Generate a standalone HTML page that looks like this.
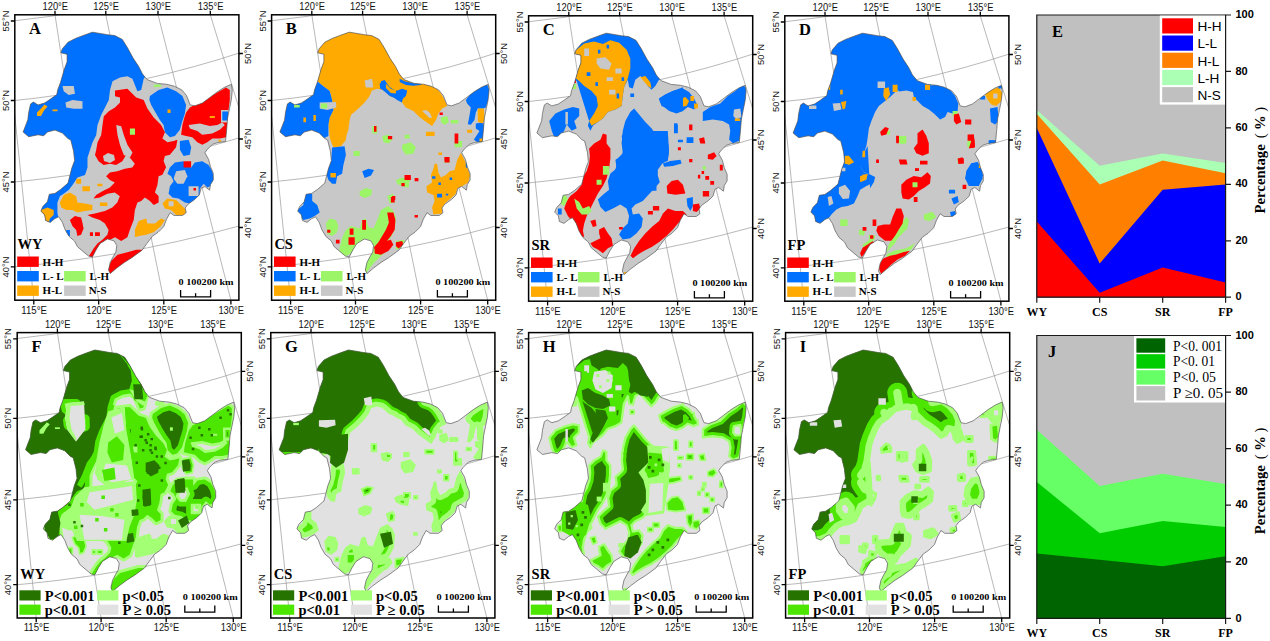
<!DOCTYPE html><html><head><meta charset="utf-8"><title>Figure</title><style>
html,body{margin:0;padding:0;background:#fff}svg{display:block}
text{font-family:"Liberation Sans",sans-serif;fill:#000}
.ax text{font-size:10.2px;fill:#111}
.bs{font-family:"Liberation Serif",serif;font-weight:bold}
.sb{font-family:"Liberation Sans",sans-serif;font-weight:bold}
.sn{font-family:"Liberation Sans",sans-serif}
.sr{font-family:"Liberation Serif",serif}
</style></head><body>
<svg width="1270" height="641" viewBox="0 0 1270 641">
<rect width="1270" height="641" fill="#fff"/>
<defs><clipPath id="mapclip"><polygon points="23.1,132.0 27.8,119.9 28.7,112.4 30.6,103.9 33.4,102.1 38.1,104.9 44.6,103.0 50.2,99.3 56.8,94.6 57.7,89.9 60.5,82.4 64.3,69.3 67.1,61.8 67.1,54.3 60.9,52.8 62.4,48.7 68.0,42.2 75.5,38.4 84.0,35.2 92.4,32.2 99.9,33.4 107.3,34.7 114.8,35.6 122.3,39.4 127.5,47.8 133.1,58.1 138.7,66.5 142.5,74.0 147.1,79.6 157.4,83.4 166.8,84.3 174.3,86.2 181.8,89.9 186.5,95.5 190.2,104.9 194.9,105.8 202.4,103.0 209.9,97.4 217.3,91.8 224.8,87.1 231.4,84.3 232.3,89.9 231.4,99.3 229.5,108.6 227.6,118.0 226.7,129.2 225.5,141.5 218.0,142.5 212.4,144.3 206.8,150.0 204.9,152.8 208.6,159.3 210.5,166.8 213.3,173.4 213.3,179.9 210.5,184.6 209.6,190.2 204.9,186.5 201.1,188.3 199.3,194.9 194.6,199.6 188.0,204.2 185.2,208.0 186.2,212.7 182.4,215.5 174.0,215.5 170.2,212.7 166.5,219.2 163.7,226.7 158.1,232.3 152.4,236.2 146.8,243.6 142.1,250.2 131.8,257.7 124.3,262.4 116.8,268.0 110.2,273.6 108.5,270.0 110.2,262.4 113.1,256.8 115.9,252.1 116.8,245.5 114.0,240.8 107.4,239.0 100.0,243.6 96.0,250.0 92.4,257.0 88.6,256.1 83.0,251.4 77.4,246.7 74.6,241.1 69.0,236.4 65.2,229.9 62.4,222.4 58.7,216.8 54.9,218.6 50.2,222.4 45.6,220.5 44.6,214.9 40.9,211.1 42.8,206.5 47.4,201.8 49.3,194.3 54.9,193.4 60.5,189.6 68.0,183.1 69.9,175.6 71.8,168.1 74.6,160.6 73.6,151.2 70.8,140.0 68.0,138.6 62.4,133.0 54.9,130.1 47.4,132.0 43.7,135.8 38.1,134.8 28.7,136.7"/></clipPath>
<clipPath id="frameclip"><rect x="14.8" y="14.8" width="224.1" height="285.4"/></clipPath></defs>
<g transform="translate(0,0)">
<g clip-path="url(#frameclip)" stroke="#9a9a9a" stroke-width="0.7" fill="none">
<line x1="54.7" y1="12.8" x2="99.0" y2="302.2"/>
<line x1="105.4" y1="12.8" x2="164.3" y2="302.2"/>
<line x1="157.5" y1="12.8" x2="231.4" y2="302.2"/>
<line x1="209.7" y1="12.8" x2="298.6" y2="302.2"/>
<line x1="2.9" y1="0" x2="35.1" y2="313.1"/>
<circle cx="-99.5" cy="-994.0" r="1021.4"/>
<circle cx="-99.5" cy="-994.0" r="1100.5"/>
<circle cx="-99.5" cy="-994.0" r="1181.5"/>
<circle cx="-99.5" cy="-994.0" r="1266.1"/>
</g>
<g clip-path="url(#mapclip)">
<polygon points="23.1,132.0 27.8,119.9 28.7,112.4 30.6,103.9 33.4,102.1 38.1,104.9 44.6,103.0 50.2,99.3 56.8,94.6 57.7,89.9 60.5,82.4 64.3,69.3 67.1,61.8 67.1,54.3 60.9,52.8 62.4,48.7 68.0,42.2 75.5,38.4 84.0,35.2 92.4,32.2 99.9,33.4 107.3,34.7 114.8,35.6 122.3,39.4 127.5,47.8 133.1,58.1 138.7,66.5 142.5,74.0 147.1,79.6 157.4,83.4 166.8,84.3 174.3,86.2 181.8,89.9 186.5,95.5 190.2,104.9 194.9,105.8 202.4,103.0 209.9,97.4 217.3,91.8 224.8,87.1 231.4,84.3 232.3,89.9 231.4,99.3 229.5,108.6 227.6,118.0 226.7,129.2 225.5,141.5 218.0,142.5 212.4,144.3 206.8,150.0 204.9,152.8 208.6,159.3 210.5,166.8 213.3,173.4 213.3,179.9 210.5,184.6 209.6,190.2 204.9,186.5 201.1,188.3 199.3,194.9 194.6,199.6 188.0,204.2 185.2,208.0 186.2,212.7 182.4,215.5 174.0,215.5 170.2,212.7 166.5,219.2 163.7,226.7 158.1,232.3 152.4,236.2 146.8,243.6 142.1,250.2 131.8,257.7 124.3,262.4 116.8,268.0 110.2,273.6 108.5,270.0 110.2,262.4 113.1,256.8 115.9,252.1 116.8,245.5 114.0,240.8 107.4,239.0 100.0,243.6 96.0,250.0 92.4,257.0 88.6,256.1 83.0,251.4 77.4,246.7 74.6,241.1 69.0,236.4 65.2,229.9 62.4,222.4 58.7,216.8 54.9,218.6 50.2,222.4 45.6,220.5 44.6,214.9 40.9,211.1 42.8,206.5 47.4,201.8 49.3,194.3 54.9,193.4 60.5,189.6 68.0,183.1 69.9,175.6 71.8,168.1 74.6,160.6 73.6,151.2 70.8,140.0 68.0,138.6 62.4,133.0 54.9,130.1 47.4,132.0 43.7,135.8 38.1,134.8 28.7,136.7" fill="#c8c8c8"/>
<polygon points="0.0,0.0 150.0,0.0 150.0,70.0 143.7,78.7 141.2,90.0 137.4,91.2 132.4,78.7 127.4,76.2 120.0,77.4 112.5,81.2 110.0,90.0 108.8,100.0 105.0,107.5 101.2,115.0 97.5,125.0 96.2,135.0 92.5,142.5 90.0,150.0 87.5,157.5 87.5,167.5 85.0,175.0 77.5,177.5 72.5,185.0 68.7,189.9 63.7,193.7 59.9,196.2 57.4,202.4 57.4,212.4 58.7,219.9 54.9,223.0 40.0,225.0 0.0,225.0" fill="#0070ff"/>
<polygon points="149.9,96.1 158.6,89.9 167.4,87.4 176.1,91.2 182.4,96.1 186.1,104.9 184.9,113.6 182.4,121.1 179.9,129.8 174.9,136.1 169.9,137.3 164.9,132.3 163.6,124.9 159.9,119.9 156.1,113.6 151.2,104.9 149.4,99.9" fill="#0070ff"/>
<polygon points="179.9,141.1 188.6,139.8 191.1,147.3 189.9,154.8 183.6,156.1 179.9,149.8" fill="#0070ff"/>
<polygon points="169.9,167.4 174.9,162.4 183.6,161.2 184.9,166.2 191.1,167.4 194.8,162.4 202.3,161.2 208.6,164.9 212.3,171.2 214.1,178.7 212.3,184.9 207.3,187.4 203.6,183.7 199.8,188.7 199.8,194.9 196.1,199.9 189.9,203.6 184.9,202.4 178.6,198.6 172.4,197.4 168.6,193.7 169.9,186.2 173.6,181.2 171.1,176.2 167.4,173.7" fill="#0070ff"/>
<polygon points="176.1,171.2 184.9,169.9 187.4,176.2 183.6,183.7 177.4,183.7 173.6,178.7" fill="#c8c8c8"/>
<polygon points="188.6,186.2 198.6,186.2 198.6,196.1 188.6,196.1" fill="#c8c8c8"/>
<polygon points="183.6,161.2 191.1,161.2 191.1,167.4 183.6,167.4" fill="#ff0000"/>
<polygon points="193.5,188.0 196.0,188.0 196.0,190.5 193.5,190.5" fill="#ff0000"/>
<polygon points="66.2,229.9 69.9,229.9 69.9,236.1 66.2,236.1" fill="#0070ff"/>
<polygon points="115.0,90.4 127.4,88.7 136.2,97.4 143.7,99.9 147.4,108.6 153.7,117.4 161.1,124.9 164.9,132.3 162.4,138.6 167.4,142.3 173.6,141.1 177.4,139.8 176.1,147.3 169.9,154.8 164.9,156.1 163.6,161.1 166.1,167.3 162.4,174.8 158.6,176.2 157.4,184.9 154.9,192.4 158.6,196.1 158.6,202.4 153.7,204.9 149.9,201.1 144.9,197.4 141.2,201.1 137.4,202.4 134.9,209.9 133.7,219.9 129.9,229.8 127.4,237.3 121.2,241.1 115.0,237.3 110.0,239.8 105.0,242.3 100.0,248.6 95.0,254.8 91.2,261.1 89.0,256.0 93.6,248.6 97.4,243.6 102.4,239.8 107.4,234.8 108.6,229.9 104.9,223.6 99.9,219.9 92.4,217.4 87.4,214.9 94.9,213.6 104.9,211.1 112.3,207.4 117.3,202.4 119.8,196.2 114.8,192.4 107.4,193.7 99.9,197.4 93.6,198.6 96.1,194.9 102.4,191.2 109.9,187.4 114.8,182.4 109.9,179.9 106.1,176.2 109.9,172.4 117.3,171.2 124.8,168.7 132.3,167.4 134.8,163.7 129.8,157.5 126.1,155.0 122.3,161.2 116.1,164.9 109.9,163.7 103.6,164.9 98.6,161.2 95.0,155.0 96.2,150.0 97.5,142.5 101.2,135.0 102.5,125.0 103.8,116.2 108.8,111.2 115.0,107.5 120.0,102.5 120.0,97.5 115.0,96.2" fill="#ff0000"/>
<polygon points="116.2,125.0 121.2,126.2 123.8,135.0 127.5,145.0 132.5,152.5 130.0,157.5 123.8,155.0 120.0,145.0 117.5,135.0" fill="#c8c8c8"/>
<polygon points="103.0,156.0 108.0,153.0 114.0,155.0 115.0,160.0 110.0,163.0 104.0,161.0" fill="#c8c8c8"/>
<polygon points="186.1,112.4 189.9,107.4 197.3,103.6 207.3,98.6 217.3,92.4 226.0,87.4 229.8,89.9 229.8,99.9 228.5,109.9 227.3,119.9 228.5,129.8 226.0,137.3 219.8,138.6 212.3,138.6 207.3,142.3 202.3,144.8 197.3,142.3 192.3,137.3 186.1,136.1 181.1,134.8 182.4,124.9 184.4,117.4" fill="#ff0000"/>
<polygon points="188.6,124.9 199.8,123.6 209.8,126.1 217.3,124.9 222.3,122.4 224.8,124.9 219.8,129.8 212.3,133.6 202.3,134.8 197.3,131.1 189.9,128.6" fill="#c8c8c8"/>
<polygon points="221.0,110.0 229.5,110.0 229.5,122.5 221.0,122.5" fill="#c8c8c8"/>
<polygon points="222.3,111.5 228.0,111.5 228.0,120.6 222.3,120.6" fill="#0070ff"/>
<polygon points="69.9,219.9 74.9,216.1 81.1,217.4 82.4,222.4 83.6,228.6 81.1,234.8 77.4,236.1 76.2,229.9 72.4,226.1" fill="#ff0000"/>
<polygon points="89.9,232.3 93.0,232.3 93.0,236.1 89.9,236.1" fill="#ff0000"/>
<polygon points="95.0,232.3 99.9,232.3 99.9,236.1 95.0,236.1" fill="#ff0000"/>
<polygon points="111.2,261.1 117.5,254.8 127.4,252.3 136.2,249.8 143.7,249.8 143.0,251.5 138.7,254.8 129.9,259.8 121.2,266.0 115.0,272.3 108.0,276.0 108.0,268.5" fill="#ff0000"/>
<polygon points="41.2,209.9 47.4,207.4 53.7,209.9 53.7,214.9 49.9,218.6 48.7,223.6 44.9,222.4 43.7,217.4 38.0,214.9" fill="#ffaa00"/>
<polygon points="59.9,202.4 63.7,194.9 69.9,192.4 76.2,196.2 77.4,202.4 84.9,203.6 92.4,204.9 92.4,209.9 84.9,211.1 77.4,212.4 72.4,209.9 66.2,209.9 61.2,207.4" fill="#ffaa00"/>
<polygon points="76.2,178.7 81.1,178.7 81.1,183.7 76.2,183.7" fill="#ffaa00"/>
<polygon points="82.4,186.2 89.9,186.2 89.9,191.2 82.4,191.2" fill="#ffaa00"/>
<polygon points="97.4,183.7 102.4,183.7 102.4,186.2 97.4,186.2" fill="#ffaa00"/>
<polygon points="99.9,202.4 107.4,202.4 107.4,206.1 99.9,206.1" fill="#ffaa00"/>
<polygon points="162.4,203.6 167.4,198.6 176.1,199.9 181.1,204.9 186.1,209.9 184.9,214.9 176.1,214.9 171.1,209.9 164.9,208.6" fill="#ffaa00"/>
<polygon points="168.6,201.2 173.6,201.2 173.6,206.2 168.6,206.2" fill="#c8c8c8"/>
<polygon points="134.9,229.8 138.7,221.1 146.2,218.6 147.4,223.6 154.9,223.6 161.1,218.6 164.9,219.9 161.1,226.1 153.7,232.3 146.2,234.8 138.7,236.1 134.9,237.3" fill="#ffaa00"/>
<polygon points="37.0,112.5 41.0,108.5 44.5,104.5 47.5,106.5 44.0,110.5 41.0,116.0 37.0,116.0" fill="#ffaa00"/>
<polygon points="52.5,109.5 57.5,109.5 57.5,111.3 52.5,111.3" fill="#ffaa00"/>
<polygon points="167.5,109.5 170.5,109.5 170.5,113.0 167.5,113.0" fill="#ffaa00"/>
<polygon points="209.8,116.0 214.8,116.0 214.8,118.0 209.8,118.0" fill="#ffaa00"/>
<polygon points="218.5,139.8 221.0,139.8 221.0,141.8 218.5,141.8" fill="#ffaa00"/>
<polygon points="153.7,84.4 161.1,84.4 161.1,86.9 153.7,86.9" fill="#9cf566"/>
<polygon points="129.9,128.6 135.0,128.6 135.0,134.8 129.9,134.8" fill="#9cf566"/>
<polygon points="62.5,86.0 73.7,86.0 75.0,93.7 68.7,95.0 63.7,91.2" fill="#c8c8c8"/>
<polygon points="65.5,102.5 72.5,100.0 82.5,101.2 82.5,108.7 73.7,108.7 66.2,107.5" fill="#c8c8c8"/>
</g>
<polygon points="23.1,132.0 27.8,119.9 28.7,112.4 30.6,103.9 33.4,102.1 38.1,104.9 44.6,103.0 50.2,99.3 56.8,94.6 57.7,89.9 60.5,82.4 64.3,69.3 67.1,61.8 67.1,54.3 60.9,52.8 62.4,48.7 68.0,42.2 75.5,38.4 84.0,35.2 92.4,32.2 99.9,33.4 107.3,34.7 114.8,35.6 122.3,39.4 127.5,47.8 133.1,58.1 138.7,66.5 142.5,74.0 147.1,79.6 157.4,83.4 166.8,84.3 174.3,86.2 181.8,89.9 186.5,95.5 190.2,104.9 194.9,105.8 202.4,103.0 209.9,97.4 217.3,91.8 224.8,87.1 231.4,84.3 232.3,89.9 231.4,99.3 229.5,108.6 227.6,118.0 226.7,129.2 225.5,141.5 218.0,142.5 212.4,144.3 206.8,150.0 204.9,152.8 208.6,159.3 210.5,166.8 213.3,173.4 213.3,179.9 210.5,184.6 209.6,190.2 204.9,186.5 201.1,188.3 199.3,194.9 194.6,199.6 188.0,204.2 185.2,208.0 186.2,212.7 182.4,215.5 174.0,215.5 170.2,212.7 166.5,219.2 163.7,226.7 158.1,232.3 152.4,236.2 146.8,243.6 142.1,250.2 131.8,257.7 124.3,262.4 116.8,268.0 110.2,273.6 108.5,270.0 110.2,262.4 113.1,256.8 115.9,252.1 116.8,245.5 114.0,240.8 107.4,239.0 100.0,243.6 96.0,250.0 92.4,257.0 88.6,256.1 83.0,251.4 77.4,246.7 74.6,241.1 69.0,236.4 65.2,229.9 62.4,222.4 58.7,216.8 54.9,218.6 50.2,222.4 45.6,220.5 44.6,214.9 40.9,211.1 42.8,206.5 47.4,201.8 49.3,194.3 54.9,193.4 60.5,189.6 68.0,183.1 69.9,175.6 71.8,168.1 74.6,160.6 73.6,151.2 70.8,140.0 68.0,138.6 62.4,133.0 54.9,130.1 47.4,132.0 43.7,135.8 38.1,134.8 28.7,136.7" fill="none" stroke="#555" stroke-width="0.7" stroke-linejoin="round"/>
<rect x="14.8" y="14.8" width="224.1" height="285.4" fill="none" stroke="#000" stroke-width="1.5"/>
<path d="M55.0 14.8 v-4 M105.8 14.8 v-4 M158.0 14.8 v-4 M210.3 14.8 v-4 M33.8 300.2 v4.3 M98.7 300.2 v4.3 M163.8 300.2 v4.3 M230.9 300.2 v4.3 M14.8 21.0 h-4 M14.8 100.5 h-4 M14.8 182.0 h-4 M14.8 266.9 h-4 M238.9 53.5 h4 M238.9 139.0 h4 M238.9 227.5 h4" stroke="#000" stroke-width="1.3" fill="none"/>
<g class="ax">
<text x="55.3" y="9.9" text-anchor="middle" textLength="25.6" lengthAdjust="spacingAndGlyphs">120°E</text>
<text x="106.1" y="9.9" text-anchor="middle" textLength="25.6" lengthAdjust="spacingAndGlyphs">125°E</text>
<text x="158.3" y="9.9" text-anchor="middle" textLength="25.6" lengthAdjust="spacingAndGlyphs">130°E</text>
<text x="210.60000000000002" y="9.9" text-anchor="middle" textLength="25.6" lengthAdjust="spacingAndGlyphs">135°E</text>
<text x="34.099999999999994" y="313.6" text-anchor="middle" textLength="25.6" lengthAdjust="spacingAndGlyphs">115°E</text>
<text x="99.0" y="313.6" text-anchor="middle" textLength="25.6" lengthAdjust="spacingAndGlyphs">120°E</text>
<text x="164.10000000000002" y="313.6" text-anchor="middle" textLength="25.6" lengthAdjust="spacingAndGlyphs">125°E</text>
<text x="231.20000000000002" y="313.6" text-anchor="middle" textLength="25.6" lengthAdjust="spacingAndGlyphs">130°E</text>
<text transform="translate(8.9,21.0) rotate(-90)" text-anchor="middle" font-size="9.6" textLength="21" lengthAdjust="spacingAndGlyphs" style="font-size:9.6px">55°N</text>
<text transform="translate(8.9,100.5) rotate(-90)" text-anchor="middle" font-size="9.6" textLength="21" lengthAdjust="spacingAndGlyphs" style="font-size:9.6px">50°N</text>
<text transform="translate(8.9,182.0) rotate(-90)" text-anchor="middle" font-size="9.6" textLength="21" lengthAdjust="spacingAndGlyphs" style="font-size:9.6px">45°N</text>
<text transform="translate(8.9,266.9) rotate(-90)" text-anchor="middle" font-size="9.6" textLength="21" lengthAdjust="spacingAndGlyphs" style="font-size:9.6px">40°N</text>
<text transform="translate(250.6,53.5) rotate(-90)" text-anchor="middle" textLength="21" lengthAdjust="spacingAndGlyphs" style="font-size:9.6px">50°N</text>
<text transform="translate(250.6,139.0) rotate(-90)" text-anchor="middle" textLength="21" lengthAdjust="spacingAndGlyphs" style="font-size:9.6px">45°N</text>
<text transform="translate(250.6,227.5) rotate(-90)" text-anchor="middle" textLength="21" lengthAdjust="spacingAndGlyphs" style="font-size:9.6px">40°N</text>
</g>
<text class="bs" x="29" y="34.2" font-size="16.5">A</text>
<text class="bs" x="17.6" y="248.8" font-size="14.5">WY</text>
<rect x="17.2" y="256.5" width="21.6" height="10.4" fill="#ff0000"/>
<rect x="17.2" y="271" width="21.6" height="10.4" fill="#0070ff"/>
<rect x="17.2" y="285.5" width="21.6" height="10.4" fill="#ffaa00"/>
<rect x="64.1" y="271" width="21.6" height="10.4" fill="#9cf566"/>
<rect x="64.1" y="285.5" width="21.6" height="10.4" fill="#c8c8c8"/>
<text class="bs" x="42.6" y="266" font-size="11">H-H</text>
<text class="bs" x="42.6" y="280" font-size="11">L- L</text>
<text class="bs" x="42.6" y="294.4" font-size="11">H-L</text>
<text class="bs" x="89.6" y="280" font-size="11">L-H</text>
<text class="bs" x="88.8" y="294.4" font-size="11">N-S</text>
<path d="M180.6 290 v6.8 h30 v-6.8 M195.6 293.2 v3.6" stroke="#000" stroke-width="1.3" fill="none"/>
<text class="bs" x="178.6" y="285" font-size="7.6" textLength="55" lengthAdjust="spacingAndGlyphs">0 100200 km</text>
</g>
<g transform="translate(256.8,0)">
<g clip-path="url(#frameclip)" stroke="#9a9a9a" stroke-width="0.7" fill="none">
<line x1="54.7" y1="12.8" x2="99.0" y2="302.2"/>
<line x1="105.4" y1="12.8" x2="164.3" y2="302.2"/>
<line x1="157.5" y1="12.8" x2="231.4" y2="302.2"/>
<line x1="209.7" y1="12.8" x2="298.6" y2="302.2"/>
<line x1="2.9" y1="0" x2="35.1" y2="313.1"/>
<circle cx="-99.5" cy="-994.0" r="1021.4"/>
<circle cx="-99.5" cy="-994.0" r="1100.5"/>
<circle cx="-99.5" cy="-994.0" r="1181.5"/>
<circle cx="-99.5" cy="-994.0" r="1266.1"/>
</g>
<g clip-path="url(#mapclip)">
<polygon points="23.1,132.0 27.8,119.9 28.7,112.4 30.6,103.9 33.4,102.1 38.1,104.9 44.6,103.0 50.2,99.3 56.8,94.6 57.7,89.9 60.5,82.4 64.3,69.3 67.1,61.8 67.1,54.3 60.9,52.8 62.4,48.7 68.0,42.2 75.5,38.4 84.0,35.2 92.4,32.2 99.9,33.4 107.3,34.7 114.8,35.6 122.3,39.4 127.5,47.8 133.1,58.1 138.7,66.5 142.5,74.0 147.1,79.6 157.4,83.4 166.8,84.3 174.3,86.2 181.8,89.9 186.5,95.5 190.2,104.9 194.9,105.8 202.4,103.0 209.9,97.4 217.3,91.8 224.8,87.1 231.4,84.3 232.3,89.9 231.4,99.3 229.5,108.6 227.6,118.0 226.7,129.2 225.5,141.5 218.0,142.5 212.4,144.3 206.8,150.0 204.9,152.8 208.6,159.3 210.5,166.8 213.3,173.4 213.3,179.9 210.5,184.6 209.6,190.2 204.9,186.5 201.1,188.3 199.3,194.9 194.6,199.6 188.0,204.2 185.2,208.0 186.2,212.7 182.4,215.5 174.0,215.5 170.2,212.7 166.5,219.2 163.7,226.7 158.1,232.3 152.4,236.2 146.8,243.6 142.1,250.2 131.8,257.7 124.3,262.4 116.8,268.0 110.2,273.6 108.5,270.0 110.2,262.4 113.1,256.8 115.9,252.1 116.8,245.5 114.0,240.8 107.4,239.0 100.0,243.6 96.0,250.0 92.4,257.0 88.6,256.1 83.0,251.4 77.4,246.7 74.6,241.1 69.0,236.4 65.2,229.9 62.4,222.4 58.7,216.8 54.9,218.6 50.2,222.4 45.6,220.5 44.6,214.9 40.9,211.1 42.8,206.5 47.4,201.8 49.3,194.3 54.9,193.4 60.5,189.6 68.0,183.1 69.9,175.6 71.8,168.1 74.6,160.6 73.6,151.2 70.8,140.0 68.0,138.6 62.4,133.0 54.9,130.1 47.4,132.0 43.7,135.8 38.1,134.8 28.7,136.7" fill="#c8c8c8"/>
<polygon points="-0.8,15.0 233.8,15.0 171.6,81.2 169.1,82.9 164.1,84.9 156.6,83.7 150.4,87.4 145.4,88.7 142.9,92.4 141.6,98.6 136.6,97.4 132.9,96.1 126.6,89.9 120.4,88.7 115.4,90.4 115.3,89.9 112.8,96.1 107.8,102.4 101.6,108.6 94.1,114.9 92.8,119.9 91.6,129.8 89.1,137.3 84.1,144.8 79.1,147.3 90.3,130.0 89.1,140.0 84.1,146.2 76.6,147.5 73.6,140.0 71.6,130.0 72.9,134.8 71.6,124.8 72.9,117.4 76.6,109.9 75.3,99.9 72.9,91.1 66.6,86.2 60.4,81.2 -0.8,81.2" fill="#ffaa00"/>
<polygon points="142.9,82.4 150.4,86.2 156.6,83.7 164.1,83.7 169.1,82.9 175.3,84.9 180.3,88.7 184.1,93.6 187.8,99.9 190.3,106.1 185.3,108.6 181.6,113.6 179.1,119.9 175.3,126.1 171.6,123.6 166.6,119.9 161.6,116.1 156.6,111.1 149.1,107.4 145.4,102.4 140.4,98.6" fill="#ffaa00"/>
<polygon points="165.3,111.1 169.1,109.9 172.8,112.4 175.3,117.4 172.8,117.9 169.6,114.9" fill="#c8c8c8"/>
<polygon points="107.8,80.4 115.3,78.7 116.5,87.4 109.0,87.4" fill="#c8c8c8"/>
<polygon points="-0.8,81.2 60.4,81.2 66.6,86.2 72.9,91.1 75.3,99.9 76.6,109.9 72.9,117.4 71.6,124.8 71.6,136.1 59.1,142.3 -0.8,142.3" fill="#0070ff"/>
<polygon points="62.9,102.4 79.1,101.9 79.6,107.4 70.4,109.9 62.9,108.6" fill="#c8c8c8"/>
<polygon points="64.1,103.6 70.4,103.6 70.4,108.6 64.1,108.6" fill="#9cf566"/>
<polygon points="37.2,104.9 42.9,104.9 42.9,107.4 37.2,107.4" fill="#9cf566"/>
<polygon points="56.6,114.9 59.1,114.9 59.1,121.1 56.6,121.1" fill="#ffaa00"/>
<polygon points="46.6,117.4 49.1,117.4 49.1,122.3 46.6,122.3" fill="#ffaa00"/>
<polygon points="75.3,147.5 87.8,146.2 89.1,155.0 86.6,164.9 85.3,173.7 80.3,176.2 79.1,183.7 75.3,183.7 71.6,179.9 69.1,172.4 72.9,164.9 74.6,157.5" fill="#0070ff"/>
<polygon points="73.6,172.9 79.1,172.9 79.1,177.4 73.6,177.4" fill="#ffaa00"/>
<polygon points="122.8,83.7 126.5,80.4 130.3,84.9 135.3,88.7 141.5,93.6 146.0,98.6 145.2,102.4 140.2,99.9 134.0,94.9 127.8,91.1 123.5,88.7" fill="#0070ff"/>
<polygon points="124.1,81.2 127.9,79.9 132.9,87.4 139.1,91.1 145.4,88.7 150.4,90.4 149.1,96.1 144.6,99.9 139.1,98.6 132.9,96.1 126.6,90.4" fill="#0070ff"/>
<polygon points="129.1,83.7 134.1,88.7 139.1,90.4 139.1,93.6 134.1,92.9 129.1,87.9" fill="#ffaa00"/>
<polygon points="142.9,78.7 147.9,81.2 155.3,82.9 164.1,82.9 164.1,84.9 156.1,85.7 149.1,84.9 142.9,81.9" fill="#0070ff"/>
<polygon points="209.0,99.9 214.0,93.6 221.5,88.7 230.2,84.4 232.7,89.9 231.5,99.9 229.0,107.4 226.5,108.6 221.0,108.6 219.0,112.4 217.7,119.9 214.0,124.8 211.0,124.3 212.8,114.9 214.0,107.4 210.3,103.6" fill="#0070ff"/>
<polygon points="219.0,123.6 226.5,122.3 228.0,129.8 227.0,142.3 221.5,142.8 217.0,139.8 222.7,131.1 219.0,128.6" fill="#0070ff"/>
<polygon points="221.0,108.6 227.0,108.6 228.0,119.9 225.7,123.6 221.0,121.8" fill="#ffaa00"/>
<polygon points="222.7,138.6 227.0,138.6 227.0,142.3 222.7,142.3" fill="#ffaa00"/>
<polygon points="169.1,131.8 177.8,131.8 177.8,136.1 169.1,136.1" fill="#ffaa00"/>
<polygon points="210.3,129.8 215.3,129.8 215.3,132.8 210.3,132.8" fill="#ffaa00"/>
<polygon points="197.8,169.9 200.3,160.0 204.0,153.0 207.8,160.0 210.3,167.4 213.3,174.9 211.5,182.4 205.3,186.2 200.3,188.7 199.0,193.7 194.0,198.6 189.0,202.4 185.3,207.4 185.3,213.6 176.6,214.4 175.3,207.4 177.8,201.1 176.6,194.9 170.3,192.4 169.6,186.2 175.3,182.4 174.1,174.9 176.6,168.7 177.8,163.7 180.3,163.7 181.6,172.4 184.1,177.4 189.0,174.9 192.8,171.2" fill="#ffaa00"/>
<polygon points="180.3,193.7 185.3,193.7 185.3,197.4 180.3,197.4" fill="#0070ff"/>
<polygon points="175.3,176.2 178.6,176.2 178.6,178.7 175.3,178.7" fill="#0070ff"/>
<polygon points="181.6,182.4 184.1,182.4 184.1,184.9 181.6,184.9" fill="#0070ff"/>
<polygon points="209.0,162.4 211.5,162.4 211.5,167.4 209.0,167.4" fill="#0070ff"/>
<polygon points="189.0,193.7 191.5,193.7 191.5,195.4 189.0,195.4" fill="#0070ff"/>
<polygon points="192.8,177.4 195.3,177.4 195.3,179.9 192.8,179.9" fill="#0070ff"/>
<polygon points="181.6,152.5 185.3,152.5 185.3,155.0 181.6,155.0" fill="#ffaa00"/>
<polygon points="105.4,171.2 111.7,168.7 117.2,169.9 114.2,175.4 107.9,177.9" fill="#0070ff"/>
<polygon points="40.4,209.9 46.6,204.9 46.6,194.9 50.4,191.9 55.4,193.7 55.4,201.1 60.4,204.9 62.9,212.4 57.9,216.1 52.9,218.6 46.6,219.9 42.9,216.1" fill="#0070ff"/>
<polygon points="184.1,117.4 190.3,116.1 192.0,122.3 187.8,124.8 184.1,122.3" fill="#9cf566"/>
<polygon points="194.0,119.9 201.5,119.9 201.5,123.6 194.0,123.6" fill="#9cf566"/>
<polygon points="197.8,141.1 205.3,141.1 205.3,147.3 197.8,147.3" fill="#9cf566"/>
<polygon points="115.4,126.1 120.4,126.1 120.4,133.6 115.4,133.6" fill="#9cf566"/>
<polygon points="125.4,136.1 131.6,134.8 135.4,139.8 131.6,143.6 126.6,142.3" fill="#9cf566"/>
<polygon points="147.9,134.8 152.9,134.8 152.9,138.6 147.9,138.6" fill="#9cf566"/>
<polygon points="145.4,144.8 154.1,142.3 159.1,147.3 156.6,153.5 149.1,154.8 145.4,149.8" fill="#9cf566"/>
<polygon points="96.7,151.1 102.9,151.1 102.9,156.0 96.7,156.0" fill="#9cf566"/>
<polygon points="187.8,158.5 192.8,158.5 192.8,162.8 187.8,162.8" fill="#9cf566"/>
<polygon points="102.9,191.2 109.2,187.9 115.4,189.9 114.2,195.4 107.9,197.9 102.9,195.4" fill="#9cf566"/>
<polygon points="139.1,179.9 145.4,177.4 152.9,179.9 151.6,187.4 145.4,186.2 140.4,183.7" fill="#9cf566"/>
<polygon points="130.4,196.1 136.6,193.7 137.9,202.4 132.9,203.6" fill="#9cf566"/>
<polygon points="69.1,223.6 72.9,218.6 79.1,219.9 81.6,226.1 80.3,232.3 75.3,236.1 70.4,233.6" fill="#9cf566"/>
<polygon points="145.2,178.7 152.7,179.9 151.5,187.4 145.2,186.2" fill="#9cf566"/>
<polygon points="89.2,229.8 94.2,226.1 102.9,228.6 105.4,219.9 109.2,218.6 111.7,227.3 116.7,228.6 120.4,219.9 124.1,209.9 131.6,206.1 136.6,211.1 139.1,217.4 137.9,229.8 134.1,237.3 129.1,243.6 126.6,249.8 132.9,248.6 124.1,256.1 116.7,263.5 111.7,269.8 108.7,274.8 106.7,269.8 109.2,264.8 111.7,259.8 115.4,253.6 117.2,247.3 114.2,241.1 109.2,238.6 104.2,242.3 99.2,248.6 94.2,253.6 89.2,256.1 81.7,257.3 83.0,247.3 85.5,237.3" fill="#9cf566"/>
<polygon points="139.1,241.1 147.9,239.8 145.4,247.3 139.1,249.8" fill="#9cf566"/>
<polygon points="182.8,112.4 186.0,112.4 186.0,114.9 182.8,114.9" fill="#ff0000"/>
<polygon points="197.8,133.6 201.5,133.6 201.5,143.6 197.8,143.6" fill="#ff0000"/>
<polygon points="117.2,126.1 119.7,126.1 119.7,131.8 117.2,131.8" fill="#ff0000"/>
<polygon points="131.1,136.1 135.4,136.1 135.4,139.3 131.1,139.3" fill="#ff0000"/>
<polygon points="187.8,157.3 191.0,157.3 191.0,161.0 187.8,161.0" fill="#ff0000"/>
<polygon points="187.8,157.0 192.8,157.0 192.8,162.4 187.8,162.4" fill="#ff0000"/>
<polygon points="157.8,214.9 161.1,214.9 161.1,217.4 157.8,217.4" fill="#ff0000"/>
<polygon points="149.1,176.2 153.6,176.2 153.6,179.4 149.1,179.4" fill="#ff0000"/>
<polygon points="157.8,177.9 161.6,177.9 161.6,181.2 157.8,181.2" fill="#ff0000"/>
<polygon points="144.6,182.9 147.9,182.9 147.9,186.2 144.6,186.2" fill="#ff0000"/>
<polygon points="134.1,196.9 137.9,196.9 137.9,202.4 134.1,202.4" fill="#ff0000"/>
<polygon points="130.4,212.4 136.6,212.4 138.6,219.9 137.9,229.8 134.1,236.1 129.1,242.3 125.4,248.6 119.2,252.3 117.2,247.3 121.6,242.3 125.4,236.1 129.1,229.8 132.1,222.4" fill="#ff0000"/>
<polygon points="139.1,242.3 145.4,241.1 146.6,244.8 141.6,248.6 139.1,246.1" fill="#ff0000"/>
<polygon points="105.4,219.9 109.2,219.9 109.2,229.8 105.4,229.8" fill="#ff0000"/>
<polygon points="92.9,228.6 96.7,228.6 96.7,234.8 92.9,234.8" fill="#ff0000"/>
<polygon points="91.7,237.3 97.9,237.3 97.9,244.8 91.7,244.8" fill="#ff0000"/>
<polygon points="79.1,239.8 82.8,239.8 82.8,243.6 79.1,243.6" fill="#ff0000"/>
<polygon points="70.4,229.8 73.6,229.8 73.6,232.8 70.4,232.8" fill="#ff0000"/>
<polygon points="147.7,174.9 154.0,174.9 154.0,179.9 147.7,179.9" fill="#ff0000"/>
<polygon points="135.3,196.1 138.5,196.1 138.5,199.9 135.3,199.9" fill="#ff0000"/>
<polygon points="117.8,247.3 124.1,242.3 134.1,239.8 136.6,244.8 131.6,251.1 124.1,254.8 117.8,253.6" fill="#ff0000"/>
</g>
<polygon points="23.1,132.0 27.8,119.9 28.7,112.4 30.6,103.9 33.4,102.1 38.1,104.9 44.6,103.0 50.2,99.3 56.8,94.6 57.7,89.9 60.5,82.4 64.3,69.3 67.1,61.8 67.1,54.3 60.9,52.8 62.4,48.7 68.0,42.2 75.5,38.4 84.0,35.2 92.4,32.2 99.9,33.4 107.3,34.7 114.8,35.6 122.3,39.4 127.5,47.8 133.1,58.1 138.7,66.5 142.5,74.0 147.1,79.6 157.4,83.4 166.8,84.3 174.3,86.2 181.8,89.9 186.5,95.5 190.2,104.9 194.9,105.8 202.4,103.0 209.9,97.4 217.3,91.8 224.8,87.1 231.4,84.3 232.3,89.9 231.4,99.3 229.5,108.6 227.6,118.0 226.7,129.2 225.5,141.5 218.0,142.5 212.4,144.3 206.8,150.0 204.9,152.8 208.6,159.3 210.5,166.8 213.3,173.4 213.3,179.9 210.5,184.6 209.6,190.2 204.9,186.5 201.1,188.3 199.3,194.9 194.6,199.6 188.0,204.2 185.2,208.0 186.2,212.7 182.4,215.5 174.0,215.5 170.2,212.7 166.5,219.2 163.7,226.7 158.1,232.3 152.4,236.2 146.8,243.6 142.1,250.2 131.8,257.7 124.3,262.4 116.8,268.0 110.2,273.6 108.5,270.0 110.2,262.4 113.1,256.8 115.9,252.1 116.8,245.5 114.0,240.8 107.4,239.0 100.0,243.6 96.0,250.0 92.4,257.0 88.6,256.1 83.0,251.4 77.4,246.7 74.6,241.1 69.0,236.4 65.2,229.9 62.4,222.4 58.7,216.8 54.9,218.6 50.2,222.4 45.6,220.5 44.6,214.9 40.9,211.1 42.8,206.5 47.4,201.8 49.3,194.3 54.9,193.4 60.5,189.6 68.0,183.1 69.9,175.6 71.8,168.1 74.6,160.6 73.6,151.2 70.8,140.0 68.0,138.6 62.4,133.0 54.9,130.1 47.4,132.0 43.7,135.8 38.1,134.8 28.7,136.7" fill="none" stroke="#555" stroke-width="0.7" stroke-linejoin="round"/>
<rect x="14.8" y="14.8" width="224.1" height="285.4" fill="none" stroke="#000" stroke-width="1.5"/>
<path d="M55.0 14.8 v-4 M105.8 14.8 v-4 M158.0 14.8 v-4 M210.3 14.8 v-4 M33.8 300.2 v4.3 M98.7 300.2 v4.3 M163.8 300.2 v4.3 M230.9 300.2 v4.3 M14.8 21.0 h-4 M14.8 100.5 h-4 M14.8 182.0 h-4 M14.8 266.9 h-4 M238.9 53.5 h4 M238.9 139.0 h4 M238.9 227.5 h4" stroke="#000" stroke-width="1.3" fill="none"/>
<g class="ax">
<text x="55.3" y="9.9" text-anchor="middle" textLength="25.6" lengthAdjust="spacingAndGlyphs">120°E</text>
<text x="106.1" y="9.9" text-anchor="middle" textLength="25.6" lengthAdjust="spacingAndGlyphs">125°E</text>
<text x="158.3" y="9.9" text-anchor="middle" textLength="25.6" lengthAdjust="spacingAndGlyphs">130°E</text>
<text x="210.60000000000002" y="9.9" text-anchor="middle" textLength="25.6" lengthAdjust="spacingAndGlyphs">135°E</text>
<text x="34.099999999999994" y="313.6" text-anchor="middle" textLength="25.6" lengthAdjust="spacingAndGlyphs">115°E</text>
<text x="99.0" y="313.6" text-anchor="middle" textLength="25.6" lengthAdjust="spacingAndGlyphs">120°E</text>
<text x="164.10000000000002" y="313.6" text-anchor="middle" textLength="25.6" lengthAdjust="spacingAndGlyphs">125°E</text>
<text x="231.20000000000002" y="313.6" text-anchor="middle" textLength="25.6" lengthAdjust="spacingAndGlyphs">130°E</text>
<text transform="translate(8.9,21.0) rotate(-90)" text-anchor="middle" font-size="9.6" textLength="21" lengthAdjust="spacingAndGlyphs" style="font-size:9.6px">55°N</text>
<text transform="translate(8.9,100.5) rotate(-90)" text-anchor="middle" font-size="9.6" textLength="21" lengthAdjust="spacingAndGlyphs" style="font-size:9.6px">50°N</text>
<text transform="translate(8.9,182.0) rotate(-90)" text-anchor="middle" font-size="9.6" textLength="21" lengthAdjust="spacingAndGlyphs" style="font-size:9.6px">45°N</text>
<text transform="translate(8.9,266.9) rotate(-90)" text-anchor="middle" font-size="9.6" textLength="21" lengthAdjust="spacingAndGlyphs" style="font-size:9.6px">40°N</text>
<text transform="translate(250.6,53.5) rotate(-90)" text-anchor="middle" textLength="21" lengthAdjust="spacingAndGlyphs" style="font-size:9.6px">50°N</text>
<text transform="translate(250.6,139.0) rotate(-90)" text-anchor="middle" textLength="21" lengthAdjust="spacingAndGlyphs" style="font-size:9.6px">45°N</text>
<text transform="translate(250.6,227.5) rotate(-90)" text-anchor="middle" textLength="21" lengthAdjust="spacingAndGlyphs" style="font-size:9.6px">40°N</text>
</g>
<text class="bs" x="29" y="34.2" font-size="16.5">B</text>
<text class="bs" x="17.6" y="248.8" font-size="14.5">CS</text>
<rect x="17.2" y="256.5" width="21.6" height="10.4" fill="#ff0000"/>
<rect x="17.2" y="271" width="21.6" height="10.4" fill="#0070ff"/>
<rect x="17.2" y="285.5" width="21.6" height="10.4" fill="#ffaa00"/>
<rect x="64.1" y="271" width="21.6" height="10.4" fill="#9cf566"/>
<rect x="64.1" y="285.5" width="21.6" height="10.4" fill="#c8c8c8"/>
<text class="bs" x="42.6" y="266" font-size="11">H-H</text>
<text class="bs" x="42.6" y="280" font-size="11">L- L</text>
<text class="bs" x="42.6" y="294.4" font-size="11">H-L</text>
<text class="bs" x="89.6" y="280" font-size="11">L-H</text>
<text class="bs" x="88.8" y="294.4" font-size="11">N-S</text>
<path d="M180.6 290 v6.8 h30 v-6.8 M195.6 293.2 v3.6" stroke="#000" stroke-width="1.3" fill="none"/>
<text class="bs" x="178.6" y="285" font-size="7.6" textLength="55" lengthAdjust="spacingAndGlyphs">0 100200 km</text>
</g>
<g transform="translate(513.8,1)">
<g clip-path="url(#frameclip)" stroke="#9a9a9a" stroke-width="0.7" fill="none">
<line x1="54.7" y1="12.8" x2="99.0" y2="302.2"/>
<line x1="105.4" y1="12.8" x2="164.3" y2="302.2"/>
<line x1="157.5" y1="12.8" x2="231.4" y2="302.2"/>
<line x1="209.7" y1="12.8" x2="298.6" y2="302.2"/>
<line x1="2.9" y1="0" x2="35.1" y2="313.1"/>
<circle cx="-99.5" cy="-994.0" r="1021.4"/>
<circle cx="-99.5" cy="-994.0" r="1100.5"/>
<circle cx="-99.5" cy="-994.0" r="1181.5"/>
<circle cx="-99.5" cy="-994.0" r="1266.1"/>
</g>
<g clip-path="url(#mapclip)">
<polygon points="23.1,132.0 27.8,119.9 28.7,112.4 30.6,103.9 33.4,102.1 38.1,104.9 44.6,103.0 50.2,99.3 56.8,94.6 57.7,89.9 60.5,82.4 64.3,69.3 67.1,61.8 67.1,54.3 60.9,52.8 62.4,48.7 68.0,42.2 75.5,38.4 84.0,35.2 92.4,32.2 99.9,33.4 107.3,34.7 114.8,35.6 122.3,39.4 127.5,47.8 133.1,58.1 138.7,66.5 142.5,74.0 147.1,79.6 157.4,83.4 166.8,84.3 174.3,86.2 181.8,89.9 186.5,95.5 190.2,104.9 194.9,105.8 202.4,103.0 209.9,97.4 217.3,91.8 224.8,87.1 231.4,84.3 232.3,89.9 231.4,99.3 229.5,108.6 227.6,118.0 226.7,129.2 225.5,141.5 218.0,142.5 212.4,144.3 206.8,150.0 204.9,152.8 208.6,159.3 210.5,166.8 213.3,173.4 213.3,179.9 210.5,184.6 209.6,190.2 204.9,186.5 201.1,188.3 199.3,194.9 194.6,199.6 188.0,204.2 185.2,208.0 186.2,212.7 182.4,215.5 174.0,215.5 170.2,212.7 166.5,219.2 163.7,226.7 158.1,232.3 152.4,236.2 146.8,243.6 142.1,250.2 131.8,257.7 124.3,262.4 116.8,268.0 110.2,273.6 108.5,270.0 110.2,262.4 113.1,256.8 115.9,252.1 116.8,245.5 114.0,240.8 107.4,239.0 100.0,243.6 96.0,250.0 92.4,257.0 88.6,256.1 83.0,251.4 77.4,246.7 74.6,241.1 69.0,236.4 65.2,229.9 62.4,222.4 58.7,216.8 54.9,218.6 50.2,222.4 45.6,220.5 44.6,214.9 40.9,211.1 42.8,206.5 47.4,201.8 49.3,194.3 54.9,193.4 60.5,189.6 68.0,183.1 69.9,175.6 71.8,168.1 74.6,160.6 73.6,151.2 70.8,140.0 68.0,138.6 62.4,133.0 54.9,130.1 47.4,132.0 43.7,135.8 38.1,134.8 28.7,136.7" fill="#c8c8c8"/>
<polygon points="46.6,25.0 183.9,25.0 183.9,78.7 145.2,78.7 141.5,84.9 137.7,88.7 134.0,84.9 130.3,78.7 126.5,74.9 121.5,78.7 119.0,87.4 115.3,86.2 114.0,78.7 110.3,86.2 109.0,94.9 107.8,104.9 101.6,108.6 94.1,111.1 89.1,117.4 84.1,121.1 79.1,124.8 76.6,129.8 74.1,124.8 75.3,119.9 69.1,99.9 62.9,79.9 46.6,74.9" fill="#0070ff"/>
<polygon points="62.9,48.7 70.4,42.5 80.3,40.5 89.1,43.0 96.6,39.2 105.3,41.7 112.8,48.7 116.5,57.4 116.5,67.4 114.0,77.4 110.3,86.2 109.0,94.9 107.8,104.9 101.6,108.6 94.1,111.1 89.1,117.4 84.1,121.1 77.8,124.8 75.3,119.9 80.3,112.4 84.1,104.9 82.8,96.1 77.8,89.9 70.4,84.9 65.4,79.9 59.1,74.9 54.1,50.0" fill="#ffaa00"/>
<polygon points="70.4,47.5 75.3,47.5 75.3,55.0 70.4,55.0" fill="#c8c8c8"/>
<polygon points="101.6,67.4 107.8,67.4 107.8,72.4 101.6,72.4" fill="#c8c8c8"/>
<polygon points="92.8,76.2 99.1,76.2 99.1,79.9 92.8,79.9" fill="#c8c8c8"/>
<polygon points="95.3,88.7 101.6,88.7 101.6,93.6 95.3,93.6" fill="#c8c8c8"/>
<polygon points="82.8,57.4 91.6,56.2 97.8,62.4 95.3,68.7 86.6,67.4 82.8,62.4" fill="#c8c8c8"/>
<polygon points="72.9,71.2 76.6,71.2 76.6,74.9 72.9,74.9" fill="#0070ff"/>
<polygon points="81.6,81.2 84.1,81.2 84.1,84.9 81.6,84.9" fill="#0070ff"/>
<polygon points="107.8,76.2 110.3,76.2 110.3,79.9 107.8,79.9" fill="#0070ff"/>
<polygon points="116.5,92.4 120.3,92.4 120.3,96.1 116.5,96.1" fill="#0070ff"/>
<polygon points="102.8,92.4 105.3,92.4 105.3,97.4 102.8,97.4" fill="#0070ff"/>
<polygon points="84.1,48.7 86.6,48.7 86.6,52.5 84.1,52.5" fill="#0070ff"/>
<polygon points="92.8,43.7 95.3,43.7 95.3,47.5 92.8,47.5" fill="#0070ff"/>
<polygon points="126.5,76.2 131.5,74.9 136.5,81.2 137.7,87.4 134.0,84.9 130.3,80.4" fill="#ffaa00"/>
<polygon points="35.4,119.9 41.6,112.4 50.4,108.6 59.1,106.1 65.4,107.4 65.4,114.9 60.4,119.9 62.9,127.3 57.9,129.8 52.9,123.6 50.4,129.8 46.6,134.8 40.4,136.1 37.9,129.8" fill="#0070ff"/>
<polygon points="51.6,111.1 54.1,111.1 54.1,123.6 51.6,123.6" fill="#c8c8c8"/>
<polygon points="145.4,97.4 151.6,93.6 159.1,89.9 169.1,87.4 175.3,91.1 180.3,97.4 184.1,104.9 180.3,108.6 174.1,106.1 169.1,109.9 162.8,112.4 155.3,109.9 149.1,104.9 146.1,101.1" fill="#0070ff"/>
<polygon points="165.3,98.6 171.6,96.1 175.3,99.9 172.8,104.9 166.6,106.1" fill="#ffaa00"/>
<polygon points="176.6,94.9 180.3,94.9 180.3,99.9 176.6,99.9" fill="#ffaa00"/>
<polygon points="180.3,102.4 184.1,102.4 184.1,107.4 180.3,107.4" fill="#ffaa00"/>
<polygon points="145.2,97.4 151.5,93.6 159.0,89.9 169.2,86.2 169.2,109.9 161.5,111.1 154.0,107.4 147.7,104.9" fill="#0070ff"/>
<polygon points="189.0,111.1 196.5,106.1 206.5,102.4 214.0,94.9 221.5,89.9 229.0,83.7 234.0,88.7 232.7,99.9 230.2,107.4 229.5,117.4 228.2,127.3 225.7,139.8 219.0,142.3 215.3,138.6 216.5,129.8 215.3,123.6 209.0,119.9 199.0,118.6 189.0,119.9" fill="#0070ff"/>
<polygon points="220.2,108.6 226.5,107.4 227.7,116.1 222.7,118.6 219.5,114.9" fill="#c8c8c8"/>
<polygon points="221.0,117.4 226.5,117.4 226.5,119.9 221.0,119.9" fill="#ffaa00"/>
<polygon points="109.0,129.8 111.5,119.9 116.5,111.1 120.3,107.4 125.3,113.6 131.5,121.1 137.7,127.3 142.7,134.8 150.2,134.8 154.0,139.8 155.2,149.8 154.0,159.8 149.0,161.8 142.7,163.5 142.7,189.7 96.6,189.7 99.1,174.8 102.8,164.8 104.1,157.3 109.0,152.3 107.8,142.3" fill="#0070ff"/>
<polygon points="107.8,135.0 111.5,130.0 139.0,130.0 154.0,130.0 155.2,149.5 154.0,159.5 148.5,162.4 144.0,168.7 144.0,174.4 146.0,181.2 141.0,186.9 134.0,194.4 129.0,199.9 121.5,203.6 117.8,207.4 119.0,213.6 125.3,212.4 129.0,217.4 127.8,226.1 122.8,232.3 116.5,237.3 109.0,238.6 105.3,233.6 109.0,227.3 114.0,222.4 115.3,214.9 112.8,207.4 106.5,203.6 99.1,207.4 91.6,211.1 86.6,206.1 84.1,198.6 89.1,193.7 95.3,188.7 94.1,179.9 96.6,172.4 102.8,167.4 101.6,158.7 107.8,155.0 110.3,147.5" fill="#0070ff"/>
<polygon points="149.1,162.4 156.6,160.0 166.6,158.7 167.8,162.4 159.1,164.9 150.4,165.7" fill="#0070ff"/>
<polygon points="164.1,138.7 169.1,138.7 169.1,141.2 164.1,141.2" fill="#0070ff"/>
<polygon points="172.8,136.2 179.6,136.2 179.6,142.0 172.8,142.0" fill="#0070ff"/>
<polygon points="160.3,122.3 163.6,122.3 163.6,131.1 160.3,131.1" fill="#0070ff"/>
<polygon points="160.2,123.6 164.0,123.6 164.0,132.3 160.2,132.3" fill="#0070ff"/>
<polygon points="172.8,197.4 179.1,196.1 179.1,204.9 176.6,209.9 173.6,204.9" fill="#0070ff"/>
<polygon points="44.1,207.4 47.9,207.4 47.9,213.6 44.1,213.6" fill="#0070ff"/>
<polygon points="75.3,147.5 80.3,142.5 86.6,138.7 89.1,132.5 92.8,133.7 92.8,142.5 96.6,147.5 96.6,157.5 95.3,167.4 92.8,177.4 89.1,184.9 84.1,192.4 80.3,199.9 76.6,207.4 72.9,214.9 70.4,222.4 69.1,229.8 70.4,236.1 66.6,234.8 62.9,227.3 59.1,221.1 54.1,214.9 50.4,207.4 52.9,199.9 56.6,194.9 62.9,189.9 67.9,183.7 69.1,176.2 72.9,169.9 75.3,162.4 76.1,155.0" fill="#ff0000"/>
<polygon points="89.1,164.9 95.3,164.9 95.3,173.7 89.1,173.7" fill="#9cf566"/>
<polygon points="82.8,178.7 87.8,178.7 87.8,183.7 82.8,183.7" fill="#9cf566"/>
<polygon points="60.4,197.4 65.4,201.1 69.1,207.4 75.3,204.9 77.8,209.9 74.1,213.6 67.9,213.6 62.9,207.4" fill="#9cf566"/>
<polygon points="46.6,196.1 51.6,193.7 54.1,198.6 50.4,204.9 46.6,202.4" fill="#9cf566"/>
<polygon points="57.9,82.9 62.4,82.9 62.4,87.9 57.9,87.9" fill="#9cf566"/>
<polygon points="59.1,78.7 62.1,78.7 62.1,81.9 59.1,81.9" fill="#ff0000"/>
<polygon points="76.6,219.9 81.6,218.6 82.8,224.9 79.1,226.1" fill="#ff0000"/>
<polygon points="85.3,228.6 90.3,226.1 94.1,232.3 97.8,237.3 99.1,244.8 94.1,247.3 89.1,252.3 84.1,248.6 79.1,246.1 76.6,242.3 81.6,239.8 86.6,237.3 85.3,232.3" fill="#ff0000"/>
<polygon points="105.3,226.1 109.0,226.1 109.0,228.6 105.3,228.6" fill="#ff0000"/>
<polygon points="152.9,184.9 157.8,179.9 164.1,178.7 169.1,183.7 171.6,192.4 161.6,193.7 153.6,192.4" fill="#ff0000"/>
<polygon points="116.7,254.8 120.4,247.3 125.4,239.8 131.6,232.3 139.1,224.9 145.4,219.9 149.1,212.4 154.1,207.4 161.6,209.9 169.1,209.9 172.8,213.6 169.1,217.4 164.1,222.4 159.1,228.6 152.9,234.8 145.4,241.1 137.9,246.1 130.4,249.8 124.1,253.6 119.2,257.3" fill="#ff0000"/>
<polygon points="179.1,203.6 185.3,202.4 186.5,207.4 182.8,211.1 179.1,209.9" fill="#ff0000"/>
<polygon points="194.0,153.7 200.3,151.2 202.8,155.0 199.0,158.7 194.0,158.0" fill="#ff0000"/>
<polygon points="185.3,137.5 190.3,136.2 191.5,142.5 186.5,142.5" fill="#ff0000"/>
<polygon points="134.1,209.9 139.1,209.9 139.1,213.6 134.1,213.6" fill="#ff0000"/>
<polygon points="139.1,204.9 145.4,204.9 145.4,209.4 139.1,209.4" fill="#ff0000"/>
<polygon points="189.0,189.9 195.3,189.9 195.3,195.4 189.0,195.4" fill="#ff0000"/>
<polygon points="184.1,173.7 186.5,173.7 186.5,177.4 184.1,177.4" fill="#ff0000"/>
<polygon points="187.8,169.9 190.3,169.9 190.3,172.9 187.8,172.9" fill="#ff0000"/>
<polygon points="191.5,174.9 195.3,174.9 195.3,178.7 191.5,178.7" fill="#ff0000"/>
<polygon points="196.5,179.9 200.3,179.9 200.3,183.7 196.5,183.7" fill="#ff0000"/>
<polygon points="206.0,163.7 209.0,163.7 209.0,169.4 206.0,169.4" fill="#ff0000"/>
<polygon points="164.1,146.2 167.1,146.2 167.1,149.2 164.1,149.2" fill="#ff0000"/>
<polygon points="175.3,158.0 178.6,158.0 178.6,161.2 175.3,161.2" fill="#ff0000"/>
<polygon points="175.3,123.6 178.6,123.6 178.6,129.3 175.3,129.3" fill="#ff0000"/>
<polygon points="189.0,164.9 192.0,164.9 192.0,168.7 189.0,168.7" fill="#9cf566"/>
<polygon points="110.4,271.0 114.2,271.0 114.2,273.5 110.4,273.5" fill="#ffaa00"/>
</g>
<polygon points="23.1,132.0 27.8,119.9 28.7,112.4 30.6,103.9 33.4,102.1 38.1,104.9 44.6,103.0 50.2,99.3 56.8,94.6 57.7,89.9 60.5,82.4 64.3,69.3 67.1,61.8 67.1,54.3 60.9,52.8 62.4,48.7 68.0,42.2 75.5,38.4 84.0,35.2 92.4,32.2 99.9,33.4 107.3,34.7 114.8,35.6 122.3,39.4 127.5,47.8 133.1,58.1 138.7,66.5 142.5,74.0 147.1,79.6 157.4,83.4 166.8,84.3 174.3,86.2 181.8,89.9 186.5,95.5 190.2,104.9 194.9,105.8 202.4,103.0 209.9,97.4 217.3,91.8 224.8,87.1 231.4,84.3 232.3,89.9 231.4,99.3 229.5,108.6 227.6,118.0 226.7,129.2 225.5,141.5 218.0,142.5 212.4,144.3 206.8,150.0 204.9,152.8 208.6,159.3 210.5,166.8 213.3,173.4 213.3,179.9 210.5,184.6 209.6,190.2 204.9,186.5 201.1,188.3 199.3,194.9 194.6,199.6 188.0,204.2 185.2,208.0 186.2,212.7 182.4,215.5 174.0,215.5 170.2,212.7 166.5,219.2 163.7,226.7 158.1,232.3 152.4,236.2 146.8,243.6 142.1,250.2 131.8,257.7 124.3,262.4 116.8,268.0 110.2,273.6 108.5,270.0 110.2,262.4 113.1,256.8 115.9,252.1 116.8,245.5 114.0,240.8 107.4,239.0 100.0,243.6 96.0,250.0 92.4,257.0 88.6,256.1 83.0,251.4 77.4,246.7 74.6,241.1 69.0,236.4 65.2,229.9 62.4,222.4 58.7,216.8 54.9,218.6 50.2,222.4 45.6,220.5 44.6,214.9 40.9,211.1 42.8,206.5 47.4,201.8 49.3,194.3 54.9,193.4 60.5,189.6 68.0,183.1 69.9,175.6 71.8,168.1 74.6,160.6 73.6,151.2 70.8,140.0 68.0,138.6 62.4,133.0 54.9,130.1 47.4,132.0 43.7,135.8 38.1,134.8 28.7,136.7" fill="none" stroke="#555" stroke-width="0.7" stroke-linejoin="round"/>
<rect x="14.8" y="14.8" width="224.1" height="285.4" fill="none" stroke="#000" stroke-width="1.5"/>
<path d="M55.0 14.8 v-4 M105.8 14.8 v-4 M158.0 14.8 v-4 M210.3 14.8 v-4 M33.8 300.2 v4.3 M98.7 300.2 v4.3 M163.8 300.2 v4.3 M230.9 300.2 v4.3 M14.8 21.0 h-4 M14.8 100.5 h-4 M14.8 182.0 h-4 M14.8 266.9 h-4 M238.9 53.5 h4 M238.9 139.0 h4 M238.9 227.5 h4" stroke="#000" stroke-width="1.3" fill="none"/>
<g class="ax">
<text x="55.3" y="9.9" text-anchor="middle" textLength="25.6" lengthAdjust="spacingAndGlyphs">120°E</text>
<text x="106.1" y="9.9" text-anchor="middle" textLength="25.6" lengthAdjust="spacingAndGlyphs">125°E</text>
<text x="158.3" y="9.9" text-anchor="middle" textLength="25.6" lengthAdjust="spacingAndGlyphs">130°E</text>
<text x="210.60000000000002" y="9.9" text-anchor="middle" textLength="25.6" lengthAdjust="spacingAndGlyphs">135°E</text>
<text x="34.099999999999994" y="313.6" text-anchor="middle" textLength="25.6" lengthAdjust="spacingAndGlyphs">115°E</text>
<text x="99.0" y="313.6" text-anchor="middle" textLength="25.6" lengthAdjust="spacingAndGlyphs">120°E</text>
<text x="164.10000000000002" y="313.6" text-anchor="middle" textLength="25.6" lengthAdjust="spacingAndGlyphs">125°E</text>
<text x="231.20000000000002" y="313.6" text-anchor="middle" textLength="25.6" lengthAdjust="spacingAndGlyphs">130°E</text>
<text transform="translate(8.9,21.0) rotate(-90)" text-anchor="middle" font-size="9.6" textLength="21" lengthAdjust="spacingAndGlyphs" style="font-size:9.6px">55°N</text>
<text transform="translate(8.9,100.5) rotate(-90)" text-anchor="middle" font-size="9.6" textLength="21" lengthAdjust="spacingAndGlyphs" style="font-size:9.6px">50°N</text>
<text transform="translate(8.9,182.0) rotate(-90)" text-anchor="middle" font-size="9.6" textLength="21" lengthAdjust="spacingAndGlyphs" style="font-size:9.6px">45°N</text>
<text transform="translate(8.9,266.9) rotate(-90)" text-anchor="middle" font-size="9.6" textLength="21" lengthAdjust="spacingAndGlyphs" style="font-size:9.6px">40°N</text>
<text transform="translate(250.6,53.5) rotate(-90)" text-anchor="middle" textLength="21" lengthAdjust="spacingAndGlyphs" style="font-size:9.6px">50°N</text>
<text transform="translate(250.6,139.0) rotate(-90)" text-anchor="middle" textLength="21" lengthAdjust="spacingAndGlyphs" style="font-size:9.6px">45°N</text>
<text transform="translate(250.6,227.5) rotate(-90)" text-anchor="middle" textLength="21" lengthAdjust="spacingAndGlyphs" style="font-size:9.6px">40°N</text>
</g>
<text class="bs" x="29" y="34.2" font-size="16.5">C</text>
<text class="bs" x="17.6" y="248.8" font-size="14.5">SR</text>
<rect x="17.2" y="256.5" width="21.6" height="10.4" fill="#ff0000"/>
<rect x="17.2" y="271" width="21.6" height="10.4" fill="#0070ff"/>
<rect x="17.2" y="285.5" width="21.6" height="10.4" fill="#ffaa00"/>
<rect x="64.1" y="271" width="21.6" height="10.4" fill="#9cf566"/>
<rect x="64.1" y="285.5" width="21.6" height="10.4" fill="#c8c8c8"/>
<text class="bs" x="42.6" y="266" font-size="11">H-H</text>
<text class="bs" x="42.6" y="280" font-size="11">L- L</text>
<text class="bs" x="42.6" y="294.4" font-size="11">H-L</text>
<text class="bs" x="89.6" y="280" font-size="11">L-H</text>
<text class="bs" x="88.8" y="294.4" font-size="11">N-S</text>
<path d="M180.6 290 v6.8 h30 v-6.8 M195.6 293.2 v3.6" stroke="#000" stroke-width="1.3" fill="none"/>
<text class="bs" x="178.6" y="285" font-size="7.6" textLength="55" lengthAdjust="spacingAndGlyphs">0 100200 km</text>
</g>
<g transform="translate(770,1)">
<g clip-path="url(#frameclip)" stroke="#9a9a9a" stroke-width="0.7" fill="none">
<line x1="54.7" y1="12.8" x2="99.0" y2="302.2"/>
<line x1="105.4" y1="12.8" x2="164.3" y2="302.2"/>
<line x1="157.5" y1="12.8" x2="231.4" y2="302.2"/>
<line x1="209.7" y1="12.8" x2="298.6" y2="302.2"/>
<line x1="2.9" y1="0" x2="35.1" y2="313.1"/>
<circle cx="-99.5" cy="-994.0" r="1021.4"/>
<circle cx="-99.5" cy="-994.0" r="1100.5"/>
<circle cx="-99.5" cy="-994.0" r="1181.5"/>
<circle cx="-99.5" cy="-994.0" r="1266.1"/>
</g>
<g clip-path="url(#mapclip)">
<polygon points="23.1,132.0 27.8,119.9 28.7,112.4 30.6,103.9 33.4,102.1 38.1,104.9 44.6,103.0 50.2,99.3 56.8,94.6 57.7,89.9 60.5,82.4 64.3,69.3 67.1,61.8 67.1,54.3 60.9,52.8 62.4,48.7 68.0,42.2 75.5,38.4 84.0,35.2 92.4,32.2 99.9,33.4 107.3,34.7 114.8,35.6 122.3,39.4 127.5,47.8 133.1,58.1 138.7,66.5 142.5,74.0 147.1,79.6 157.4,83.4 166.8,84.3 174.3,86.2 181.8,89.9 186.5,95.5 190.2,104.9 194.9,105.8 202.4,103.0 209.9,97.4 217.3,91.8 224.8,87.1 231.4,84.3 232.3,89.9 231.4,99.3 229.5,108.6 227.6,118.0 226.7,129.2 225.5,141.5 218.0,142.5 212.4,144.3 206.8,150.0 204.9,152.8 208.6,159.3 210.5,166.8 213.3,173.4 213.3,179.9 210.5,184.6 209.6,190.2 204.9,186.5 201.1,188.3 199.3,194.9 194.6,199.6 188.0,204.2 185.2,208.0 186.2,212.7 182.4,215.5 174.0,215.5 170.2,212.7 166.5,219.2 163.7,226.7 158.1,232.3 152.4,236.2 146.8,243.6 142.1,250.2 131.8,257.7 124.3,262.4 116.8,268.0 110.2,273.6 108.5,270.0 110.2,262.4 113.1,256.8 115.9,252.1 116.8,245.5 114.0,240.8 107.4,239.0 100.0,243.6 96.0,250.0 92.4,257.0 88.6,256.1 83.0,251.4 77.4,246.7 74.6,241.1 69.0,236.4 65.2,229.9 62.4,222.4 58.7,216.8 54.9,218.6 50.2,222.4 45.6,220.5 44.6,214.9 40.9,211.1 42.8,206.5 47.4,201.8 49.3,194.3 54.9,193.4 60.5,189.6 68.0,183.1 69.9,175.6 71.8,168.1 74.6,160.6 73.6,151.2 70.8,140.0 68.0,138.6 62.4,133.0 54.9,130.1 47.4,132.0 43.7,135.8 38.1,134.8 28.7,136.7" fill="#c8c8c8"/>
<polygon points="-1.0,15.0 158.8,15.0 158.8,69.9 145.0,78.7 141.3,83.7 133.8,88.7 126.3,89.9 120.1,96.1 113.8,101.1 108.8,104.9 105.1,111.1 101.4,119.9 98.9,127.3 97.6,137.3 96.4,144.8 93.9,152.3 90.1,157.3 90.1,164.8 93.9,171.0 100.1,173.5 105.1,176.0 103.9,181.0 100.1,187.2 97.6,145.0 93.9,152.5 90.1,157.5 90.1,164.9 93.9,171.2 100.1,173.7 105.1,176.2 103.9,181.2 96.4,184.9 90.1,188.7 87.6,194.9 83.9,202.4 77.6,204.9 71.4,206.1 66.4,208.6 61.4,213.6 57.7,218.6 48.9,222.4 -65.9,222.4 -65.9,80.1" fill="#0070ff"/>
<polygon points="126.4,74.9 161.4,74.9 161.4,85.7 154.4,89.4 148.9,90.4 142.7,91.1 136.4,89.4 128.9,90.4" fill="#0070ff"/>
<polygon points="142.7,76.2 148.9,87.4 153.9,89.4 161.4,84.4 171.4,82.4 178.9,87.4 185.1,94.9 188.3,102.4 187.6,109.9 182.6,112.4 177.6,111.1 175.1,116.1 170.1,118.6 163.9,112.4 158.9,108.6 152.7,104.9 147.7,99.9 143.9,96.1 142.7,89.9" fill="#0070ff"/>
<polygon points="107.6,80.4 115.1,80.4 115.1,86.9 107.6,86.9" fill="#c8c8c8"/>
<polygon points="62.7,102.4 70.2,101.9 71.4,108.6 63.9,109.9" fill="#c8c8c8"/>
<polygon points="39.0,104.4 46.4,104.4 46.4,107.9 39.0,107.9" fill="#c8c8c8"/>
<polygon points="68.9,186.2 75.1,183.7 80.1,189.9 78.9,197.4 72.7,197.9 68.9,192.4" fill="#c8c8c8"/>
<polygon points="57.7,196.1 61.4,194.9 63.4,202.4 58.9,204.9" fill="#c8c8c8"/>
<polygon points="71.4,166.8 75.4,166.8 75.4,170.3 71.4,170.3" fill="#c8c8c8"/>
<polygon points="113.8,87.4 118.8,86.2 120.1,93.6 116.3,99.9 113.3,94.9" fill="#ffaa00"/>
<polygon points="122.6,83.7 127.6,83.7 127.6,91.1 122.6,91.1" fill="#ffaa00"/>
<polygon points="142.5,96.1 145.8,96.1 145.8,99.9 142.5,99.9" fill="#ffaa00"/>
<polygon points="155.0,83.7 160.0,83.7 160.0,88.7 155.0,88.7" fill="#ffaa00"/>
<polygon points="75.1,154.8 78.9,154.8 83.9,161.0 78.9,163.5 74.4,159.8" fill="#ffaa00"/>
<polygon points="92.6,149.8 95.1,149.8 95.1,156.0 92.6,156.0" fill="#ffaa00"/>
<polygon points="92.6,173.5 97.6,173.5 95.1,178.5 92.6,177.8" fill="#ffaa00"/>
<polygon points="70.2,88.7 72.7,88.7 72.7,93.6 70.2,93.6" fill="#ffaa00"/>
<polygon points="70.9,101.1 76.4,99.9 75.1,107.4 72.7,108.6" fill="#ffaa00"/>
<polygon points="57.7,83.7 60.2,83.7 60.2,88.7 57.7,88.7" fill="#ffaa00"/>
<polygon points="75.1,160.0 78.9,160.0 83.9,161.2 78.9,163.7 74.4,162.4" fill="#ffaa00"/>
<polygon points="92.6,152.5 95.1,152.5 95.1,156.2 92.6,156.2" fill="#ffaa00"/>
<polygon points="90.1,174.9 97.6,172.9 96.4,178.7 90.1,181.2" fill="#ffaa00"/>
<polygon points="155.1,83.7 160.1,83.7 160.1,88.7 155.1,88.7" fill="#ffaa00"/>
<polygon points="215.1,93.6 221.3,88.7 228.8,86.2 232.5,92.4 231.3,99.9 226.3,104.9 221.3,103.6 217.5,98.6" fill="#ffaa00"/>
<polygon points="220.0,107.4 227.5,106.1 228.8,119.9 225.0,123.6 220.8,121.1" fill="#0070ff"/>
<polygon points="210.1,94.9 215.1,94.9 215.1,98.6 210.1,98.6" fill="#0070ff"/>
<polygon points="218.8,139.3 226.3,139.3 226.3,142.8 218.8,142.8" fill="#0070ff"/>
<polygon points="228.3,84.4 232.5,84.4 232.5,87.4 228.3,87.4" fill="#0070ff"/>
<polygon points="223.3,92.4 227.5,92.4 227.5,97.4 223.3,97.4" fill="#c8c8c8"/>
<polygon points="196.3,176.2 196.3,169.9 201.3,162.4 207.6,161.2 211.3,167.4 213.1,174.9 208.8,178.7 201.3,178.7" fill="#0070ff"/>
<polygon points="196.3,171.0 201.3,162.3 207.6,161.0 211.3,168.5 212.6,177.3 208.8,185.0 198.8,185.0 195.1,177.3" fill="#0070ff"/>
<polygon points="178.9,188.7 185.1,188.7 185.1,192.4 178.9,192.4" fill="#0070ff"/>
<polygon points="181.4,197.4 187.6,194.9 188.8,201.1 183.9,203.6" fill="#0070ff"/>
<polygon points="180.1,211.1 185.1,209.9 186.3,214.9 180.9,215.4" fill="#0070ff"/>
<polygon points="218.8,139.5 226.3,139.5 226.3,143.0 218.8,143.0" fill="#0070ff"/>
<polygon points="116.3,129.8 120.1,129.8 120.1,133.6 116.3,133.6" fill="#9cf566"/>
<polygon points="128.8,136.1 135.1,134.8 136.3,141.1 131.3,143.6" fill="#9cf566"/>
<polygon points="182.6,109.9 187.6,109.9 187.6,114.9 182.6,114.9" fill="#9cf566"/>
<polygon points="197.6,139.8 201.3,139.8 201.3,146.1 197.6,146.1" fill="#9cf566"/>
<polygon points="187.6,157.3 191.3,157.3 191.3,162.3 187.6,162.3" fill="#9cf566"/>
<polygon points="128.8,135.0 136.3,135.0 136.3,142.5 128.8,142.5" fill="#9cf566"/>
<polygon points="70.2,218.6 77.6,218.6 77.6,224.9 70.2,224.9" fill="#9cf566"/>
<polygon points="153.8,213.6 161.3,211.1 165.0,216.1 158.8,219.9 153.8,218.6" fill="#9cf566"/>
<polygon points="126.3,228.6 132.6,221.1 136.3,216.1 138.8,218.6 137.5,227.3 132.6,232.3 127.6,237.3 125.1,242.3 120.1,247.3 116.3,252.3 118.8,243.6 122.6,237.3" fill="#9cf566"/>
<polygon points="88.9,228.6 95.1,229.8 93.9,234.8 88.9,233.6" fill="#9cf566"/>
<polygon points="98.9,233.6 105.1,234.8 103.9,239.8 98.9,238.6" fill="#9cf566"/>
<polygon points="92.6,243.6 100.1,238.6 103.4,239.8 97.6,244.8 93.4,248.6" fill="#9cf566"/>
<polygon points="116.3,253.6 123.8,249.8 136.3,247.3 145.0,242.3 141.3,248.6 133.8,251.8 123.8,254.8 117.6,257.3" fill="#9cf566"/>
<polygon points="197.6,140.0 201.3,140.0 201.3,146.2 197.6,146.2" fill="#9cf566"/>
<polygon points="155.1,213.6 162.6,211.1 166.4,216.1 160.1,219.9 155.1,218.6" fill="#9cf566"/>
<polygon points="110.1,131.1 115.1,126.1 118.8,127.3 116.3,133.6 111.3,134.8" fill="#ff0000"/>
<polygon points="126.3,134.8 128.8,134.8 128.8,142.3 126.3,142.3" fill="#ff0000"/>
<polygon points="147.5,132.3 152.5,128.6 156.3,134.8 158.8,142.3 158.8,152.3 152.5,154.8 146.3,152.3 143.8,147.3 147.5,142.3" fill="#ff0000"/>
<polygon points="106.3,158.5 108.8,158.5 108.8,161.8 106.3,161.8" fill="#ff0000"/>
<polygon points="128.8,158.5 136.3,158.5 137.5,163.5 130.1,163.5" fill="#ff0000"/>
<polygon points="150.0,159.8 157.5,159.8 157.5,163.5 150.0,163.5" fill="#ff0000"/>
<polygon points="145.0,167.3 148.8,167.3 148.8,169.8 145.0,169.8" fill="#ff0000"/>
<polygon points="183.9,113.6 188.8,112.4 191.3,121.1 186.3,123.6 183.9,119.9" fill="#ff0000"/>
<polygon points="195.1,118.6 201.3,118.6 201.3,123.6 195.1,123.6" fill="#ff0000"/>
<polygon points="197.6,133.6 203.8,133.6 205.1,146.1 201.3,147.3 201.3,139.8 197.6,139.8" fill="#ff0000"/>
<polygon points="190.1,157.3 193.8,157.3 193.8,162.3 190.1,162.3" fill="#ff0000"/>
<polygon points="131.3,183.7 136.3,178.7 143.8,174.9 151.3,176.2 157.5,171.2 160.8,174.9 160.0,182.4 155.0,186.2 148.8,189.9 143.8,194.9 138.8,198.6 132.6,197.4 131.3,191.2" fill="#ff0000"/>
<polygon points="143.8,196.1 147.5,196.1 147.5,201.1 143.8,201.1" fill="#ff0000"/>
<polygon points="106.3,158.7 108.8,158.7 108.8,162.0 106.3,162.0" fill="#ff0000"/>
<polygon points="126.3,135.0 128.8,135.0 128.8,141.2 126.3,141.2" fill="#ff0000"/>
<polygon points="107.6,224.9 113.8,223.6 120.1,223.6 122.6,216.1 126.3,207.4 131.3,207.4 133.8,214.9 132.6,222.4 128.8,228.6 125.1,234.8 121.3,239.8 115.1,239.8 108.8,234.8 106.3,229.8" fill="#ff0000"/>
<polygon points="102.6,218.6 106.3,218.6 106.3,224.9 102.6,224.9" fill="#ff0000"/>
<polygon points="92.6,226.1 96.4,226.1 96.4,229.8 92.6,229.8" fill="#ff0000"/>
<polygon points="100.1,234.3 103.4,234.3 103.4,237.8 100.1,237.8" fill="#ff0000"/>
<polygon points="90.1,252.3 92.6,246.8 97.6,243.6 102.6,240.3 105.1,242.3 100.1,247.3 95.1,252.3 91.4,256.1" fill="#ff0000"/>
<polygon points="108.8,262.3 113.8,257.3 120.1,254.8 126.3,253.6 133.8,251.1 140.0,249.8 135.1,254.8 127.6,258.5 121.3,263.5 115.1,269.8 111.3,273.5 109.3,268.5" fill="#ff0000"/>
<polygon points="192.6,183.7 196.3,183.7 196.3,187.9 192.6,187.9" fill="#ff0000"/>
<polygon points="187.6,157.5 192.6,156.2 193.8,162.4 188.3,162.9" fill="#ff0000"/>
<polygon points="201.3,133.7 203.8,133.7 205.1,146.2 198.8,147.5 201.3,140.0" fill="#ff0000"/>
<polygon points="145.0,167.4 148.8,167.4 148.8,169.9 145.0,169.9" fill="#ff0000"/>
<polygon points="142.5,181.2 147.5,181.2 147.5,186.2 142.5,186.2" fill="#9cf566"/>
<polygon points="208.8,163.7 211.8,163.7 211.8,166.9 208.8,166.9" fill="#ffaa00"/>
</g>
<polygon points="23.1,132.0 27.8,119.9 28.7,112.4 30.6,103.9 33.4,102.1 38.1,104.9 44.6,103.0 50.2,99.3 56.8,94.6 57.7,89.9 60.5,82.4 64.3,69.3 67.1,61.8 67.1,54.3 60.9,52.8 62.4,48.7 68.0,42.2 75.5,38.4 84.0,35.2 92.4,32.2 99.9,33.4 107.3,34.7 114.8,35.6 122.3,39.4 127.5,47.8 133.1,58.1 138.7,66.5 142.5,74.0 147.1,79.6 157.4,83.4 166.8,84.3 174.3,86.2 181.8,89.9 186.5,95.5 190.2,104.9 194.9,105.8 202.4,103.0 209.9,97.4 217.3,91.8 224.8,87.1 231.4,84.3 232.3,89.9 231.4,99.3 229.5,108.6 227.6,118.0 226.7,129.2 225.5,141.5 218.0,142.5 212.4,144.3 206.8,150.0 204.9,152.8 208.6,159.3 210.5,166.8 213.3,173.4 213.3,179.9 210.5,184.6 209.6,190.2 204.9,186.5 201.1,188.3 199.3,194.9 194.6,199.6 188.0,204.2 185.2,208.0 186.2,212.7 182.4,215.5 174.0,215.5 170.2,212.7 166.5,219.2 163.7,226.7 158.1,232.3 152.4,236.2 146.8,243.6 142.1,250.2 131.8,257.7 124.3,262.4 116.8,268.0 110.2,273.6 108.5,270.0 110.2,262.4 113.1,256.8 115.9,252.1 116.8,245.5 114.0,240.8 107.4,239.0 100.0,243.6 96.0,250.0 92.4,257.0 88.6,256.1 83.0,251.4 77.4,246.7 74.6,241.1 69.0,236.4 65.2,229.9 62.4,222.4 58.7,216.8 54.9,218.6 50.2,222.4 45.6,220.5 44.6,214.9 40.9,211.1 42.8,206.5 47.4,201.8 49.3,194.3 54.9,193.4 60.5,189.6 68.0,183.1 69.9,175.6 71.8,168.1 74.6,160.6 73.6,151.2 70.8,140.0 68.0,138.6 62.4,133.0 54.9,130.1 47.4,132.0 43.7,135.8 38.1,134.8 28.7,136.7" fill="none" stroke="#555" stroke-width="0.7" stroke-linejoin="round"/>
<rect x="14.8" y="14.8" width="224.1" height="285.4" fill="none" stroke="#000" stroke-width="1.5"/>
<path d="M55.0 14.8 v-4 M105.8 14.8 v-4 M158.0 14.8 v-4 M210.3 14.8 v-4 M33.8 300.2 v4.3 M98.7 300.2 v4.3 M163.8 300.2 v4.3 M230.9 300.2 v4.3 M14.8 21.0 h-4 M14.8 100.5 h-4 M14.8 182.0 h-4 M14.8 266.9 h-4 M238.9 53.5 h4 M238.9 139.0 h4 M238.9 227.5 h4" stroke="#000" stroke-width="1.3" fill="none"/>
<g class="ax">
<text x="55.3" y="9.9" text-anchor="middle" textLength="25.6" lengthAdjust="spacingAndGlyphs">120°E</text>
<text x="106.1" y="9.9" text-anchor="middle" textLength="25.6" lengthAdjust="spacingAndGlyphs">125°E</text>
<text x="158.3" y="9.9" text-anchor="middle" textLength="25.6" lengthAdjust="spacingAndGlyphs">130°E</text>
<text x="210.60000000000002" y="9.9" text-anchor="middle" textLength="25.6" lengthAdjust="spacingAndGlyphs">135°E</text>
<text x="34.099999999999994" y="313.6" text-anchor="middle" textLength="25.6" lengthAdjust="spacingAndGlyphs">115°E</text>
<text x="99.0" y="313.6" text-anchor="middle" textLength="25.6" lengthAdjust="spacingAndGlyphs">120°E</text>
<text x="164.10000000000002" y="313.6" text-anchor="middle" textLength="25.6" lengthAdjust="spacingAndGlyphs">125°E</text>
<text x="231.20000000000002" y="313.6" text-anchor="middle" textLength="25.6" lengthAdjust="spacingAndGlyphs">130°E</text>
<text transform="translate(8.9,21.0) rotate(-90)" text-anchor="middle" font-size="9.6" textLength="21" lengthAdjust="spacingAndGlyphs" style="font-size:9.6px">55°N</text>
<text transform="translate(8.9,100.5) rotate(-90)" text-anchor="middle" font-size="9.6" textLength="21" lengthAdjust="spacingAndGlyphs" style="font-size:9.6px">50°N</text>
<text transform="translate(8.9,182.0) rotate(-90)" text-anchor="middle" font-size="9.6" textLength="21" lengthAdjust="spacingAndGlyphs" style="font-size:9.6px">45°N</text>
<text transform="translate(8.9,266.9) rotate(-90)" text-anchor="middle" font-size="9.6" textLength="21" lengthAdjust="spacingAndGlyphs" style="font-size:9.6px">40°N</text>
<text transform="translate(250.6,53.5) rotate(-90)" text-anchor="middle" textLength="21" lengthAdjust="spacingAndGlyphs" style="font-size:9.6px">50°N</text>
<text transform="translate(250.6,139.0) rotate(-90)" text-anchor="middle" textLength="21" lengthAdjust="spacingAndGlyphs" style="font-size:9.6px">45°N</text>
<text transform="translate(250.6,227.5) rotate(-90)" text-anchor="middle" textLength="21" lengthAdjust="spacingAndGlyphs" style="font-size:9.6px">40°N</text>
</g>
<text class="bs" x="29" y="34.2" font-size="16.5">D</text>
<text class="bs" x="17.6" y="248.8" font-size="14.5">FP</text>
<rect x="17.2" y="256.5" width="21.6" height="10.4" fill="#ff0000"/>
<rect x="17.2" y="271" width="21.6" height="10.4" fill="#0070ff"/>
<rect x="17.2" y="285.5" width="21.6" height="10.4" fill="#ffaa00"/>
<rect x="64.1" y="271" width="21.6" height="10.4" fill="#9cf566"/>
<rect x="64.1" y="285.5" width="21.6" height="10.4" fill="#c8c8c8"/>
<text class="bs" x="42.6" y="266" font-size="11">H-H</text>
<text class="bs" x="42.6" y="280" font-size="11">L- L</text>
<text class="bs" x="42.6" y="294.4" font-size="11">H-L</text>
<text class="bs" x="89.6" y="280" font-size="11">L-H</text>
<text class="bs" x="88.8" y="294.4" font-size="11">N-S</text>
<path d="M180.6 290 v6.8 h30 v-6.8 M195.6 293.2 v3.6" stroke="#000" stroke-width="1.3" fill="none"/>
<text class="bs" x="178.6" y="285" font-size="7.6" textLength="55" lengthAdjust="spacingAndGlyphs">0 100200 km</text>
</g>
<g transform="translate(2.4,317.8)">
<g clip-path="url(#frameclip)" stroke="#9a9a9a" stroke-width="0.7" fill="none">
<line x1="54.7" y1="12.8" x2="99.0" y2="302.2"/>
<line x1="105.4" y1="12.8" x2="164.3" y2="302.2"/>
<line x1="157.5" y1="12.8" x2="231.4" y2="302.2"/>
<line x1="209.7" y1="12.8" x2="298.6" y2="302.2"/>
<line x1="2.9" y1="0" x2="35.1" y2="313.1"/>
<circle cx="-99.5" cy="-994.0" r="1021.4"/>
<circle cx="-99.5" cy="-994.0" r="1100.5"/>
<circle cx="-99.5" cy="-994.0" r="1181.5"/>
<circle cx="-99.5" cy="-994.0" r="1266.1"/>
</g>
<g clip-path="url(#mapclip)">
<polygon points="23.1,132.0 27.8,119.9 28.7,112.4 30.6,103.9 33.4,102.1 38.1,104.9 44.6,103.0 50.2,99.3 56.8,94.6 57.7,89.9 60.5,82.4 64.3,69.3 67.1,61.8 67.1,54.3 60.9,52.8 62.4,48.7 68.0,42.2 75.5,38.4 84.0,35.2 92.4,32.2 99.9,33.4 107.3,34.7 114.8,35.6 122.3,39.4 127.5,47.8 133.1,58.1 138.7,66.5 142.5,74.0 147.1,79.6 157.4,83.4 166.8,84.3 174.3,86.2 181.8,89.9 186.5,95.5 190.2,104.9 194.9,105.8 202.4,103.0 209.9,97.4 217.3,91.8 224.8,87.1 231.4,84.3 232.3,89.9 231.4,99.3 229.5,108.6 227.6,118.0 226.7,129.2 225.5,141.5 218.0,142.5 212.4,144.3 206.8,150.0 204.9,152.8 208.6,159.3 210.5,166.8 213.3,173.4 213.3,179.9 210.5,184.6 209.6,190.2 204.9,186.5 201.1,188.3 199.3,194.9 194.6,199.6 188.0,204.2 185.2,208.0 186.2,212.7 182.4,215.5 174.0,215.5 170.2,212.7 166.5,219.2 163.7,226.7 158.1,232.3 152.4,236.2 146.8,243.6 142.1,250.2 131.8,257.7 124.3,262.4 116.8,268.0 110.2,273.6 108.5,270.0 110.2,262.4 113.1,256.8 115.9,252.1 116.8,245.5 114.0,240.8 107.4,239.0 100.0,243.6 96.0,250.0 92.4,257.0 88.6,256.1 83.0,251.4 77.4,246.7 74.6,241.1 69.0,236.4 65.2,229.9 62.4,222.4 58.7,216.8 54.9,218.6 50.2,222.4 45.6,220.5 44.6,214.9 40.9,211.1 42.8,206.5 47.4,201.8 49.3,194.3 54.9,193.4 60.5,189.6 68.0,183.1 69.9,175.6 71.8,168.1 74.6,160.6 73.6,151.2 70.8,140.0 68.0,138.6 62.4,133.0 54.9,130.1 47.4,132.0 43.7,135.8 38.1,134.8 28.7,136.7" fill="#e1e1e1"/>
<path d="M85.1 213.7 L85.0 216.0 L86.0 217.1 L91.6 219.9 L98.7 222.2 L102.9 225.4 L105.8 230.3 L105.0 233.5 L100.7 237.8 L95.5 241.8 L91.4 247.2 L86.7 254.8 L86.4 256.2 L87.7 257.3 L92.3 258.5 L93.7 257.8 L97.3 250.7 L101.1 244.7 L107.6 240.6 L111.9 241.8 L114.9 240.3 L120.1 243.4 L121.8 243.6 L129.4 239.0 L132.3 230.8 L132.4 238.1 L133.5 239.5 L135.2 239.9 L139.3 238.6 L146.8 237.3 L154.7 234.7 L163.0 227.9 L167.1 221.3 L167.5 219.8 L167.2 218.8 L166.4 217.8 L161.9 216.1 L160.9 216.0 L159.7 216.4 L154.0 221.0 L149.4 221.0 L148.4 217.3 L147.6 216.4 L146.4 216.0 L137.7 218.7 L136.3 220.1 L137.5 210.5 L139.5 204.4 L142.7 203.2 L145.2 200.8 L148.2 203.1 L152.0 206.9 L153.2 207.4 L154.9 207.2 L159.8 204.7 L160.7 203.9 L161.2 202.4 L161.2 195.6 L160.6 194.5 L157.9 191.7 L159.9 185.5 L161.0 178.1 L163.9 176.9 L165.2 175.0 L169.1 178.0 L170.6 180.9 L167.5 185.3 L166.0 193.5 L166.5 195.2 L169.1 197.8 L166.8 197.8 L161.4 203.4 L164.0 209.0 L164.6 209.6 L170.6 210.8 L175.8 215.9 L184.4 215.9 L186.0 214.7 L187.0 209.4 L180.2 202.6 L184.0 204.9 L188.6 206.0 L195.6 200.8 L200.5 195.8 L202.4 189.4 L203.9 187.6 L207.0 190.0 L208.2 189.8 L211.4 188.2 L211.9 185.1 L214.8 180.2 L214.7 173.0 L211.5 164.8 L210.5 163.2 L203.2 158.7 L201.9 158.6 L193.5 160.2 L192.5 159.0 L191.1 158.6 L183.2 158.6 L174.3 159.9 L173.2 160.4 L168.2 165.5 L166.3 160.9 L167.0 158.2 L170.8 157.2 L171.7 156.7 L178.3 148.7 L178.9 146.4 L179.0 150.1 L183.0 156.9 L183.8 157.1 L190.5 155.6 L192.1 147.3 L189.5 139.4 L191.0 139.7 L195.9 144.5 L202.2 147.4 L203.5 147.1 L208.7 144.5 L213.2 141.2 L217.5 141.2 L217.6 142.2 L218.1 142.7 L221.1 142.8 L221.9 142.2 L222.0 140.8 L227.2 139.6 L229.0 119.3 L229.0 112.5 L230.4 111.8 L232.4 100.2 L232.4 89.9 L231.8 88.2 L226.3 84.8 L224.0 85.8 L216.5 90.5 L201.7 101.7 L194.8 104.2 L191.5 103.6 L188.7 105.1 L188.5 103.9 L184.5 94.6 L177.5 89.0 L168.0 84.9 L162.1 86.2 L162.1 84.1 L161.4 83.4 L153.5 83.4 L152.7 84.3 L152.9 87.5 L153.6 87.9 L156.9 87.9 L147.8 94.5 L147.4 95.5 L146.8 99.8 L147.3 101.6 L145.4 97.9 L137.6 95.1 L128.3 86.3 L127.0 86.1 L114.6 87.8 L113.1 88.6 L114.7 83.0 L120.8 79.9 L127.0 78.9 L130.4 80.6 L135.4 92.8 L136.7 93.7 L138.2 93.7 L142.2 92.4 L143.5 91.3 L146.1 79.8 L147.6 77.8 L143.8 73.2 L139.9 65.7 L134.4 57.3 L128.8 47.0 L123.2 38.2 L115.1 34.1 L92.3 30.7 L75.0 37.0 L67.1 41.0 L61.2 47.8 L59.4 52.4 L59.5 53.4 L60.3 54.2 L65.6 55.5 L65.6 61.5 L62.9 68.9 L59.1 81.9 L56.3 89.5 L55.4 93.7 L44.0 101.6 L38.3 103.3 L33.3 100.6 L29.5 102.9 L27.2 112.1 L26.3 119.5 L21.6 132.2 L22.1 133.1 L27.7 137.8 L28.7 138.2 L38.1 136.3 L44.0 137.3 L48.2 133.4 L54.8 131.7 L61.6 134.3 L67.1 139.8 L69.5 141.0 L72.1 151.5 L73.1 160.4 L70.3 167.7 L66.7 182.3 L59.6 188.4 L54.3 192.0 L48.9 192.8 L48.0 193.5 L46.0 201.0 L41.5 205.7 L39.4 210.9 L39.7 212.0 L43.2 215.6 L44.4 221.4 L50.5 223.9 L55.7 219.9 L58.2 218.7 L60.3 221.9 L61.3 220.0 L60.0 212.2 L60.0 209.7 L65.5 212.4 L71.8 212.5 L77.0 215.0Z M180.0 140.1 L179.2 137.9 L177.3 137.2 L178.6 135.6 L179.2 136.5 L180.2 137.2 L187.3 139.0Z M165.6 137.7 L165.9 136.9 L168.4 139.5 L168.0 139.5Z M75.9 186.3 L81.4 186.3 L81.4 191.3 L82.1 192.2 L90.0 192.2 L90.8 191.6 L90.9 186.2 L90.5 185.4 L83.2 185.2 L83.7 184.0 L83.6 178.2 L86.3 177.2 L87.2 176.3 L90.0 168.3 L90.1 157.9 L94.5 144.9 L92.4 154.6 L92.5 155.9 L96.7 162.9 L102.5 167.3 L103.8 167.5 L109.9 166.3 L115.6 167.5 L116.9 167.4 L124.0 163.1 L127.1 158.3 L131.6 163.8 L130.8 165.0 L124.2 166.2 L116.7 168.7 L109.0 170.0 L103.9 174.8 L103.5 176.5 L104.1 177.9 L108.3 181.9 L110.5 183.1 L108.3 185.3 L101.1 189.0 L94.4 192.9 L91.3 197.4 L91.0 198.6 L91.9 200.6 L93.8 201.2 L100.8 199.8 L108.2 196.2 L114.1 195.2 L116.6 197.1 L115.1 200.9 L110.8 205.3 L108.3 206.5 L108.4 202.3 L107.9 201.5 L99.9 201.4 L99.2 201.7 L98.9 206.1 L99.3 206.9 L107.1 207.1 L104.0 208.6 L94.8 211.0 L95.0 204.6 L94.5 203.4 L93.8 202.7 L79.6 200.1 L78.3 194.6 L71.6 190.4 L75.0 186.0Z M111.4 100.3 L112.4 91.8 L112.4 96.5 L112.7 97.5 L113.9 98.5 L117.4 99.5 L117.4 101.4 L113.4 105.4 L107.0 109.3Z M68.5 105.2 L68.4 104.2 L72.8 102.7 L79.9 103.5 L79.9 106.1 L73.9 106.1Z M72.0 91.7 L69.3 92.2 L66.0 89.7 L65.8 88.6 L71.5 88.6Z M128.4 155.0 L127.1 153.6 L125.8 153.0 L122.5 144.2 L120.1 134.5 L119.4 129.2 L121.4 135.9 L125.1 145.9 L129.5 152.7Z M109.7 160.2 L106.3 159.0 L105.9 157.3 L108.3 155.8 L111.7 157.0 L112.1 158.7Z M210.2 128.7 L219.0 127.0 L218.3 127.7 L211.5 131.1 L203.0 132.1 L198.6 128.9 L193.2 127.0 L199.6 126.2Z M192.5 190.6 L193.2 191.5 L196.0 191.5 L196.0 193.5 L191.2 193.5 L191.2 188.8 L192.5 188.8Z M184.6 176.1 L182.0 181.1 L178.7 181.1 L176.5 178.2 L178.1 173.5 L183.2 172.8Z M102.9 187.1 L103.4 186.2 L103.4 183.6 L103.0 182.9 L97.4 182.7 L96.6 183.1 L96.4 186.3 L96.8 187.0Z M75.3 230.4 L76.4 236.4 L76.9 237.0 L77.6 237.1 L81.9 235.4 L84.6 228.6 L81.9 216.8 L74.9 215.1 L69.3 219.1 L68.9 219.9 L71.6 226.7Z M67.7 237.1 L70.6 236.8 L70.9 236.2 L70.8 229.4 L70.0 228.9 L65.7 229.0 L65.2 229.8 L65.2 232.9Z M93.8 231.7 L93.0 231.3 L89.8 231.3 L89.1 231.7 L88.9 236.1 L89.3 236.9 L93.2 237.1 L94.0 236.1 L94.2 236.7 L94.9 237.1 L100.0 237.1 L100.7 236.7 L100.9 232.2 L100.5 231.5 L94.9 231.3 L94.2 231.7 L94.0 232.3Z M115.9 252.8 L111.0 257.7 L108.8 261.9 L107.0 270.1 L108.9 274.4 L109.8 275.0 L111.1 274.8 L117.7 269.2 L125.1 263.6 L132.7 258.9 L143.0 251.4 L145.5 248.0 L144.0 247.2 L135.7 247.2Z" fill="#a3ff73" fill-rule="evenodd"/>
<path d="M68.4 189.6 L77.3 177.1 L84.7 174.7 L87.1 167.4 L87.1 157.4 L92.1 142.4 L95.8 134.9 L97.1 124.9 L100.8 114.9 L108.4 99.9 L109.6 89.9 L112.2 81.0 L119.9 77.0 L127.5 75.8 L132.7 78.5 L137.6 90.7 L140.9 89.7 L143.3 78.6 L145.6 75.4 L143.8 73.2 L139.9 65.7 L134.4 57.3 L128.8 47.1 L123.5 38.5 L115.2 34.2 L92.2 30.7 L75.0 37.0 L67.1 41.0 L61.2 47.8 L59.4 52.4 L59.5 53.4 L60.3 54.2 L65.6 55.5 L65.6 61.5 L62.9 68.9 L59.1 81.9 L56.3 89.5 L55.4 93.7 L44.0 101.6 L38.3 103.3 L34.0 100.7 L33.1 100.6 L29.7 102.7 L29.1 103.6 L27.2 112.1 L26.3 119.5 L21.7 131.6 L22.0 133.1 L27.7 137.8 L28.7 138.2 L38.1 136.3 L44.0 137.3 L48.2 133.4 L54.8 131.7 L61.6 134.3 L67.1 139.8 L69.5 141.0 L72.1 151.5 L73.1 160.4 L70.3 167.7 L66.7 182.3 L59.6 188.4 L54.3 192.0 L48.9 192.8 L48.2 193.3 L46.0 201.0 L41.5 205.7 L39.5 210.7 L39.8 212.1 L41.2 209.9 L47.4 207.4 L53.7 209.9 L53.7 214.9 L49.9 218.6 L48.7 223.4 L51.8 223.0 L55.7 219.9 L58.1 218.7 L57.0 212.4 L57.0 202.4 L59.5 196.1Z M65.1 102.4 L72.5 99.6 L82.6 100.8 L82.9 101.2 L82.9 108.9 L73.7 109.1 L66.1 107.9Z M75.4 93.8 L68.5 95.3 L63.4 91.4 L62.2 85.8 L73.9 85.6Z M37.0 112.5 L44.5 104.5 L47.5 106.5 L44.0 110.5 L41.0 116.0 L37.0 116.0Z M57.5 111.3 L52.5 111.3 L52.5 109.5 L57.5 109.5Z M43.7 217.4 L44.2 220.9 L44.7 221.7Z M103.7 161.3 L102.6 155.8 L107.9 152.6 L114.4 154.9 L115.4 160.2 L110.2 163.3 L116.0 164.5 L122.0 160.9 L125.1 155.9 L123.4 155.2 L119.6 145.1 L117.1 135.1 L115.8 124.9 L116.3 124.6 L121.4 125.8 L124.2 134.9 L127.9 144.8 L132.9 152.4 L130.4 157.6 L135.2 163.8 L132.4 167.8 L124.9 169.1 L117.4 171.6 L110.1 172.8 L106.7 176.2 L110.1 179.6 L115.0 182.1 L115.1 182.6 L110.1 187.7 L96.4 195.2 L94.5 198.0 L99.8 197.0 L107.3 193.3 L114.8 192.0 L120.2 196.2 L117.6 202.6 L112.5 207.7 L105.0 211.5 L95.0 214.0 L88.7 215.1 L92.6 217.0 L100.1 219.6 L105.2 223.3 L109.0 229.9 L107.7 235.0 L102.7 240.1 L97.7 243.9 L93.9 248.8 L89.5 256.0 L90.3 258.0 L92.2 258.5 L96.5 252.3 L101.1 244.7 L104.1 242.8 L104.8 242.0 L114.9 236.9 L121.2 240.6 L127.1 237.0 L133.3 219.8 L134.5 209.8 L137.1 202.1 L141.0 200.8 L144.9 197.0 L150.2 200.8 L153.8 204.4 L158.2 202.2 L158.2 196.3 L154.5 192.4 L157.0 184.8 L158.2 176.1 L162.1 174.5 L165.7 167.3 L163.2 161.1 L164.5 155.9 L169.7 154.4 L175.7 147.1 L176.9 140.4 L173.7 141.5 L167.4 142.7 L162.1 138.9 L164.5 132.3 L160.8 125.1 L153.4 117.7 L147.1 108.8 L143.4 100.2 L136.0 97.7 L127.3 89.1 L115.4 90.7 L115.4 95.9 L120.4 97.3 L120.4 102.6 L115.3 107.8 L109.0 111.5 L104.2 116.4 L101.6 135.1 L97.9 142.6 L95.4 154.9 L98.9 160.9 L103.7 164.5 L109.7 163.3Z M135.0 134.8 L129.9 134.8 L129.9 128.6 L135.0 128.6Z M77.0 229.7 L78.0 235.0 L80.5 234.2 L82.8 228.5 L80.5 218.1 L75.1 217.0 L70.9 220.2 L73.1 225.6Z M69.1 235.3 L69.1 230.7 L67.0 230.7 L67.0 235.3Z M90.7 235.3 L92.2 235.3 L92.2 233.1 L90.7 233.1Z M99.1 233.1 L95.8 233.1 L95.8 235.3 L99.1 235.3Z M108.4 273.3 L109.4 274.8 L113.9 272.4 L121.0 265.7 L129.7 259.5 L138.5 254.5 L142.7 251.2 L143.1 250.2 L136.3 250.2 L117.7 255.2 L111.5 261.3 L108.4 268.6Z M175.9 91.5 L167.4 87.8 L158.8 90.3 L150.3 96.3 L149.8 99.9 L151.6 104.7 L156.4 113.4 L160.2 119.7 L164.0 124.7 L165.3 132.1 L170.0 136.9 L174.7 135.7 L179.5 129.6 L184.5 113.5 L185.7 105.0 L182.1 96.4Z M170.5 113.0 L167.5 113.0 L167.5 109.5 L170.5 109.5Z M223.1 112.3 L223.1 119.8 L227.2 119.8 L227.2 112.3Z M186.5 112.6 L182.8 125.0 L181.5 134.5 L192.5 136.9 L197.5 142.0 L202.3 144.4 L207.1 142.0 L212.2 138.2 L219.8 138.2 L225.7 137.0 L228.1 129.8 L227.3 122.9 L223.4 122.9 L225.1 124.6 L225.1 125.2 L220.0 130.1 L212.5 134.0 L202.3 135.2 L197.1 131.5 L189.7 128.9 L188.2 124.9 L188.6 124.5 L199.8 123.2 L209.8 125.7 L217.2 124.5 L220.7 122.8 L220.6 109.8 L228.1 109.6 L229.4 99.9 L229.4 90.1 L226.0 87.9 L207.5 99.0 L190.2 107.7Z M214.8 116.0 L214.8 118.0 L209.8 118.0 L209.8 116.0Z M188.1 140.7 L180.7 141.8 L180.7 149.6 L184.0 155.2 L189.2 154.1 L190.3 147.4Z M171.4 176.0 L174.0 181.3 L170.3 186.4 L169.0 193.6 L172.6 197.0 L178.7 198.2 L185.1 202.0 L189.8 203.2 L195.8 199.6 L198.1 196.5 L188.3 196.4 L188.3 185.9 L198.9 185.9 L199.0 195.3 L199.4 194.8 L199.4 188.6 L203.3 183.4 L203.9 183.4 L207.4 186.9 L212.0 184.6 L213.7 178.7 L211.9 171.4 L208.3 165.2 L202.2 161.6 L195.0 162.8 L191.1 167.8 L190.7 167.4 L190.7 161.6 L183.6 161.6 L175.1 162.8 L170.2 167.6 L167.9 173.5Z M187.8 176.3 L183.7 184.1 L177.2 184.0 L173.2 178.8 L176.0 170.8 L185.1 169.5Z M194.3 188.8 L194.3 189.7 L195.2 189.7 L195.2 188.8Z" fill="#4ce600" fill-rule="evenodd"/>
<path d="M181.1 105.6 L178.4 99.2 L173.6 95.4 L167.0 92.6 L160.8 94.4 L154.5 98.9 L155.7 102.9 L160.3 111.1 L164.0 117.2 L168.0 122.8 L169.5 129.9 L171.4 131.9 L172.1 131.7 L175.5 127.5 L180.1 112.5Z M167.5 113.0 L167.5 109.5 L170.5 109.5 L170.5 113.0Z M74.3 173.8 L75.5 173.0 L81.1 171.1 L82.6 166.7 L82.9 156.0 L87.9 141.0 L91.4 133.6 L92.9 123.3 L96.8 112.8 L104.0 98.6 L105.2 89.0 L108.4 78.5 L109.8 77.1 L118.2 72.8 L127.6 71.3 L129.6 71.8 L135.4 74.9 L136.7 76.4 L138.3 80.3 L139.5 76.2 L142.9 71.5 L139.9 65.7 L134.4 57.3 L128.8 47.1 L123.5 38.5 L115.2 34.2 L92.0 30.7 L75.0 37.0 L67.3 40.9 L61.0 48.2 L59.4 52.4 L59.5 53.3 L60.4 54.2 L65.6 55.5 L65.6 61.5 L62.9 68.9 L58.7 82.9 L60.6 81.5 L62.5 81.1 L74.2 81.1 L76.1 81.7 L77.2 82.6 L78.4 84.7 L79.8 92.9 L79.4 95.9 L84.9 96.9 L86.3 98.1 L87.2 99.8 L87.4 109.2 L86.8 111.0 L85.6 112.5 L83.0 113.6 L73.3 113.6 L65.0 112.2 L62.9 111.1 L61.4 108.7 L60.6 102.2 L61.6 99.6 L62.6 98.6 L64.2 97.8 L60.4 94.8 L59.5 93.7 L57.6 85.9 L56.3 89.5 L55.4 93.7 L44.0 101.6 L38.3 103.3 L34.0 100.7 L33.1 100.6 L29.8 102.6 L29.2 103.4 L27.2 112.1 L26.3 119.5 L21.7 131.6 L21.9 132.9 L27.7 137.8 L28.7 138.2 L38.1 136.3 L44.0 137.3 L48.2 133.4 L54.8 131.7 L61.6 134.3 L67.1 139.8 L69.5 141.0 L72.1 151.5 L73.1 160.4 L70.3 167.7 L66.7 182.3 L59.6 188.4 L54.3 192.0 L48.9 192.8 L48.2 193.3 L46.0 201.0 L41.5 205.8 L39.5 210.7 L39.8 212.1 L41.2 209.9 L47.4 207.4 L52.5 209.4 L52.6 201.5 L55.8 193.5 L56.8 192.4 L65.2 186.4Z M37.0 112.5 L44.5 104.5 L47.5 106.5 L44.0 110.5 L41.0 116.0 L37.0 116.0Z M57.5 109.5 L57.5 111.3 L52.5 111.3 L52.5 109.5Z M44.2 219.5 L43.7 217.4 L43.5 217.3 L43.9 219.5Z M225.4 114.1 L224.9 114.1 L224.9 118.0 L225.4 118.0Z M188.4 147.5 L186.8 142.7 L182.5 143.3 L182.5 149.1 L184.9 153.2 L187.6 152.6Z M192.3 176.2 L192.0 178.0 L190.3 181.3 L199.2 181.3 L201.2 179.4 L203.5 178.8 L205.9 179.4 L208.2 181.4 L209.0 178.6 L207.7 173.1 L205.0 168.5 L201.3 166.3 L197.5 166.9 L194.4 171.0 L192.8 172.0 L191.1 172.3Z M179.9 193.9 L183.7 196.0 L183.7 188.6 L176.9 188.6 L174.8 187.8 L173.9 192.0 L174.8 192.9Z M49.9 218.7 L52.9 218.3 L53.4 217.9 L53.0 215.6Z" fill="#267300" fill-rule="evenodd"/>
<path d="M168.6 206.2 L173.6 206.2 L173.6 201.2 L168.6 201.2Z" fill="#e1e1e1" fill-rule="evenodd"/>
<polygon points="114.1,32.7 127.0,47.2 135.8,62.6 145.0,78.1 140.8,87.6 132.0,82.6 127.0,70.9 129.5,62.6 128.3,52.7 122.0,42.7" fill="#4ce600"/>
<polygon points="127.0,71.4 133.3,82.6 140.8,88.1 143.3,83.9 137.0,81.4 132.0,72.6" fill="#a3ff73"/>
<polygon points="130.8,66.4 139.5,66.4 140.8,81.4 132.0,81.4" fill="#267300"/>
<polygon points="119.6,43.9 124.5,45.2 127.0,55.2 121.6,55.2" fill="#267300"/>
<polygon points="143.3,145.0 152.0,142.5 157.0,147.5 155.7,155.0 148.3,158.7 143.3,153.7" fill="#267300"/>
<polygon points="172.0,162.5 182.0,161.2 182.5,175.0 173.2,175.0" fill="#267300"/>
<polygon points="140.7,173.9 146.9,172.6 148.2,187.6 142.0,188.9 140.0,180.1" fill="#267300"/>
<polygon points="123.2,216.3 130.7,215.1 132.0,223.8 124.5,225.1" fill="#267300"/>
<polygon points="174.4,161.4 181.9,160.2 183.1,172.6 175.7,175.1" fill="#267300"/>
<polygon points="179.4,142.7 186.9,141.4 188.1,152.7 180.6,153.9" fill="#267300"/>
<polygon points="175.7,202.6 184.4,197.6 186.9,205.1 179.4,210.1" fill="#267300"/>
<polygon points="137.0,117.6 139.5,117.6 139.5,120.1 137.0,120.1" fill="#267300"/>
<polygon points="142.0,121.3 144.5,121.3 144.5,123.8 142.0,123.8" fill="#267300"/>
<polygon points="147.0,126.3 149.5,126.3 149.5,128.8 147.0,128.8" fill="#267300"/>
<polygon points="152.0,130.0 154.5,130.0 154.5,132.5 152.0,132.5" fill="#267300"/>
<polygon points="148.3,133.8 150.8,133.8 150.8,136.3 148.3,136.3" fill="#267300"/>
<polygon points="139.5,131.3 142.0,131.3 142.0,133.8 139.5,133.8" fill="#267300"/>
<polygon points="144.5,115.1 147.0,115.1 147.0,117.6 144.5,117.6" fill="#267300"/>
<polygon points="125.8,112.6 128.3,112.6 128.3,115.1 125.8,115.1" fill="#267300"/>
<polygon points="224.4,91.3 226.9,91.3 226.9,93.8 224.4,93.8" fill="#267300"/>
<polygon points="226.9,95.1 229.4,95.1 229.4,97.6 226.9,97.6" fill="#267300"/>
<polygon points="216.9,98.8 219.4,98.8 219.4,101.3 216.9,101.3" fill="#267300"/>
<polygon points="205.7,110.1 208.2,110.1 208.2,112.6 205.7,112.6" fill="#267300"/>
<polygon points="198.2,116.3 200.7,116.3 200.7,118.8 198.2,118.8" fill="#267300"/>
<polygon points="195.7,108.8 198.2,108.8 198.2,111.3 195.7,111.3" fill="#267300"/>
<polygon points="208.2,116.3 210.7,116.3 210.7,118.8 208.2,118.8" fill="#267300"/>
<polygon points="189.4,130.0 191.9,130.0 191.9,132.5 189.4,132.5" fill="#267300"/>
<polygon points="186.9,118.8 189.4,118.8 189.4,121.3 186.9,121.3" fill="#267300"/>
<polygon points="153.3,137.5 155.7,137.5 155.7,140.0 153.3,140.0" fill="#267300"/>
<polygon points="138.3,110.1 140.8,110.1 140.8,112.6 138.3,112.6" fill="#267300"/>
<polygon points="132.0,126.3 134.5,126.3 134.5,128.8 132.0,128.8" fill="#267300"/>
<polygon points="118.3,98.8 120.8,98.8 120.8,101.3 118.3,101.3" fill="#267300"/>
<polygon points="123.3,106.3 125.8,106.3 125.8,108.8 123.3,108.8" fill="#267300"/>
<polygon points="138.1,117.6 140.6,117.6 140.6,120.1 138.1,120.1" fill="#267300"/>
<polygon points="143.1,123.8 145.6,123.8 145.6,126.3 143.1,126.3" fill="#267300"/>
<polygon points="148.1,120.1 150.6,120.1 150.6,122.5 148.1,122.5" fill="#267300"/>
<polygon points="151.9,128.8 154.4,128.8 154.4,131.3 151.9,131.3" fill="#267300"/>
<polygon points="146.9,131.3 149.4,131.3 149.4,133.8 146.9,133.8" fill="#267300"/>
<polygon points="158.1,137.5 160.6,137.5 160.6,140.0 158.1,140.0" fill="#267300"/>
<polygon points="138.1,108.8 140.6,108.8 140.6,111.3 138.1,111.3" fill="#267300"/>
<polygon points="125.7,111.3 128.2,111.3 128.2,113.8 125.7,113.8" fill="#267300"/>
<polygon points="133.2,143.8 135.7,143.8 135.7,146.3 133.2,146.3" fill="#267300"/>
<polygon points="144.4,153.7 146.9,153.7 146.9,156.2 144.4,156.2" fill="#267300"/>
<polygon points="155.6,148.8 158.1,148.8 158.1,151.3 155.6,151.3" fill="#267300"/>
<polygon points="123.2,203.8 125.7,203.8 125.7,206.3 123.2,206.3" fill="#267300"/>
<polygon points="130.7,193.9 133.2,193.9 133.2,196.3 130.7,196.3" fill="#267300"/>
<polygon points="134.5,181.4 137.0,181.4 137.0,183.9 134.5,183.9" fill="#267300"/>
<polygon points="115.7,223.8 118.2,223.8 118.2,226.3 115.7,226.3" fill="#267300"/>
<polygon points="135.7,166.4 138.2,166.4 138.2,168.9 135.7,168.9" fill="#267300"/>
<polygon points="158.2,161.4 160.7,161.4 160.7,163.9 158.2,163.9" fill="#267300"/>
<polygon points="165.7,178.9 168.2,178.9 168.2,181.4 165.7,181.4" fill="#267300"/>
<polygon points="161.9,143.9 164.4,143.9 164.4,146.4 161.9,146.4" fill="#267300"/>
<polygon points="65.1,85.2 81.6,83.7 83.0,111.6 73.6,123.6 65.1,112.1 62.6,99.6" fill="#e1e1e1"/>
<polygon points="65.1,85.2 81.6,83.7 82.3,87.2 68.3,88.2 67.1,99.6 69.1,111.6 73.6,119.6 73.6,123.6 65.1,112.1 62.6,99.6" fill="#a3ff73"/>
<polygon points="107.0,87.2 105.8,97.1 103.3,107.1 99.5,119.6 92.0,134.6 84.5,144.6 79.6,157.1 74.6,167.0 79.1,170.0 86.5,158.3 92.5,145.8 98.8,134.6 103.8,120.9 107.0,108.4 109.5,97.1 112.0,87.2" fill="#4ce600"/>
<polygon points="105.8,93.4 122.5,89.2 124.5,112.1 129.0,137.1 132.5,160.8 112.0,167.0 95.0,162.0 93.5,144.6 97.0,124.6 101.3,107.1" fill="#a3ff73"/>
<polygon points="109.0,99.6 119.5,95.1 122.0,112.1 112.5,115.9" fill="#e1e1e1"/>
<polygon points="103.3,145.8 124.5,147.6 129.0,161.5 109.5,164.5 99.5,157.1" fill="#e1e1e1"/>
<polygon points="105.8,124.6 114.5,118.4 122.0,127.1 120.7,142.1 109.5,144.6 105.0,134.6" fill="#4ce600"/>
<polygon points="99.5,152.1 112.0,149.6 113.3,161.5 102.0,163.3" fill="#4ce600"/>
<polygon points="122.5,89.7 124.5,89.2 127.5,112.1 132.0,137.1 134.0,160.8 132.0,160.8 128.5,137.1 124.0,112.1" fill="#4ce600"/>
<polygon points="82.0,169.5 133.2,163.3 134.5,182.0 132.0,197.0 127.0,209.5 124.0,223.2 74.6,223.2 64.6,202.0 72.1,179.5" fill="#a3ff73"/>
<polygon points="87.0,174.5 129.5,168.3 130.7,182.0 112.0,187.0 92.0,192.0 84.5,184.5" fill="#e1e1e1"/>
<polygon points="77.1,197.0 99.5,198.2 122.0,202.0 119.5,222.0 82.0,222.0" fill="#e1e1e1"/>
<polygon points="99.0,177.8 102.5,177.8 102.5,181.3 99.0,181.3" fill="#4ce600"/>
<polygon points="107.8,190.2 111.3,190.2 111.3,193.7 107.8,193.7" fill="#4ce600"/>
<polygon points="92.8,200.2 96.3,200.2 96.3,203.7 92.8,203.7" fill="#4ce600"/>
<polygon points="77.8,185.3 81.3,185.3 81.3,188.8 77.8,188.8" fill="#4ce600"/>
<polygon points="112.8,195.2 116.2,195.2 116.2,198.7 112.8,198.7" fill="#4ce600"/>
<polygon points="71.6,207.7 75.1,207.7 75.1,211.2 71.6,211.2" fill="#4ce600"/>
<polygon points="101.5,210.2 105.0,210.2 105.0,213.7 101.5,213.7" fill="#4ce600"/>
<polygon points="70.8,203.2 73.3,203.2 73.3,205.7 70.8,205.7" fill="#267300"/>
<polygon points="78.3,207.0 80.8,207.0 80.8,209.5 78.3,209.5" fill="#267300"/>
<polygon points="65.8,185.8 68.3,185.8 68.3,188.3 65.8,188.3" fill="#267300"/>
<polygon points="140.0,172.0 148.2,170.8 148.9,187.0 140.7,188.3" fill="#267300"/>
<polygon points="129.0,192.0 135.7,191.5 136.2,197.5 129.5,198.2" fill="#267300"/>
<polygon points="44.0,197.0 55.0,193.0 58.0,205.0 56.0,220.0 48.0,222.0 42.0,212.0" fill="#267300"/>
</g>
<polygon points="23.1,132.0 27.8,119.9 28.7,112.4 30.6,103.9 33.4,102.1 38.1,104.9 44.6,103.0 50.2,99.3 56.8,94.6 57.7,89.9 60.5,82.4 64.3,69.3 67.1,61.8 67.1,54.3 60.9,52.8 62.4,48.7 68.0,42.2 75.5,38.4 84.0,35.2 92.4,32.2 99.9,33.4 107.3,34.7 114.8,35.6 122.3,39.4 127.5,47.8 133.1,58.1 138.7,66.5 142.5,74.0 147.1,79.6 157.4,83.4 166.8,84.3 174.3,86.2 181.8,89.9 186.5,95.5 190.2,104.9 194.9,105.8 202.4,103.0 209.9,97.4 217.3,91.8 224.8,87.1 231.4,84.3 232.3,89.9 231.4,99.3 229.5,108.6 227.6,118.0 226.7,129.2 225.5,141.5 218.0,142.5 212.4,144.3 206.8,150.0 204.9,152.8 208.6,159.3 210.5,166.8 213.3,173.4 213.3,179.9 210.5,184.6 209.6,190.2 204.9,186.5 201.1,188.3 199.3,194.9 194.6,199.6 188.0,204.2 185.2,208.0 186.2,212.7 182.4,215.5 174.0,215.5 170.2,212.7 166.5,219.2 163.7,226.7 158.1,232.3 152.4,236.2 146.8,243.6 142.1,250.2 131.8,257.7 124.3,262.4 116.8,268.0 110.2,273.6 108.5,270.0 110.2,262.4 113.1,256.8 115.9,252.1 116.8,245.5 114.0,240.8 107.4,239.0 100.0,243.6 96.0,250.0 92.4,257.0 88.6,256.1 83.0,251.4 77.4,246.7 74.6,241.1 69.0,236.4 65.2,229.9 62.4,222.4 58.7,216.8 54.9,218.6 50.2,222.4 45.6,220.5 44.6,214.9 40.9,211.1 42.8,206.5 47.4,201.8 49.3,194.3 54.9,193.4 60.5,189.6 68.0,183.1 69.9,175.6 71.8,168.1 74.6,160.6 73.6,151.2 70.8,140.0 68.0,138.6 62.4,133.0 54.9,130.1 47.4,132.0 43.7,135.8 38.1,134.8 28.7,136.7" fill="none" stroke="#555" stroke-width="0.7" stroke-linejoin="round"/>
<rect x="14.8" y="14.8" width="224.1" height="285.4" fill="none" stroke="#000" stroke-width="1.5"/>
<path d="M55.0 14.8 v-4 M105.8 14.8 v-4 M158.0 14.8 v-4 M210.3 14.8 v-4 M33.8 300.2 v4.3 M98.7 300.2 v4.3 M163.8 300.2 v4.3 M230.9 300.2 v4.3 M14.8 21.0 h-4 M14.8 100.5 h-4 M14.8 182.0 h-4 M14.8 266.9 h-4 M238.9 53.5 h4 M238.9 139.0 h4 M238.9 227.5 h4" stroke="#000" stroke-width="1.3" fill="none"/>
<g class="ax">
<text x="55.3" y="9.9" text-anchor="middle" textLength="25.6" lengthAdjust="spacingAndGlyphs">120°E</text>
<text x="106.1" y="9.9" text-anchor="middle" textLength="25.6" lengthAdjust="spacingAndGlyphs">125°E</text>
<text x="158.3" y="9.9" text-anchor="middle" textLength="25.6" lengthAdjust="spacingAndGlyphs">130°E</text>
<text x="210.60000000000002" y="9.9" text-anchor="middle" textLength="25.6" lengthAdjust="spacingAndGlyphs">135°E</text>
<text x="34.099999999999994" y="313.6" text-anchor="middle" textLength="25.6" lengthAdjust="spacingAndGlyphs">115°E</text>
<text x="99.0" y="313.6" text-anchor="middle" textLength="25.6" lengthAdjust="spacingAndGlyphs">120°E</text>
<text x="164.10000000000002" y="313.6" text-anchor="middle" textLength="25.6" lengthAdjust="spacingAndGlyphs">125°E</text>
<text x="231.20000000000002" y="313.6" text-anchor="middle" textLength="25.6" lengthAdjust="spacingAndGlyphs">130°E</text>
<text transform="translate(8.9,21.0) rotate(-90)" text-anchor="middle" font-size="9.6" textLength="21" lengthAdjust="spacingAndGlyphs" style="font-size:9.6px">55°N</text>
<text transform="translate(8.9,100.5) rotate(-90)" text-anchor="middle" font-size="9.6" textLength="21" lengthAdjust="spacingAndGlyphs" style="font-size:9.6px">50°N</text>
<text transform="translate(8.9,182.0) rotate(-90)" text-anchor="middle" font-size="9.6" textLength="21" lengthAdjust="spacingAndGlyphs" style="font-size:9.6px">45°N</text>
<text transform="translate(8.9,266.9) rotate(-90)" text-anchor="middle" font-size="9.6" textLength="21" lengthAdjust="spacingAndGlyphs" style="font-size:9.6px">40°N</text>
<text transform="translate(250.6,53.5) rotate(-90)" text-anchor="middle" textLength="21" lengthAdjust="spacingAndGlyphs" style="font-size:9.6px">50°N</text>
<text transform="translate(250.6,139.0) rotate(-90)" text-anchor="middle" textLength="21" lengthAdjust="spacingAndGlyphs" style="font-size:9.6px">45°N</text>
<text transform="translate(250.6,227.5) rotate(-90)" text-anchor="middle" textLength="21" lengthAdjust="spacingAndGlyphs" style="font-size:9.6px">40°N</text>
</g>
<text class="bs" x="29" y="34.2" font-size="16.5">F</text>
<text class="bs" x="17.8" y="261" font-size="14.5">WY</text>
<rect x="17" y="272.5" width="21.2" height="10.2" fill="#267300"/>
<rect x="17" y="286.8" width="21.2" height="10.2" fill="#4ce600"/>
<rect x="94.8" y="272.5" width="21.2" height="10.2" fill="#a3ff73"/>
<rect x="94.8" y="286.8" width="21.2" height="10.2" fill="#e1e1e1"/>
<text class="bs" x="42.4" y="283.2" font-size="14.5">P&lt;0.001</text>
<text class="bs" x="42.4" y="297.4" font-size="14.5">p&lt;0.01</text>
<text class="bs" x="120" y="283.2" font-size="14.5">p&lt;0.05</text>
<text class="bs" x="120" y="297.4" font-size="14.5">P ≥ 0.05</text>
<path d="M182.4 287.6 v6.8 h30 v-6.8 M197.4 290.8 v3.6" stroke="#000" stroke-width="1.3" fill="none"/>
<text class="bs" x="180.4" y="282.6" font-size="7.6" textLength="55" lengthAdjust="spacingAndGlyphs">0 100200 km</text>
</g>
<g transform="translate(256,317.8)">
<g clip-path="url(#frameclip)" stroke="#9a9a9a" stroke-width="0.7" fill="none">
<line x1="54.7" y1="12.8" x2="99.0" y2="302.2"/>
<line x1="105.4" y1="12.8" x2="164.3" y2="302.2"/>
<line x1="157.5" y1="12.8" x2="231.4" y2="302.2"/>
<line x1="209.7" y1="12.8" x2="298.6" y2="302.2"/>
<line x1="2.9" y1="0" x2="35.1" y2="313.1"/>
<circle cx="-99.5" cy="-994.0" r="1021.4"/>
<circle cx="-99.5" cy="-994.0" r="1100.5"/>
<circle cx="-99.5" cy="-994.0" r="1181.5"/>
<circle cx="-99.5" cy="-994.0" r="1266.1"/>
</g>
<g clip-path="url(#mapclip)">
<polygon points="23.1,132.0 27.8,119.9 28.7,112.4 30.6,103.9 33.4,102.1 38.1,104.9 44.6,103.0 50.2,99.3 56.8,94.6 57.7,89.9 60.5,82.4 64.3,69.3 67.1,61.8 67.1,54.3 60.9,52.8 62.4,48.7 68.0,42.2 75.5,38.4 84.0,35.2 92.4,32.2 99.9,33.4 107.3,34.7 114.8,35.6 122.3,39.4 127.5,47.8 133.1,58.1 138.7,66.5 142.5,74.0 147.1,79.6 157.4,83.4 166.8,84.3 174.3,86.2 181.8,89.9 186.5,95.5 190.2,104.9 194.9,105.8 202.4,103.0 209.9,97.4 217.3,91.8 224.8,87.1 231.4,84.3 232.3,89.9 231.4,99.3 229.5,108.6 227.6,118.0 226.7,129.2 225.5,141.5 218.0,142.5 212.4,144.3 206.8,150.0 204.9,152.8 208.6,159.3 210.5,166.8 213.3,173.4 213.3,179.9 210.5,184.6 209.6,190.2 204.9,186.5 201.1,188.3 199.3,194.9 194.6,199.6 188.0,204.2 185.2,208.0 186.2,212.7 182.4,215.5 174.0,215.5 170.2,212.7 166.5,219.2 163.7,226.7 158.1,232.3 152.4,236.2 146.8,243.6 142.1,250.2 131.8,257.7 124.3,262.4 116.8,268.0 110.2,273.6 108.5,270.0 110.2,262.4 113.1,256.8 115.9,252.1 116.8,245.5 114.0,240.8 107.4,239.0 100.0,243.6 96.0,250.0 92.4,257.0 88.6,256.1 83.0,251.4 77.4,246.7 74.6,241.1 69.0,236.4 65.2,229.9 62.4,222.4 58.7,216.8 54.9,218.6 50.2,222.4 45.6,220.5 44.6,214.9 40.9,211.1 42.8,206.5 47.4,201.8 49.3,194.3 54.9,193.4 60.5,189.6 68.0,183.1 69.9,175.6 71.8,168.1 74.6,160.6 73.6,151.2 70.8,140.0 68.0,138.6 62.4,133.0 54.9,130.1 47.4,132.0 43.7,135.8 38.1,134.8 28.7,136.7" fill="#e1e1e1"/>
<path d="M115.3 89.9 L115.4 90.4 L120.4 88.7 L125.1 89.6 L126.9 90.6 L132.9 96.1 L138.2 98.3 L140.2 99.9 L145.3 102.3 L149.1 107.4 L156.6 111.1 L161.6 116.1 L175.3 126.1 L179.1 119.9 L182.0 113.0 L182.0 115.0 L182.4 115.6 L186.0 115.7 L186.7 115.4 L186.6 111.8 L183.1 111.6 L185.3 108.6 L190.3 106.1 L187.8 99.9 L184.1 93.6 L180.3 88.7 L175.8 85.3 L167.1 82.8 L157.7 81.9 L148.0 78.3 L143.8 73.2 L139.9 65.7 L134.4 57.3 L128.8 47.0 L123.2 38.2 L115.1 34.1 L92.2 30.7 L75.0 37.0 L67.3 40.9 L61.2 47.8 L59.4 52.4 L59.5 53.3 L60.4 54.2 L65.6 55.5 L65.6 61.5 L62.9 68.9 L59.1 81.9 L56.3 89.5 L55.4 93.7 L44.0 101.6 L38.3 103.3 L33.3 100.6 L29.5 102.9 L27.2 112.1 L26.3 119.5 L21.7 131.5 L21.7 132.6 L27.7 137.8 L28.7 138.2 L38.1 136.3 L44.0 137.3 L48.2 133.4 L54.8 131.7 L61.6 134.3 L66.1 138.8 L71.6 136.1 L71.6 130.0 L73.6 140.0 L76.5 147.4 L75.3 147.5 L74.6 157.5 L72.9 164.9 L69.1 172.5 L71.6 179.9 L75.3 183.7 L79.1 183.7 L80.3 176.2 L85.3 173.7 L86.6 164.9 L89.1 155.0 L87.8 146.2 L84.9 146.5 L89.8 140.2 L90.4 135.7 L89.9 135.0 L91.6 129.8 L92.8 119.9 L94.1 114.9 L101.6 108.6 L107.8 102.4 L112.8 96.1Z M71.6 124.8 L72.9 134.8 L71.6 130.0Z M89.6 134.9 L89.0 135.3 L88.4 137.0 L83.5 144.2 L80.0 146.0 L90.3 130.0Z M79.1 147.1 L78.5 147.2 L79.1 147.1Z M114.7 134.0 L115.4 134.4 L120.5 134.4 L121.1 134.0 L121.2 126.1 L120.8 125.4 L115.4 125.3 L114.7 125.6Z M131.9 144.3 L136.1 140.1 L136.0 135.6 L133.0 135.3 L131.6 134.0 L124.9 135.5 L124.6 136.2 L126.0 142.8Z M96.0 156.5 L96.7 156.8 L103.4 156.7 L103.7 156.0 L103.5 150.5 L102.9 150.3 L96.2 150.4 L95.9 151.1Z M107.5 178.6 L108.2 178.7 L114.7 176.0 L117.9 170.3 L117.7 169.4 L111.6 167.9 L104.9 170.6 L104.7 171.5Z M144.0 186.7 L151.3 188.2 L152.2 187.9 L153.5 180.7 L154.4 180.6 L154.8 180.1 L154.8 174.9 L154.5 174.3 L147.5 174.2 L146.9 174.8 L146.9 177.1 L145.1 176.7 L138.5 179.4 L138.3 180.1 L139.7 184.1Z M107.9 198.7 L114.8 195.9 L116.2 190.0 L115.9 189.3 L109.1 187.1 L102.3 190.6 L102.3 195.9Z M139.1 200.5 L139.3 195.9 L138.7 195.4 L137.7 195.3 L137.4 193.5 L137.0 192.9 L129.7 195.8 L132.5 204.4 L138.3 203.1 L138.7 202.5 L138.7 200.7Z M46.6 219.9 L52.9 218.6 L57.9 216.1 L62.9 212.4 L60.4 204.9 L55.4 201.1 L55.4 193.7 L51.8 192.4 L49.3 192.8 L47.8 193.9 L46.6 198.7 L46.6 204.9 L40.4 209.9 L43.4 216.6Z M79.5 219.2 L72.6 217.9 L68.3 223.4 L69.6 233.9 L75.1 236.9 L75.8 236.7 L81.1 232.5 L82.4 226.0Z M117.2 247.3 L115.4 253.6 L111.7 259.8 L107.3 268.6 L107.0 270.4 L108.9 274.4 L111.7 269.8 L116.7 263.5 L124.1 256.1 L127.7 253.0 L124.1 254.8 L131.6 251.1 L136.6 244.8 L134.1 239.8 L124.1 242.3 L131.6 240.4 L134.1 237.3 L137.9 229.8 L139.1 217.4 L136.6 211.1 L131.6 206.1 L124.1 209.9 L116.7 228.6 L111.7 227.3 L109.2 218.6 L105.4 219.9 L102.9 228.6 L94.2 226.1 L89.2 229.8 L85.5 237.3 L83.0 247.3 L82.3 252.8 L86.7 256.5 L89.2 256.1 L94.2 253.6 L97.8 249.9 L101.1 244.7 L103.5 243.2 L109.2 238.6 L114.2 241.1Z M83.5 239.4 L82.8 239.0 L78.5 239.3 L78.5 244.1 L83.4 244.1Z M138.5 250.3 L139.3 250.6 L145.4 248.2 L147.4 245.1 L147.2 244.2 L148.7 239.9 L148.4 239.2 L147.7 239.0 L138.5 240.5Z M214.0 124.8 L217.7 119.9 L219.0 112.4 L221.0 108.6 L221.0 121.8 L223.6 122.8 L219.0 123.6 L219.0 128.6 L222.7 131.1 L217.0 139.8 L221.5 142.8 L226.7 142.3 L228.0 129.8 L226.5 122.3 L228.0 119.9 L227.0 108.6 L226.5 108.6 L229.0 107.4 L231.5 99.9 L232.7 89.9 L230.2 84.4 L221.5 88.7 L214.0 93.6 L209.0 99.9 L210.3 103.6 L214.0 107.4 L211.0 124.3Z M187.8 125.6 L192.8 122.5 L191.1 115.9 L190.5 115.3 L183.9 116.6 L183.3 117.1 L183.3 122.7Z M202.0 124.3 L202.3 123.7 L202.3 119.9 L201.9 119.1 L194.0 119.1 L193.3 119.5 L193.2 123.7 L193.7 124.3Z M215.7 133.5 L216.1 132.8 L216.0 129.8 L215.7 129.2 L210.3 129.0 L209.6 129.4 L209.5 132.9 L209.8 133.5Z M168.6 131.2 L168.3 131.8 L168.3 136.1 L168.7 136.8 L177.8 136.9 L178.5 136.5 L178.6 131.8 L178.2 131.1Z M147.2 139.0 L147.9 139.4 L153.3 139.2 L153.7 138.6 L153.5 134.4 L152.9 134.0 L147.4 134.2 L147.1 134.8Z M206.0 140.7 L205.3 140.3 L202.3 140.3 L202.3 133.6 L202.0 133.0 L197.8 132.8 L197.2 133.1 L197.0 147.3 L197.3 147.9 L205.8 147.9 L206.1 147.3Z M144.7 150.2 L148.8 155.6 L156.7 154.3 L157.3 153.8 L159.9 147.1 L154.7 141.8 L154.0 141.5 L144.8 144.2Z M181.1 151.8 L180.8 152.5 L181.0 155.6 L185.3 155.8 L185.9 155.5 L186.1 152.5 L185.8 151.8Z M193.5 156.5 L192.8 156.2 L187.7 156.2 L187.2 156.5 L187.0 162.8 L187.3 163.4 L192.8 163.6 L193.4 163.3Z M162.3 177.5 L161.6 177.1 L157.3 177.3 L157.0 177.9 L157.2 181.7 L157.8 182.0 L162.1 181.8 L162.4 181.2Z M184.1 177.4 L181.6 172.4 L180.3 163.7 L177.8 163.7 L176.6 168.7 L174.1 174.9 L175.3 182.4 L169.6 186.2 L170.3 192.4 L176.6 194.9 L177.8 201.1 L175.3 207.4 L176.6 214.4 L185.3 213.6 L185.3 207.4 L189.0 202.4 L194.0 198.6 L199.0 193.7 L200.3 188.7 L211.5 182.4 L213.3 174.9 L210.3 167.4 L211.5 167.4 L211.5 164.7 L210.9 162.4 L209.0 162.4 L209.0 163.7 L207.8 160.0 L204.0 153.0 L200.3 160.0 L197.8 169.9 L192.8 171.2 L189.0 174.9Z M161.5 218.0 L161.9 217.4 L161.6 214.2 L157.8 214.1 L157.2 214.4 L157.0 217.4 L157.3 218.0Z" fill="#a3ff73" fill-rule="evenodd"/>
<path d="M67.4 122.1 L69.2 120.5 L71.5 119.8 L73.9 120.4 L75.7 122.0 L76.6 124.2 L77.8 135.5 L78.6 138.9 L87.0 126.3 L88.0 118.6 L89.4 113.1 L90.1 111.8 L98.2 104.9 L104.1 99.0 L108.4 93.6 L110.6 88.0 L111.7 86.4 L113.7 85.2 L115.9 84.9 L119.8 83.7 L127.2 85.0 L129.9 86.6 L135.6 91.8 L140.6 93.8 L143.0 95.6 L147.9 98.0 L149.1 99.0 L152.4 103.4 L159.7 107.2 L164.9 112.3 L173.8 119.0 L177.3 111.0 L181.6 105.3 L183.9 103.7 L179.9 96.4 L176.7 92.2 L173.0 89.4 L167.1 87.5 L165.9 86.7 L164.5 84.8 L164.1 82.5 L157.7 81.9 L148.0 78.3 L143.8 73.2 L139.9 65.7 L134.4 57.3 L128.8 47.0 L123.2 38.2 L115.1 34.1 L92.2 30.7 L75.0 37.0 L67.3 40.9 L61.2 47.8 L59.4 52.4 L59.5 53.3 L60.4 54.2 L65.6 55.5 L65.6 61.5 L62.9 68.9 L59.1 81.9 L56.3 89.5 L55.4 93.7 L44.0 101.6 L38.3 103.3 L33.3 100.6 L29.5 102.9 L27.2 112.1 L26.3 119.5 L21.6 132.3 L22.1 133.1 L27.1 137.3 L33.2 137.3 L38.1 136.3 L44.0 137.3 L48.2 133.4 L54.8 131.7 L61.6 134.3 L62.4 135.1 L66.6 133.0 L66.6 124.4Z M64.1 103.6 L70.4 103.6 L70.4 108.6 L64.1 108.6Z M37.2 107.4 L37.2 104.9 L42.9 104.9 L42.9 107.4Z M117.2 131.8 L119.2 131.8 L119.2 127.3 L117.2 127.3Z M133.8 139.3 L134.2 137.3 L132.2 137.2 L131.1 136.2 L131.1 139.3Z M77.3 167.2 L74.5 172.8 L75.4 175.5 L75.8 174.0 L76.9 172.5 L80.8 170.4 L81.7 163.7 L84.0 154.7 L83.6 151.7 L80.0 152.0 L79.5 158.2Z M115.3 170.8 L111.8 169.9 L107.0 171.9 L108.6 176.4 L113.3 174.5Z M136.4 197.2 L135.8 196.1 L135.3 196.1 L135.3 196.9 L134.1 196.9 L134.1 202.1 L136.7 201.4 L137.3 197.3Z M51.0 207.3 L50.1 208.5 L46.4 211.5 L47.2 213.3 L48.3 214.4 L51.2 213.8 L55.2 211.8 L57.0 210.5 L56.1 207.9 L51.6 204.5Z M130.4 212.4 L132.1 222.4 L129.1 229.8 L124.9 237.0 L128.8 236.0 L129.9 234.6 L133.0 228.4 L134.0 218.1 L132.4 213.9 L130.8 212.4Z M71.5 232.8 L73.6 232.8 L73.6 229.8 L71.1 229.8Z M95.2 231.6 L93.1 233.1 L92.9 234.8 L96.7 234.8 L96.7 232.0Z M97.9 237.3 L91.7 237.3 L91.7 244.8 L95.8 244.8 L97.9 242.1Z M81.6 242.4 L81.6 241.0 L80.3 241.0 L80.3 242.4Z M128.4 247.1 L129.0 246.2 L124.8 247.3 L122.1 246.9 L121.4 250.6Z M220.5 103.6 L222.0 103.7 L223.7 104.4 L224.9 103.8 L226.6 98.8 L227.5 91.3 L224.0 93.0 L217.4 97.4 L214.6 100.9 L218.1 104.5Z M184.0 113.6 L184.8 113.7 L184.8 113.6Z M211.5 131.6 L214.1 131.6 L214.1 131.0 L211.5 131.0Z M176.6 134.9 L176.6 133.0 L170.3 133.0 L170.3 134.9Z M200.8 142.0 L200.3 141.2 L200.3 134.8 L199.0 134.8 L199.0 143.6 L201.5 143.6 L201.5 142.3Z M184.1 153.8 L182.8 153.7 L182.8 153.8Z M191.6 158.2 L189.0 158.2 L189.0 161.6 L191.6 161.6Z M151.9 179.1 L152.8 178.7 L152.8 176.1 L148.9 176.1 L148.9 178.6 L147.7 179.4 L147.7 179.9 L151.5 179.9Z M160.4 180.0 L160.4 179.1 L159.0 179.1 L159.0 180.0Z M179.9 184.4 L178.8 186.0 L174.9 188.9 L179.3 190.7 L181.0 192.5 L182.7 200.2 L182.6 202.7 L185.7 198.7 L190.8 194.9 L194.5 191.1 L195.6 187.0 L196.9 185.0 L207.1 179.2 L208.0 175.3 L205.5 168.8 L205.3 167.0 L204.2 165.0 L202.5 171.6 L200.8 174.0 L199.5 174.6 L195.3 175.7 L191.7 179.1 L185.4 182.2 L182.5 182.2 L180.1 180.4 L180.3 182.6Z M144.6 184.4 L147.9 185.5 L147.9 182.9 L144.6 182.9Z M159.0 216.1 L159.9 216.2 L159.9 216.1Z M144.4 246.4 L145.8 242.3 L145.5 241.4 L140.3 242.1 L140.3 247.3 L140.9 247.8Z" fill="#4ce600" fill-rule="evenodd"/>
<path d="M64.2 121.8 L65.9 119.2 L68.5 117.5 L72.3 116.9 L75.2 117.7 L77.7 119.6 L78.9 121.6 L79.5 123.9 L80.4 130.6 L84.1 125.0 L85.1 117.9 L86.6 112.1 L87.8 109.9 L96.2 102.7 L101.8 97.0 L105.8 92.1 L108.2 86.2 L110.1 83.8 L112.8 82.3 L119.4 80.7 L122.0 80.8 L127.6 82.0 L131.0 83.7 L137.2 89.3 L141.9 91.2 L144.6 93.1 L150.1 95.9 L154.4 101.1 L161.6 104.9 L166.8 110.0 L172.6 114.4 L174.8 109.4 L180.1 102.6 L177.4 98.1 L174.6 94.4 L171.6 92.1 L165.9 90.3 L163.4 88.5 L161.7 86.0 L161.1 82.2 L157.7 81.9 L148.0 78.3 L143.8 73.2 L139.9 65.7 L134.4 57.3 L128.8 47.0 L123.2 38.2 L115.1 34.1 L92.2 30.7 L75.0 37.0 L67.3 40.9 L61.2 47.8 L59.4 52.4 L59.5 53.3 L60.4 54.2 L65.6 55.5 L65.6 61.5 L62.9 68.9 L59.1 81.9 L56.3 89.5 L55.4 93.7 L44.0 101.6 L38.3 103.3 L33.3 100.6 L29.5 102.9 L27.2 112.1 L26.3 119.5 L21.6 132.3 L23.5 134.3 L47.2 134.3 L48.2 133.4 L54.8 131.7 L59.2 133.4 L63.6 131.1 L63.6 124.1Z M70.4 103.6 L70.4 108.6 L64.1 108.6 L64.1 103.6Z M37.2 104.9 L42.9 104.9 L42.9 107.4 L37.2 107.4Z M109.3 172.9 L109.7 174.0 L112.0 173.0 L112.6 172.0 L111.9 171.8Z M184.8 195.5 L185.3 195.2 L185.3 193.7 L184.5 193.7Z M53.1 209.5 L53.2 209.5 L53.2 209.5Z" fill="#267300" fill-rule="evenodd"/>
<path d="M116.5 87.4 L115.3 78.7 L107.8 80.4 L109.0 87.4Z M79.6 107.4 L79.1 101.9 L62.9 102.4 L62.9 108.6 L70.4 109.9Z M175.3 117.4 L172.8 112.4 L169.1 109.9 L165.3 111.1 L172.8 117.9Z" fill="#e1e1e1" fill-rule="evenodd"/>
<polygon points="76.0,118.0 92.0,116.0 92.0,132.0 88.0,145.0 80.0,150.0 74.0,145.0" fill="#267300"/>
<polygon points="124.0,216.0 135.0,214.0 137.0,226.0 128.0,230.0" fill="#267300"/>
<polygon points="59.9,113.8 78.6,113.8 80.6,130.0 81.1,137.5 77.9,140.5 75.4,138.8 71.2,136.3 63.7,135.0" fill="#267300"/>
</g>
<polygon points="23.1,132.0 27.8,119.9 28.7,112.4 30.6,103.9 33.4,102.1 38.1,104.9 44.6,103.0 50.2,99.3 56.8,94.6 57.7,89.9 60.5,82.4 64.3,69.3 67.1,61.8 67.1,54.3 60.9,52.8 62.4,48.7 68.0,42.2 75.5,38.4 84.0,35.2 92.4,32.2 99.9,33.4 107.3,34.7 114.8,35.6 122.3,39.4 127.5,47.8 133.1,58.1 138.7,66.5 142.5,74.0 147.1,79.6 157.4,83.4 166.8,84.3 174.3,86.2 181.8,89.9 186.5,95.5 190.2,104.9 194.9,105.8 202.4,103.0 209.9,97.4 217.3,91.8 224.8,87.1 231.4,84.3 232.3,89.9 231.4,99.3 229.5,108.6 227.6,118.0 226.7,129.2 225.5,141.5 218.0,142.5 212.4,144.3 206.8,150.0 204.9,152.8 208.6,159.3 210.5,166.8 213.3,173.4 213.3,179.9 210.5,184.6 209.6,190.2 204.9,186.5 201.1,188.3 199.3,194.9 194.6,199.6 188.0,204.2 185.2,208.0 186.2,212.7 182.4,215.5 174.0,215.5 170.2,212.7 166.5,219.2 163.7,226.7 158.1,232.3 152.4,236.2 146.8,243.6 142.1,250.2 131.8,257.7 124.3,262.4 116.8,268.0 110.2,273.6 108.5,270.0 110.2,262.4 113.1,256.8 115.9,252.1 116.8,245.5 114.0,240.8 107.4,239.0 100.0,243.6 96.0,250.0 92.4,257.0 88.6,256.1 83.0,251.4 77.4,246.7 74.6,241.1 69.0,236.4 65.2,229.9 62.4,222.4 58.7,216.8 54.9,218.6 50.2,222.4 45.6,220.5 44.6,214.9 40.9,211.1 42.8,206.5 47.4,201.8 49.3,194.3 54.9,193.4 60.5,189.6 68.0,183.1 69.9,175.6 71.8,168.1 74.6,160.6 73.6,151.2 70.8,140.0 68.0,138.6 62.4,133.0 54.9,130.1 47.4,132.0 43.7,135.8 38.1,134.8 28.7,136.7" fill="none" stroke="#555" stroke-width="0.7" stroke-linejoin="round"/>
<rect x="14.8" y="14.8" width="224.1" height="285.4" fill="none" stroke="#000" stroke-width="1.5"/>
<path d="M55.0 14.8 v-4 M105.8 14.8 v-4 M158.0 14.8 v-4 M210.3 14.8 v-4 M33.8 300.2 v4.3 M98.7 300.2 v4.3 M163.8 300.2 v4.3 M230.9 300.2 v4.3 M14.8 21.0 h-4 M14.8 100.5 h-4 M14.8 182.0 h-4 M14.8 266.9 h-4 M238.9 53.5 h4 M238.9 139.0 h4 M238.9 227.5 h4" stroke="#000" stroke-width="1.3" fill="none"/>
<g class="ax">
<text x="55.3" y="9.9" text-anchor="middle" textLength="25.6" lengthAdjust="spacingAndGlyphs">120°E</text>
<text x="106.1" y="9.9" text-anchor="middle" textLength="25.6" lengthAdjust="spacingAndGlyphs">125°E</text>
<text x="158.3" y="9.9" text-anchor="middle" textLength="25.6" lengthAdjust="spacingAndGlyphs">130°E</text>
<text x="210.60000000000002" y="9.9" text-anchor="middle" textLength="25.6" lengthAdjust="spacingAndGlyphs">135°E</text>
<text x="34.099999999999994" y="313.6" text-anchor="middle" textLength="25.6" lengthAdjust="spacingAndGlyphs">115°E</text>
<text x="99.0" y="313.6" text-anchor="middle" textLength="25.6" lengthAdjust="spacingAndGlyphs">120°E</text>
<text x="164.10000000000002" y="313.6" text-anchor="middle" textLength="25.6" lengthAdjust="spacingAndGlyphs">125°E</text>
<text x="231.20000000000002" y="313.6" text-anchor="middle" textLength="25.6" lengthAdjust="spacingAndGlyphs">130°E</text>
<text transform="translate(8.9,21.0) rotate(-90)" text-anchor="middle" font-size="9.6" textLength="21" lengthAdjust="spacingAndGlyphs" style="font-size:9.6px">55°N</text>
<text transform="translate(8.9,100.5) rotate(-90)" text-anchor="middle" font-size="9.6" textLength="21" lengthAdjust="spacingAndGlyphs" style="font-size:9.6px">50°N</text>
<text transform="translate(8.9,182.0) rotate(-90)" text-anchor="middle" font-size="9.6" textLength="21" lengthAdjust="spacingAndGlyphs" style="font-size:9.6px">45°N</text>
<text transform="translate(8.9,266.9) rotate(-90)" text-anchor="middle" font-size="9.6" textLength="21" lengthAdjust="spacingAndGlyphs" style="font-size:9.6px">40°N</text>
<text transform="translate(250.6,53.5) rotate(-90)" text-anchor="middle" textLength="21" lengthAdjust="spacingAndGlyphs" style="font-size:9.6px">50°N</text>
<text transform="translate(250.6,139.0) rotate(-90)" text-anchor="middle" textLength="21" lengthAdjust="spacingAndGlyphs" style="font-size:9.6px">45°N</text>
<text transform="translate(250.6,227.5) rotate(-90)" text-anchor="middle" textLength="21" lengthAdjust="spacingAndGlyphs" style="font-size:9.6px">40°N</text>
</g>
<text class="bs" x="29" y="34.2" font-size="16.5">G</text>
<text class="bs" x="17.8" y="261" font-size="14.5">CS</text>
<rect x="17" y="272.5" width="21.2" height="10.2" fill="#267300"/>
<rect x="17" y="286.8" width="21.2" height="10.2" fill="#4ce600"/>
<rect x="94.8" y="272.5" width="21.2" height="10.2" fill="#a3ff73"/>
<rect x="94.8" y="286.8" width="21.2" height="10.2" fill="#e1e1e1"/>
<text class="bs" x="42.4" y="283.2" font-size="14.5">P&lt;0.001</text>
<text class="bs" x="42.4" y="297.4" font-size="14.5">p&lt;0.01</text>
<text class="bs" x="120" y="283.2" font-size="14.5">p&lt;0.05</text>
<text class="bs" x="120" y="297.4" font-size="14.5">P ≥ 0.05</text>
<path d="M182.4 287.6 v6.8 h30 v-6.8 M197.4 290.8 v3.6" stroke="#000" stroke-width="1.3" fill="none"/>
<text class="bs" x="180.4" y="282.6" font-size="7.6" textLength="55" lengthAdjust="spacingAndGlyphs">0 100200 km</text>
</g>
<g transform="translate(513.8,317.8)">
<g clip-path="url(#frameclip)" stroke="#9a9a9a" stroke-width="0.7" fill="none">
<line x1="54.7" y1="12.8" x2="99.0" y2="302.2"/>
<line x1="105.4" y1="12.8" x2="164.3" y2="302.2"/>
<line x1="157.5" y1="12.8" x2="231.4" y2="302.2"/>
<line x1="209.7" y1="12.8" x2="298.6" y2="302.2"/>
<line x1="2.9" y1="0" x2="35.1" y2="313.1"/>
<circle cx="-99.5" cy="-994.0" r="1021.4"/>
<circle cx="-99.5" cy="-994.0" r="1100.5"/>
<circle cx="-99.5" cy="-994.0" r="1181.5"/>
<circle cx="-99.5" cy="-994.0" r="1266.1"/>
</g>
<g clip-path="url(#mapclip)">
<polygon points="23.1,132.0 27.8,119.9 28.7,112.4 30.6,103.9 33.4,102.1 38.1,104.9 44.6,103.0 50.2,99.3 56.8,94.6 57.7,89.9 60.5,82.4 64.3,69.3 67.1,61.8 67.1,54.3 60.9,52.8 62.4,48.7 68.0,42.2 75.5,38.4 84.0,35.2 92.4,32.2 99.9,33.4 107.3,34.7 114.8,35.6 122.3,39.4 127.5,47.8 133.1,58.1 138.7,66.5 142.5,74.0 147.1,79.6 157.4,83.4 166.8,84.3 174.3,86.2 181.8,89.9 186.5,95.5 190.2,104.9 194.9,105.8 202.4,103.0 209.9,97.4 217.3,91.8 224.8,87.1 231.4,84.3 232.3,89.9 231.4,99.3 229.5,108.6 227.6,118.0 226.7,129.2 225.5,141.5 218.0,142.5 212.4,144.3 206.8,150.0 204.9,152.8 208.6,159.3 210.5,166.8 213.3,173.4 213.3,179.9 210.5,184.6 209.6,190.2 204.9,186.5 201.1,188.3 199.3,194.9 194.6,199.6 188.0,204.2 185.2,208.0 186.2,212.7 182.4,215.5 174.0,215.5 170.2,212.7 166.5,219.2 163.7,226.7 158.1,232.3 152.4,236.2 146.8,243.6 142.1,250.2 131.8,257.7 124.3,262.4 116.8,268.0 110.2,273.6 108.5,270.0 110.2,262.4 113.1,256.8 115.9,252.1 116.8,245.5 114.0,240.8 107.4,239.0 100.0,243.6 96.0,250.0 92.4,257.0 88.6,256.1 83.0,251.4 77.4,246.7 74.6,241.1 69.0,236.4 65.2,229.9 62.4,222.4 58.7,216.8 54.9,218.6 50.2,222.4 45.6,220.5 44.6,214.9 40.9,211.1 42.8,206.5 47.4,201.8 49.3,194.3 54.9,193.4 60.5,189.6 68.0,183.1 69.9,175.6 71.8,168.1 74.6,160.6 73.6,151.2 70.8,140.0 68.0,138.6 62.4,133.0 54.9,130.1 47.4,132.0 43.7,135.8 38.1,134.8 28.7,136.7" fill="#e1e1e1"/>
<path d="M73.1 124.9 L75.7 130.4 L76.4 130.8 L77.1 130.7 L79.9 125.5 L89.7 118.1 L94.7 112.0 L102.0 109.5 L108.5 105.5 L111.3 86.5 L113.6 81.9 L114.6 86.8 L119.4 88.3 L120.0 87.7 L122.4 79.3 L125.7 76.8 L133.3 85.6 L137.1 89.4 L137.8 89.6 L142.3 85.5 L145.8 79.7 L151.6 79.7 L148.0 78.3 L143.8 73.2 L139.9 65.7 L134.4 57.3 L128.8 47.0 L123.1 38.1 L115.1 34.1 L92.2 30.7 L75.0 37.0 L67.3 40.9 L61.1 47.9 L59.4 52.4 L59.5 53.3 L60.4 54.2 L65.6 55.5 L65.6 61.5 L62.9 68.9 L59.1 81.9 L56.9 88.1 L57.8 88.9 L62.8 88.8 L63.4 88.0 L63.4 84.9 L74.3 119.9Z M94.7 67.6 L87.1 66.5 L83.8 62.1 L83.8 58.3 L91.2 57.3 L96.6 62.7Z M115.7 96.7 L116.5 97.1 L121.0 96.8 L121.3 96.1 L121.0 91.7 L120.3 91.4 L115.8 91.7 L115.5 92.4Z M66.3 115.1 L66.2 106.8 L65.6 106.4 L59.2 105.1 L50.1 107.7 L41.0 111.6 L34.4 119.8 L36.9 130.1 L39.5 136.6 L41.4 136.9 L45.5 136.1 L48.2 133.4 L49.2 133.1 L51.2 130.4 L53.2 125.6 L57.7 130.8 L63.5 128.1 L63.8 127.1 L61.5 120.1Z M159.4 122.0 L159.3 132.8 L160.1 133.3 L164.4 133.2 L165.0 132.3 L165.0 123.6 L164.5 121.9 L163.7 121.4 L160.0 121.4Z M156.2 149.6 L154.8 129.4 L154.0 129.0 L140.1 129.0 L138.5 126.6 L132.2 120.4 L121.0 106.7 L119.9 106.4 L115.7 110.5 L110.6 119.5 L108.1 129.6 L107.7 133.5 L106.8 134.9 L107.3 137.5 L106.8 142.3 L107.9 151.4 L107.6 152.3 L103.6 156.3 L100.7 158.2 L101.5 165.4 L100.5 168.0 L96.3 171.4 L96.3 167.5 L97.6 157.5 L97.5 147.3 L93.8 142.1 L93.7 133.2 L89.3 131.5 L88.4 131.8 L85.8 138.1 L79.7 141.7 L74.4 147.1 L75.1 155.0 L74.4 162.2 L71.9 169.5 L68.4 175.4 L66.9 183.2 L62.2 189.2 L55.9 194.2 L54.2 196.5 L51.9 192.7 L47.7 194.5 L46.0 201.0 L45.6 201.5 L45.9 203.1 L49.9 205.7 L49.5 207.7 L53.3 215.4 L56.5 219.5 L58.2 218.7 L61.1 223.1 L63.8 230.5 L67.1 236.0 L70.2 237.1 L71.3 236.5 L70.1 229.8 L71.3 222.6 L73.8 215.3 L78.7 210.4 L78.8 209.5 L77.7 207.4 L84.9 192.9 L89.9 185.5 L93.7 178.0 L93.1 180.0 L94.2 188.2 L88.4 192.9 L83.1 198.4 L85.7 206.6 L90.9 211.8 L91.6 212.1 L106.5 204.8 L112.0 208.0 L114.3 214.9 L113.1 221.9 L109.7 225.3 L105.3 225.1 L104.5 225.5 L104.4 229.1 L105.1 229.6 L106.5 229.6 L104.4 233.2 L104.4 234.0 L108.3 239.3 L109.1 239.6 L117.0 238.2 L123.5 233.0 L128.7 226.4 L130.0 217.2 L125.7 211.5 L119.8 212.4 L118.9 207.7 L122.1 204.5 L129.7 200.6 L138.8 190.7 L142.8 190.7 L143.6 190.3 L143.7 185.3 L147.0 181.3 L145.0 174.3 L145.0 169.0 L148.6 164.0 L149.5 166.2 L150.4 166.7 L159.3 165.9 L168.1 163.4 L168.8 162.8 L167.5 158.4 L166.8 157.7 L156.5 159.0 L155.0 159.4Z M94.8 174.7 L93.9 177.4 L94.5 174.7Z M164.8 178.0 L164.0 177.7 L157.4 179.0 L152.1 184.3 L151.9 185.0 L152.6 192.5 L153.0 193.2 L161.6 194.7 L171.7 193.4 L172.3 193.0 L172.5 192.1 L170.0 183.2Z M145.9 210.2 L146.4 209.4 L146.4 204.8 L146.0 204.1 L138.8 203.9 L138.1 204.8 L138.1 208.9 L134.0 208.9 L133.2 209.4 L133.2 213.9 L134.0 214.6 L139.4 214.6 L140.1 213.8 L140.1 210.4Z M43.6 206.5 L43.1 207.4 L43.3 214.2 L44.0 214.6 L48.4 214.5 L48.9 213.6 L48.7 206.8 L48.0 206.4Z M75.8 219.2 L75.6 220.1 L78.5 226.9 L79.3 227.1 L83.6 225.5 L83.8 224.7 L82.2 217.8 L81.3 217.6Z M115.7 254.4 L115.9 255.5 L118.5 258.1 L119.5 258.2 L124.7 254.4 L130.9 250.7 L138.4 246.9 L145.9 241.9 L153.5 235.6 L159.8 229.3 L164.8 223.0 L167.8 220.1 L170.7 214.9 L172.0 215.9 L173.7 214.1 L173.7 213.1 L169.4 208.9 L161.7 208.9 L154.4 206.4 L153.5 206.5 L148.3 211.8 L144.6 219.2 L138.4 224.1 L130.9 231.6 L124.6 239.2 L119.6 246.8Z M75.7 241.9 L75.7 242.8 L78.5 246.9 L83.6 249.4 L88.9 253.3 L89.7 253.1 L94.7 248.1 L99.6 245.7 L100.1 244.9 L98.7 236.9 L94.9 231.8 L91.1 225.5 L90.5 225.1 L84.4 228.2 L84.3 232.5 L85.4 236.8Z M115.2 271.0 L114.4 270.0 L109.9 270.1 L109.4 270.9 L109.5 274.0 L110.1 274.5 L111.4 274.5Z M145.3 101.8 L147.2 105.7 L150.0 106.8 L154.9 110.7 L162.7 113.4 L169.6 110.8 L174.2 107.3 L180.3 109.6 L182.0 108.4 L184.4 108.3 L185.0 107.5 L185.0 102.1 L184.4 101.5 L183.4 101.4 L181.3 97.2 L181.1 94.3 L180.5 93.9 L178.8 93.9 L176.0 90.4 L170.2 86.9 L170.1 85.7 L169.3 85.2 L158.5 89.0 L151.0 92.7 L144.6 96.6 L144.2 97.5Z M188.3 110.4 L188.0 111.1 L188.0 119.9 L188.4 120.6 L189.2 120.8 L199.0 119.6 L208.7 120.8 L214.4 124.2 L215.5 129.9 L214.3 138.4 L214.5 139.2 L218.9 143.3 L226.2 140.7 L226.7 140.1 L227.6 135.8 L229.1 118.2 L232.9 99.4 L233.8 89.9 L233.3 86.5 L230.0 83.3 L225.7 85.1 L220.9 89.1 L213.4 94.1 L206.0 101.5 L196.1 105.2Z M221.2 109.5 L225.6 108.6 L226.6 115.5 L225.0 116.4 L222.1 116.4 L220.5 114.5Z M174.5 129.9 L175.3 130.3 L178.7 130.3 L179.4 129.9 L179.6 123.6 L179.1 122.8 L175.2 122.6 L174.5 123.0Z M172.3 135.4 L171.8 136.2 L171.8 142.1 L172.2 142.8 L179.6 143.0 L180.3 142.6 L180.6 136.2 L180.2 135.5Z M191.0 135.5 L190.0 135.3 L185.0 136.5 L184.4 137.0 L184.3 137.7 L186.0 143.3 L191.5 143.5 L192.4 143.0 L192.5 142.3Z M169.6 142.1 L170.1 141.2 L170.1 138.6 L169.6 137.9 L164.1 137.7 L163.3 138.2 L163.1 141.3 L163.5 142.1Z M163.4 145.5 L163.1 146.2 L163.4 149.9 L164.1 150.2 L167.8 149.9 L168.1 149.2 L167.8 145.5 L167.1 145.2Z M203.8 155.1 L201.1 150.6 L200.0 150.3 L193.3 153.1 L193.1 158.3 L193.8 158.9 L199.3 159.7Z M179.4 157.4 L178.6 157.0 L174.6 157.2 L174.3 158.0 L174.6 161.9 L175.3 162.2 L179.3 161.9 L179.6 161.2Z M209.8 163.1 L209.0 162.7 L205.9 162.7 L205.2 163.1 L205.0 169.4 L205.5 170.3 L209.1 170.4 L209.8 170.0Z M192.6 169.5 L193.0 168.7 L192.8 164.3 L192.0 163.9 L188.4 164.2 L188.0 164.8 L188.1 168.9 L187.3 169.1 L186.8 169.6 L186.8 172.7 L183.9 172.7 L183.1 173.3 L183.1 177.4 L183.3 178.1 L184.1 178.4 L187.3 178.1 L187.5 173.9 L190.9 173.7 L191.3 173.0 L191.3 169.7Z M196.1 174.4 L195.3 173.9 L190.9 174.2 L190.5 174.8 L190.6 179.1 L191.4 179.7 L195.6 179.6 L195.5 183.8 L196.1 184.5 L200.7 184.6 L201.3 183.8 L201.2 179.5 L200.4 178.9 L196.2 179.0Z M188.3 196.0 L189.0 196.4 L195.9 196.2 L196.3 195.4 L196.1 189.3 L195.3 188.9 L188.4 189.1 L188.0 189.9Z M172.0 196.8 L171.8 197.5 L172.6 205.1 L175.8 210.5 L176.3 210.8 L177.1 210.7 L178.1 209.1 L178.1 210.2 L178.6 210.7 L182.6 212.1 L183.4 211.9 L186.8 208.5 L187.5 207.3 L186.1 201.8 L185.2 201.4 L180.1 202.4 L180.1 196.0 L179.4 195.2Z" fill="#a3ff73" fill-rule="evenodd"/>
<path d="M61.0 78.9 L62.4 78.3 L63.6 78.8 L64.2 79.5 L76.7 119.6 L75.6 124.7 L76.6 126.7 L78.1 123.9 L88.1 116.3 L93.3 110.0 L101.0 107.3 L106.5 104.0 L108.9 85.8 L113.2 77.5 L114.2 77.3 L115.2 77.9 L116.5 85.1 L118.1 85.6 L120.4 77.8 L125.8 73.7 L126.9 73.6 L128.7 75.3 L128.7 76.6 L137.7 86.7 L140.4 84.0 L144.2 77.7 L145.1 77.3 L147.1 77.3 L143.8 73.2 L139.9 65.7 L134.4 57.3 L128.8 47.0 L123.3 38.3 L115.1 34.1 L92.3 30.7 L75.0 37.0 L67.3 40.9 L61.2 47.8 L59.4 52.4 L59.5 53.3 L60.4 54.2 L65.6 55.5 L65.6 61.5 L62.9 68.9 L60.2 77.9 L60.5 80.5Z M96.0 69.9 L95.1 70.1 L85.6 68.5 L81.5 62.8 L81.4 57.3 L81.8 56.5 L82.6 56.1 L91.4 54.8 L92.6 55.2 L99.2 62.2 L96.6 69.2Z M117.3 93.2 L117.3 95.3 L119.5 95.3 L119.5 93.2Z M148.9 103.8 L151.2 104.8 L156.0 108.6 L162.8 110.9 L168.4 108.6 L173.7 104.8 L180.0 107.0 L181.0 106.1 L182.7 106.0 L182.7 103.8 L181.6 103.0 L179.0 97.9 L178.9 96.3 L177.5 96.0 L174.4 92.2 L167.9 88.1 L159.5 91.2 L152.2 94.9 L146.9 98.0 L147.4 100.5Z M59.1 119.3 L64.0 114.3 L64.0 108.5 L59.2 107.6 L50.9 109.9 L42.5 113.5 L36.9 120.2 L39.2 129.4 L41.3 134.5 L45.8 133.6 L49.2 129.1 L51.6 122.9 L52.3 122.3 L53.9 122.6 L58.3 128.1 L61.2 126.6 L59.0 120.3Z M163.2 131.5 L162.8 123.1 L161.1 123.1 L161.0 131.5Z M150.9 164.8 L158.9 164.2 L166.8 161.9 L166.0 159.6 L156.8 160.7 L150.2 162.9Z M104.1 167.1 L103.8 168.4 L97.8 173.3 L95.5 180.1 L96.7 188.5 L96.5 189.4 L90.0 194.7 L85.7 199.0 L87.8 205.4 L91.8 209.4 L106.3 202.3 L107.3 202.4 L114.0 206.7 L116.7 215.1 L115.3 223.0 L109.7 228.6 L107.0 233.5 L109.7 237.1 L115.9 236.0 L121.8 231.3 L126.4 225.5 L127.5 217.7 L124.7 213.9 L119.2 215.0 L118.0 214.6 L116.4 207.0 L120.8 202.5 L128.2 198.8 L144.4 180.8 L142.6 174.6 L142.7 168.3 L147.5 161.4 L152.7 158.6 L153.8 149.4 L152.7 131.4 L138.7 131.2 L136.7 128.2 L130.4 122.0 L120.2 109.5 L117.7 112.0 L112.9 120.4 L110.4 130.1 L110.0 134.1 L109.3 135.3 L109.7 137.4 L109.2 142.3 L110.3 151.7 L109.5 153.8 L105.1 158.2 L103.1 159.4 L103.9 165.5 L103.7 166.4Z M91.4 142.5 L91.4 134.8 L89.9 134.2 L87.6 139.7 L81.2 143.6 L76.8 148.0 L77.5 155.0 L76.7 162.7 L74.1 170.5 L70.4 176.7 L69.1 184.3 L63.9 190.9 L57.6 195.9 L54.9 199.4 L53.5 199.7 L53.0 200.6 L53.6 201.9 L51.9 207.3 L55.3 214.1 L60.3 220.4 L64.1 226.7 L67.6 233.7 L68.5 234.0 L67.7 229.7 L69.0 222.1 L71.9 213.6 L67.9 213.6 L62.9 207.4 L60.4 197.4 L65.4 201.1 L69.1 207.4 L75.3 204.9 L75.8 205.8 L82.8 191.8 L87.9 184.2 L91.5 176.9 L92.3 173.7 L89.1 173.7 L89.1 164.9 L94.2 164.9 L95.2 157.4 L95.2 147.9Z M87.8 183.7 L82.8 183.7 L82.8 178.7 L87.8 178.7Z M168.4 184.1 L163.8 179.5 L158.2 180.7 L153.7 185.2 L154.3 191.7 L161.6 192.8 L170.5 191.7Z M140.2 188.9 L141.9 188.9 L141.9 187.0 L141.6 187.5Z M139.9 208.6 L144.6 208.6 L144.6 205.7 L139.9 205.7Z M47.1 208.2 L44.9 208.2 L44.9 212.8 L47.1 212.8Z M134.9 210.7 L134.9 212.8 L138.3 212.8 L138.3 210.7Z M81.0 219.6 L77.7 220.4 L79.6 225.1 L81.9 224.3Z M129.7 248.6 L137.2 244.9 L144.5 240.0 L151.9 233.8 L158.0 227.7 L163.1 221.4 L170.8 213.6 L168.5 211.3 L161.3 211.2 L154.5 209.0 L150.3 213.2 L146.5 220.7 L140.1 225.9 L132.7 233.3 L126.5 240.7 L121.6 248.0 L118.4 254.5 L119.3 255.5 L123.4 252.4Z M93.2 246.2 L97.5 244.0 L96.5 237.9 L92.9 233.1 L89.8 227.9 L86.7 229.5 L86.7 232.2 L88.0 237.1 L87.7 238.2 L78.6 242.9 L80.0 245.0 L84.8 247.4 L88.9 250.5Z M111.2 272.7 L113.4 272.7 L113.4 271.8 L111.2 271.8Z M190.4 118.3 L199.1 117.2 L209.2 118.5 L216.0 122.4 L216.6 123.2 L217.9 129.7 L216.7 138.1 L219.4 140.7 L224.5 138.8 L226.8 127.1 L228.1 117.5 L225.4 118.7 L221.5 118.7 L220.7 118.4 L218.1 115.1 L218.9 108.5 L219.8 107.3 L226.9 106.0 L227.8 107.0 L228.5 111.6 L228.9 107.0 L231.4 99.6 L232.5 89.2 L228.9 85.6 L222.3 91.1 L214.9 96.0 L207.3 103.6 L197.2 107.4 L190.4 111.9Z M176.1 124.4 L176.1 128.5 L177.8 128.5 L177.8 124.4Z M178.8 137.0 L173.6 137.0 L173.6 141.2 L178.8 141.2Z M190.6 141.7 L189.7 137.2 L186.3 138.1 L187.2 141.7Z M164.9 140.4 L168.3 140.4 L168.3 139.5 L164.9 139.5Z M166.3 147.0 L164.9 147.0 L164.9 148.4 L166.3 148.4Z M194.8 154.3 L194.8 157.3 L198.7 157.9 L201.7 154.9 L200.0 152.2Z M177.8 160.4 L177.8 158.8 L176.1 158.8 L176.1 160.4Z M208.2 168.6 L208.2 164.5 L206.8 164.5 L206.8 168.6Z M188.6 170.7 L188.6 172.1 L189.5 172.1 L189.5 170.7Z M185.7 176.6 L185.7 174.5 L184.9 174.5 L184.9 176.6Z M194.5 177.9 L194.5 175.7 L192.3 175.7 L192.3 177.9Z M197.3 180.7 L197.3 182.9 L199.5 182.9 L199.5 180.7Z M189.8 190.7 L189.8 194.6 L194.5 194.6 L194.5 190.7Z M178.6 204.3 L178.3 203.6 L178.3 197.1 L173.7 198.0 L174.3 204.6 L176.5 208.2Z M179.6 204.3 L179.9 209.3 L182.6 210.2 L185.7 207.1 L184.7 203.3Z" fill="#4ce600" fill-rule="evenodd"/>
<path d="M95.3 43.7 L92.8 43.7 L92.8 47.5 L95.3 47.5Z M86.6 52.4 L86.6 48.7 L84.1 48.7 L84.1 52.5Z M76.6 71.2 L72.9 71.2 L72.9 74.9 L76.6 74.9Z M107.8 79.9 L108.4 79.9 L110.3 76.2 L107.8 76.2Z M81.6 84.9 L84.1 84.9 L84.1 81.2 L81.6 81.2Z M104.2 97.4 L104.9 92.4 L102.8 92.4 L102.8 97.4Z M77.8 89.9 L70.4 84.9 L68.6 83.1 L78.6 115.0 L80.3 112.4 L84.1 104.9 L82.8 96.1Z M56.6 117.4 L60.9 113.0 L60.9 111.1 L59.3 110.7 L51.9 112.9 L44.4 116.1 L40.3 121.0 L42.2 128.4 L43.2 130.9 L44.1 130.8 L46.4 127.6 L48.7 121.9 L49.7 120.4 L51.1 119.4 L52.9 119.1 L54.6 119.4 L55.9 120.3 L56.0 118.6Z M82.8 183.7 L82.8 178.7 L87.2 178.7 L88.6 175.9 L89.1 173.7 L89.1 164.9 L91.1 164.9 L92.1 157.2 L92.1 149.0 L89.0 144.8 L88.3 142.9 L83.1 146.1 L80.0 149.1 L80.6 155.0 L79.7 163.4 L76.9 171.8 L73.4 177.8 L71.9 185.7 L66.0 193.1 L60.5 197.5 L65.4 201.1 L69.1 207.4 L72.3 206.1 L80.1 190.4 L84.5 183.7Z M62.6 218.3 L65.6 223.2 L68.5 213.6 L67.9 213.6 L62.9 207.4 L60.4 197.6 L56.8 202.0 L55.2 207.0 L57.9 212.4Z M117.0 75.3 L117.8 76.2 L124.5 70.9 L126.2 70.4 L127.9 70.6 L129.4 71.5 L131.0 73.1 L132.0 75.5 L137.7 82.3 L141.9 75.6 L143.0 74.8 L144.6 74.2 L143.8 73.2 L139.9 65.7 L134.4 57.3 L128.8 47.1 L123.5 38.5 L115.5 34.3 L92.0 30.7 L75.0 37.0 L67.3 40.9 L61.0 48.1 L60.7 49.0 L62.9 48.7 L70.4 42.5 L80.3 40.5 L89.1 43.0 L96.6 39.2 L105.3 41.7 L112.8 48.7 L116.5 57.4 L116.5 67.4 L114.8 74.2Z M152.6 102.0 L157.5 105.9 L162.7 107.6 L166.9 105.9 L169.2 104.1 L169.2 97.1 L171.6 96.1 L175.3 99.9 L174.4 101.6 L178.0 102.9 L176.0 98.8 L172.3 94.6 L167.4 91.6 L160.8 94.0 L150.5 99.5 L151.3 101.5Z M193.5 114.8 L199.2 114.1 L210.0 115.5 L218.1 120.1 L215.8 117.4 L215.1 115.7 L216.0 107.2 L216.8 105.7 L218.5 104.5 L227.0 102.9 L228.3 98.9 L229.3 90.3 L228.7 89.7 L224.0 93.6 L216.9 98.4 L209.0 106.2 L198.6 110.2 L193.5 113.5Z M221.0 129.5 L220.1 137.1 L221.8 136.5 L224.4 121.9 L220.8 121.8 L218.8 120.8 L219.6 122.3Z M177.0 139.4 L177.0 138.8 L175.4 138.8 L175.4 139.4Z M126.2 196.2 L141.0 180.1 L139.5 174.9 L139.5 168.2 L140.1 166.5 L145.4 159.2 L149.8 156.6 L150.7 149.3 L149.8 134.5 L139.1 134.5 L137.0 133.7 L134.3 130.2 L128.1 124.0 L120.0 114.2 L115.8 121.5 L113.5 130.6 L113.1 134.7 L112.6 136.0 L112.8 137.4 L112.3 142.3 L113.4 151.4 L112.8 154.3 L111.7 156.0 L106.4 161.0 L107.3 167.5 L106.7 169.6 L105.6 171.0 L100.4 175.1 L98.7 180.3 L99.8 188.4 L99.2 190.9 L89.2 199.9 L90.5 203.7 L92.5 205.6 L104.5 199.6 L106.3 199.1 L108.5 199.6 L115.2 203.6 L119.1 199.8Z M157.2 162.5 L158.6 162.4 L159.0 162.3Z M176.5 199.3 L175.6 199.5 L176.4 204.5 L176.5 204.2Z M123.5 224.2 L124.3 218.6 L123.4 217.3 L119.3 218.1 L118.0 224.4 L112.5 230.3 L110.7 233.3 L111.0 233.7 L114.6 233.1 L119.6 229.1Z" fill="#267300" fill-rule="evenodd"/>
<path d="M75.3 47.5 L70.4 47.5 L70.4 55.0 L75.3 55.0Z M107.8 67.4 L101.6 67.4 L101.6 72.4 L107.8 72.4Z M99.1 76.2 L92.8 76.2 L92.8 79.9 L99.1 79.9Z M95.3 88.7 L95.3 93.6 L101.6 93.6 L101.6 88.7Z M51.6 111.1 L51.6 123.6 L54.1 123.6 L54.1 111.1Z" fill="#e1e1e1" fill-rule="evenodd"/>
<polygon points="75.3,38.9 84.1,35.2 96.6,35.2 106.5,36.4 109.0,45.2 104.1,50.2 94.1,48.9 84.1,51.4 77.8,47.7" fill="#267300"/>
<polygon points="114.0,37.7 121.5,38.9 129.0,47.7 135.3,60.1 139.0,70.1 134.0,78.9 126.5,77.6 119.0,72.6 115.3,62.6 114.0,50.2" fill="#267300"/>
<polygon points="67.9,72.6 74.1,70.1 81.6,75.1 89.1,77.6 95.3,81.4 96.6,87.6 89.1,91.3 81.6,90.1 74.1,86.4 69.1,81.4" fill="#267300"/>
<polygon points="81.6,91.3 91.6,92.6 94.1,100.1 89.1,110.1 84.1,118.8 79.1,125.0 76.6,121.3 80.3,111.3 82.8,102.6" fill="#267300"/>
<polygon points="80.3,53.9 91.6,52.2 99.1,57.6 97.8,70.1 89.1,75.1 81.6,71.4 78.6,62.6" fill="#e1e1e1"/>
<polygon points="82.6,56.2 85.6,56.2 85.6,59.1 82.6,59.1" fill="#a3ff73"/>
<polygon points="92.6,61.1 95.6,61.1 95.6,64.1 92.6,64.1" fill="#a3ff73"/>
<polygon points="85.1,67.4 88.1,67.4 88.1,70.4 85.1,70.4" fill="#a3ff73"/>
<polygon points="93.8,53.7 96.8,53.7 96.8,56.7 93.8,56.7" fill="#a3ff73"/>
<polygon points="99.8,53.4 103.3,53.4 103.3,56.9 99.8,56.9" fill="#4ce600"/>
<polygon points="106.0,63.4 109.5,63.4 109.5,66.9 106.0,66.9" fill="#4ce600"/>
<polygon points="102.3,73.4 105.8,73.4 105.8,76.9 102.3,76.9" fill="#4ce600"/>
<polygon points="107.3,50.9 110.8,50.9 110.8,54.4 107.3,54.4" fill="#4ce600"/>
<polygon points="69.9,53.4 73.3,53.4 73.3,56.9 69.9,56.9" fill="#4ce600"/>
<polygon points="67.4,60.9 70.9,60.9 70.9,64.4 67.4,64.4" fill="#4ce600"/>
<polygon points="133.3,127.2 155.3,129.2 155.3,162.1 150.3,195.8 132.1,198.3 127.1,192.6 132.1,184.6 132.1,172.1 129.6,162.1 124.6,154.6 129.6,149.6 134.6,144.6" fill="#a3ff73"/>
<polygon points="136.1,165.9 149.5,165.1 148.5,192.6 134.6,195.1" fill="#e1e1e1"/>
<polygon points="147.8,130.9 155.3,129.7 155.3,144.6 149.0,142.2" fill="#e1e1e1"/>
<polygon points="134.6,134.7 147.8,135.9 150.3,153.4 142.8,158.4 134.6,160.1 130.8,152.1 134.6,144.6" fill="#4ce600"/>
<polygon points="135.2,138.3 137.9,138.3 137.9,141.0 135.2,141.0" fill="#267300"/>
<polygon points="143.9,140.8 146.7,140.8 146.7,143.5 143.9,143.5" fill="#267300"/>
<polygon points="147.7,145.8 150.4,145.8 150.4,148.5 147.7,148.5" fill="#267300"/>
<polygon points="137.7,152.0 140.4,152.0 140.4,154.8 137.7,154.8" fill="#267300"/>
<polygon points="133.9,148.3 136.7,148.3 136.7,151.0 133.9,151.0" fill="#267300"/>
<polygon points="140.7,145.8 143.4,145.8 143.4,148.5 140.7,148.5" fill="#a3ff73"/>
<polygon points="130.2,155.3 132.9,155.3 132.9,158.0 130.2,158.0" fill="#a3ff73"/>
<polygon points="145.2,154.5 147.9,154.5 147.9,157.3 145.2,157.3" fill="#a3ff73"/>
<polygon points="48.0,187.1 64.2,182.6 74.2,187.1 77.2,199.6 72.2,217.0 64.7,222.5 48.0,213.3" fill="#4ce600"/>
<polygon points="51.7,194.6 61.7,192.1 64.2,202.1 59.2,212.0 52.2,210.8" fill="#267300"/>
<polygon points="67.8,193.2 70.5,193.2 70.5,195.9 67.8,195.9" fill="#267300"/>
<polygon points="66.5,205.7 69.3,205.7 69.3,208.4 66.5,208.4" fill="#267300"/>
<polygon points="70.3,198.2 73.0,198.2 73.0,200.9 70.3,200.9" fill="#267300"/>
<polygon points="52.8,188.2 55.6,188.2 55.6,191.0 52.8,191.0" fill="#267300"/>
<polygon points="62.8,215.7 65.5,215.7 65.5,218.4 62.8,218.4" fill="#267300"/>
<polygon points="56.8,197.2 59.1,197.2 59.1,199.4 56.8,199.4" fill="#a3ff73"/>
<polygon points="61.8,207.2 64.1,207.2 64.1,209.4 61.8,209.4" fill="#a3ff73"/>
<polygon points="54.3,204.7 56.6,204.7 56.6,206.9 54.3,206.9" fill="#a3ff73"/>
<polygon points="114.6,219.5 124.1,217.0 127.8,224.5 124.1,234.5 116.6,240.7 110.4,238.3 111.6,228.3" fill="#267300"/>
<polygon points="142.7,223.2 145.4,223.2 145.4,225.9 142.7,225.9" fill="#267300"/>
<polygon points="147.7,228.1 150.4,228.1 150.4,230.9 147.7,230.9" fill="#267300"/>
<polygon points="137.7,230.6 140.4,230.6 140.4,233.4 137.7,233.4" fill="#267300"/>
<polygon points="152.7,220.7 155.4,220.7 155.4,223.4 152.7,223.4" fill="#267300"/>
<polygon points="133.9,235.6 136.7,235.6 136.7,238.4 133.9,238.4" fill="#267300"/>
</g>
<polygon points="23.1,132.0 27.8,119.9 28.7,112.4 30.6,103.9 33.4,102.1 38.1,104.9 44.6,103.0 50.2,99.3 56.8,94.6 57.7,89.9 60.5,82.4 64.3,69.3 67.1,61.8 67.1,54.3 60.9,52.8 62.4,48.7 68.0,42.2 75.5,38.4 84.0,35.2 92.4,32.2 99.9,33.4 107.3,34.7 114.8,35.6 122.3,39.4 127.5,47.8 133.1,58.1 138.7,66.5 142.5,74.0 147.1,79.6 157.4,83.4 166.8,84.3 174.3,86.2 181.8,89.9 186.5,95.5 190.2,104.9 194.9,105.8 202.4,103.0 209.9,97.4 217.3,91.8 224.8,87.1 231.4,84.3 232.3,89.9 231.4,99.3 229.5,108.6 227.6,118.0 226.7,129.2 225.5,141.5 218.0,142.5 212.4,144.3 206.8,150.0 204.9,152.8 208.6,159.3 210.5,166.8 213.3,173.4 213.3,179.9 210.5,184.6 209.6,190.2 204.9,186.5 201.1,188.3 199.3,194.9 194.6,199.6 188.0,204.2 185.2,208.0 186.2,212.7 182.4,215.5 174.0,215.5 170.2,212.7 166.5,219.2 163.7,226.7 158.1,232.3 152.4,236.2 146.8,243.6 142.1,250.2 131.8,257.7 124.3,262.4 116.8,268.0 110.2,273.6 108.5,270.0 110.2,262.4 113.1,256.8 115.9,252.1 116.8,245.5 114.0,240.8 107.4,239.0 100.0,243.6 96.0,250.0 92.4,257.0 88.6,256.1 83.0,251.4 77.4,246.7 74.6,241.1 69.0,236.4 65.2,229.9 62.4,222.4 58.7,216.8 54.9,218.6 50.2,222.4 45.6,220.5 44.6,214.9 40.9,211.1 42.8,206.5 47.4,201.8 49.3,194.3 54.9,193.4 60.5,189.6 68.0,183.1 69.9,175.6 71.8,168.1 74.6,160.6 73.6,151.2 70.8,140.0 68.0,138.6 62.4,133.0 54.9,130.1 47.4,132.0 43.7,135.8 38.1,134.8 28.7,136.7" fill="none" stroke="#555" stroke-width="0.7" stroke-linejoin="round"/>
<rect x="14.8" y="14.8" width="224.1" height="285.4" fill="none" stroke="#000" stroke-width="1.5"/>
<path d="M55.0 14.8 v-4 M105.8 14.8 v-4 M158.0 14.8 v-4 M210.3 14.8 v-4 M33.8 300.2 v4.3 M98.7 300.2 v4.3 M163.8 300.2 v4.3 M230.9 300.2 v4.3 M14.8 21.0 h-4 M14.8 100.5 h-4 M14.8 182.0 h-4 M14.8 266.9 h-4 M238.9 53.5 h4 M238.9 139.0 h4 M238.9 227.5 h4" stroke="#000" stroke-width="1.3" fill="none"/>
<g class="ax">
<text x="55.3" y="9.9" text-anchor="middle" textLength="25.6" lengthAdjust="spacingAndGlyphs">120°E</text>
<text x="106.1" y="9.9" text-anchor="middle" textLength="25.6" lengthAdjust="spacingAndGlyphs">125°E</text>
<text x="158.3" y="9.9" text-anchor="middle" textLength="25.6" lengthAdjust="spacingAndGlyphs">130°E</text>
<text x="210.60000000000002" y="9.9" text-anchor="middle" textLength="25.6" lengthAdjust="spacingAndGlyphs">135°E</text>
<text x="34.099999999999994" y="313.6" text-anchor="middle" textLength="25.6" lengthAdjust="spacingAndGlyphs">115°E</text>
<text x="99.0" y="313.6" text-anchor="middle" textLength="25.6" lengthAdjust="spacingAndGlyphs">120°E</text>
<text x="164.10000000000002" y="313.6" text-anchor="middle" textLength="25.6" lengthAdjust="spacingAndGlyphs">125°E</text>
<text x="231.20000000000002" y="313.6" text-anchor="middle" textLength="25.6" lengthAdjust="spacingAndGlyphs">130°E</text>
<text transform="translate(8.9,21.0) rotate(-90)" text-anchor="middle" font-size="9.6" textLength="21" lengthAdjust="spacingAndGlyphs" style="font-size:9.6px">55°N</text>
<text transform="translate(8.9,100.5) rotate(-90)" text-anchor="middle" font-size="9.6" textLength="21" lengthAdjust="spacingAndGlyphs" style="font-size:9.6px">50°N</text>
<text transform="translate(8.9,182.0) rotate(-90)" text-anchor="middle" font-size="9.6" textLength="21" lengthAdjust="spacingAndGlyphs" style="font-size:9.6px">45°N</text>
<text transform="translate(8.9,266.9) rotate(-90)" text-anchor="middle" font-size="9.6" textLength="21" lengthAdjust="spacingAndGlyphs" style="font-size:9.6px">40°N</text>
<text transform="translate(250.6,53.5) rotate(-90)" text-anchor="middle" textLength="21" lengthAdjust="spacingAndGlyphs" style="font-size:9.6px">50°N</text>
<text transform="translate(250.6,139.0) rotate(-90)" text-anchor="middle" textLength="21" lengthAdjust="spacingAndGlyphs" style="font-size:9.6px">45°N</text>
<text transform="translate(250.6,227.5) rotate(-90)" text-anchor="middle" textLength="21" lengthAdjust="spacingAndGlyphs" style="font-size:9.6px">40°N</text>
</g>
<text class="bs" x="29" y="34.2" font-size="16.5">H</text>
<text class="bs" x="17.8" y="261" font-size="14.5">SR</text>
<rect x="17" y="272.5" width="21.2" height="10.2" fill="#267300"/>
<rect x="17" y="286.8" width="21.2" height="10.2" fill="#4ce600"/>
<rect x="94.8" y="272.5" width="21.2" height="10.2" fill="#a3ff73"/>
<rect x="94.8" y="286.8" width="21.2" height="10.2" fill="#e1e1e1"/>
<text class="bs" x="42.4" y="283.2" font-size="14.5">P&lt;0.001</text>
<text class="bs" x="42.4" y="297.4" font-size="14.5">p&lt;0.01</text>
<text class="bs" x="120" y="283.2" font-size="14.5">p&lt;0.05</text>
<text class="bs" x="120" y="297.4" font-size="14.5">P &gt; 0.05</text>
<path d="M182.4 287.6 v6.8 h30 v-6.8 M197.4 290.8 v3.6" stroke="#000" stroke-width="1.3" fill="none"/>
<text class="bs" x="180.4" y="282.6" font-size="7.6" textLength="55" lengthAdjust="spacingAndGlyphs">0 100200 km</text>
</g>
<g transform="translate(770.8,317.8)">
<g clip-path="url(#frameclip)" stroke="#9a9a9a" stroke-width="0.7" fill="none">
<line x1="54.7" y1="12.8" x2="99.0" y2="302.2"/>
<line x1="105.4" y1="12.8" x2="164.3" y2="302.2"/>
<line x1="157.5" y1="12.8" x2="231.4" y2="302.2"/>
<line x1="209.7" y1="12.8" x2="298.6" y2="302.2"/>
<line x1="2.9" y1="0" x2="35.1" y2="313.1"/>
<circle cx="-99.5" cy="-994.0" r="1021.4"/>
<circle cx="-99.5" cy="-994.0" r="1100.5"/>
<circle cx="-99.5" cy="-994.0" r="1181.5"/>
<circle cx="-99.5" cy="-994.0" r="1266.1"/>
</g>
<g clip-path="url(#mapclip)">
<polygon points="23.1,132.0 27.8,119.9 28.7,112.4 30.6,103.9 33.4,102.1 38.1,104.9 44.6,103.0 50.2,99.3 56.8,94.6 57.7,89.9 60.5,82.4 64.3,69.3 67.1,61.8 67.1,54.3 60.9,52.8 62.4,48.7 68.0,42.2 75.5,38.4 84.0,35.2 92.4,32.2 99.9,33.4 107.3,34.7 114.8,35.6 122.3,39.4 127.5,47.8 133.1,58.1 138.7,66.5 142.5,74.0 147.1,79.6 157.4,83.4 166.8,84.3 174.3,86.2 181.8,89.9 186.5,95.5 190.2,104.9 194.9,105.8 202.4,103.0 209.9,97.4 217.3,91.8 224.8,87.1 231.4,84.3 232.3,89.9 231.4,99.3 229.5,108.6 227.6,118.0 226.7,129.2 225.5,141.5 218.0,142.5 212.4,144.3 206.8,150.0 204.9,152.8 208.6,159.3 210.5,166.8 213.3,173.4 213.3,179.9 210.5,184.6 209.6,190.2 204.9,186.5 201.1,188.3 199.3,194.9 194.6,199.6 188.0,204.2 185.2,208.0 186.2,212.7 182.4,215.5 174.0,215.5 170.2,212.7 166.5,219.2 163.7,226.7 158.1,232.3 152.4,236.2 146.8,243.6 142.1,250.2 131.8,257.7 124.3,262.4 116.8,268.0 110.2,273.6 108.5,270.0 110.2,262.4 113.1,256.8 115.9,252.1 116.8,245.5 114.0,240.8 107.4,239.0 100.0,243.6 96.0,250.0 92.4,257.0 88.6,256.1 83.0,251.4 77.4,246.7 74.6,241.1 69.0,236.4 65.2,229.9 62.4,222.4 58.7,216.8 54.9,218.6 50.2,222.4 45.6,220.5 44.6,214.9 40.9,211.1 42.8,206.5 47.4,201.8 49.3,194.3 54.9,193.4 60.5,189.6 68.0,183.1 69.9,175.6 71.8,168.1 74.6,160.6 73.6,151.2 70.8,140.0 68.0,138.6 62.4,133.0 54.9,130.1 47.4,132.0 43.7,135.8 38.1,134.8 28.7,136.7" fill="#e1e1e1"/>
<path d="M99.9 143.9 L99.2 143.0 L101.3 127.9 L103.7 120.7 L107.3 112.3 L110.7 106.6 L116.3 102.4 L118.0 101.7 L119.1 100.1 L126.1 93.6 L128.1 93.6 L129.4 92.9 L136.2 91.9 L140.8 93.2 L141.0 94.2 L140.0 96.1 L140.1 100.1 L140.8 101.7 L142.3 102.4 L146.5 102.3 L151.1 106.8 L157.5 110.7 L162.2 114.3 L169.4 121.0 L171.0 120.9 L176.6 118.1 L179.0 114.0 L180.1 114.3 L180.3 115.8 L181.4 117.0 L181.5 120.8 L185.1 125.8 L187.2 125.9 L192.7 123.2 L193.6 122.2 L193.6 124.0 L194.5 125.0 L201.5 125.1 L202.3 124.8 L202.8 123.9 L202.8 118.5 L202.5 117.7 L201.6 117.1 L194.8 117.1 L193.7 118.0 L193.6 119.9 L191.2 111.4 L190.1 110.2 L190.8 102.4 L187.7 94.6 L182.7 88.7 L174.7 84.7 L167.1 82.8 L157.7 81.9 L148.0 78.3 L143.8 73.2 L139.9 65.7 L134.4 57.3 L128.8 47.0 L123.2 38.2 L115.1 34.1 L92.3 30.7 L75.0 37.0 L67.3 40.9 L61.2 47.8 L59.4 52.4 L59.5 53.3 L60.4 54.2 L65.6 55.5 L65.6 61.5 L62.9 68.9 L59.1 81.9 L56.3 89.5 L55.4 93.7 L44.0 101.6 L38.3 103.3 L33.3 100.6 L29.5 102.9 L27.2 112.1 L26.3 119.5 L21.7 131.6 L22.0 133.1 L27.7 137.8 L28.7 138.2 L38.1 136.3 L44.0 137.3 L48.2 133.4 L54.8 131.7 L61.6 134.3 L67.1 139.8 L69.5 141.0 L72.1 151.5 L73.1 160.4 L70.3 167.7 L66.7 182.3 L59.6 188.4 L54.3 192.0 L48.9 192.8 L48.0 193.5 L46.0 201.0 L41.5 205.7 L39.4 210.9 L39.7 212.0 L43.2 215.6 L44.2 220.9 L44.8 221.7 L50.3 223.9 L55.7 219.9 L58.2 218.7 L59.3 220.5 L63.3 215.3 L67.9 210.7 L72.2 208.5 L78.4 207.3 L85.5 204.3 L89.9 196.0 L92.1 190.4 L98.6 186.6 L98.7 187.8 L99.3 188.5 L100.3 188.7 L101.3 188.1 L105.2 181.8 L106.6 175.9 L105.9 174.7 L101.8 172.7Z M102.2 180.3 L102.0 176.3 L103.3 177.0Z M76.7 195.1 L73.9 195.3 L71.4 191.6 L71.4 187.9 L74.4 186.7 L77.5 190.6Z M114.7 124.7 L108.7 130.7 L110.0 135.4 L110.8 136.2 L116.5 135.1 L120.4 135.1 L121.5 134.0 L121.5 129.5 L121.0 128.7 L120.0 128.3 L120.3 127.3 L120.0 126.4 L115.6 124.7Z M129.9 144.0 L130.4 144.8 L131.4 145.1 L133.8 144.0 L136.6 144.0 L137.5 143.3 L137.8 135.0 L137.1 133.7 L135.1 133.3 L126.3 133.3 L125.1 134.0 L125.0 143.0 L126.0 143.8Z M105.1 162.8 L106.3 163.5 L109.1 163.4 L110.0 162.9 L110.3 162.1 L110.3 158.5 L109.8 157.4 L109.0 157.0 L106.3 157.0 L105.2 157.6 L104.8 158.5Z M138.4 164.8 L139.0 163.3 L137.7 158.0 L137.1 157.3 L128.8 157.0 L127.5 157.7 L127.4 158.9 L128.6 164.0 L129.3 164.8 L137.5 165.0Z M144.2 166.0 L143.5 167.3 L143.5 170.1 L144.1 171.1 L144.9 171.4 L148.8 171.4 L149.9 170.9 L150.3 170.1 L150.3 167.3 L149.7 166.1 L148.8 165.8Z M162.2 183.6 L163.2 174.4 L162.7 173.3 L158.7 169.0 L157.5 168.7 L156.4 169.0 L150.6 173.5 L143.9 172.4 L142.7 172.7 L134.7 176.7 L129.1 182.5 L128.8 183.7 L128.8 191.4 L130.2 198.4 L131.8 199.8 L138.5 201.1 L139.9 200.9 L142.3 199.1 L142.3 201.4 L143.1 202.5 L148.1 202.5 L149.0 201.3 L149.0 196.0 L148.6 195.1 L147.6 194.6 L150.3 191.9 L156.5 188.2Z M107.6 217.8 L106.5 217.1 L102.5 217.1 L101.5 217.6 L101.1 218.5 L101.2 225.3 L102.2 226.3 L104.6 226.4 L103.9 230.0 L105.3 233.3 L99.0 232.1 L97.7 232.6 L97.4 233.4 L97.4 238.6 L91.4 242.7 L91.1 243.7 L91.4 245.9 L88.6 252.4 L90.1 256.9 L91.2 257.5 L92.3 257.2 L95.7 253.8 L101.1 244.7 L106.3 241.4 L105.2 240.5 L106.4 235.6 L107.3 236.8 L113.7 241.9 L116.7 242.3 L114.9 248.1 L114.5 251.6 L113.9 252.6 L114.0 254.5 L112.2 255.5 L108.8 261.8 L107.1 269.6 L109.1 274.6 L110.2 275.1 L111.2 274.7 L117.7 269.2 L128.9 260.7 L133.2 258.5 L139.3 254.1 L143.3 250.1 L147.2 243.6 L147.5 242.2 L146.6 240.3 L144.5 239.9 L135.4 244.9 L123.6 247.3 L127.2 243.7 L129.6 238.8 L139.3 229.1 L140.0 227.9 L141.2 217.9 L140.7 217.0 L137.9 214.2 L136.0 213.6 L133.6 206.4 L132.7 205.3 L131.5 204.9 L126.1 204.9 L124.4 205.8 L120.3 215.1 L118.3 221.1 L113.6 221.1 L107.8 222.3Z M78.5 226.1 L79.1 224.9 L79.1 218.5 L78.6 217.5 L77.6 217.1 L70.2 217.1 L69.0 217.7 L68.7 218.6 L68.7 224.9 L69.2 226.0 L70.2 226.4Z M97.1 231.2 L97.8 230.1 L97.9 226.1 L97.5 225.1 L96.8 224.7 L92.0 224.7 L91.2 225.7 L91.1 227.5 L88.6 227.1 L87.4 228.2 L87.4 233.7 L88.4 235.0 L93.6 236.3 L94.5 236.2 L95.3 235.3 L96.3 231.3Z M213.6 93.2 L212.7 93.4 L208.6 96.5 L208.7 99.2 L209.2 99.9 L210.1 100.1 L215.2 100.1 L216.3 99.5 L220.3 104.7 L222.4 105.5 L219.5 106.0 L218.6 107.0 L219.3 121.3 L219.9 122.3 L224.3 124.9 L225.6 125.0 L228.8 122.0 L229.8 114.6 L229.0 105.8 L228.4 104.9 L232.8 100.1 L233.7 91.4 L232.2 88.9 L233.6 88.5 L232.7 83.6 L232.0 82.9 L230.8 82.9 L226.8 84.6 L226.8 85.2 L222.9 86.5 L216.7 90.4Z M196.3 147.1 L197.3 147.7 L197.9 148.6 L198.8 149.0 L201.7 148.8 L205.6 147.6 L206.4 146.9 L205.3 133.4 L204.5 132.3 L197.4 132.1 L196.3 132.9Z M218.0 138.1 L217.3 139.3 L217.3 143.1 L217.8 144.1 L225.8 143.0 L226.9 142.1 L227.3 138.2 L226.9 137.9Z M153.0 157.3 L159.9 154.5 L161.0 153.5 L161.3 152.3 L161.3 142.3 L158.4 133.5 L154.5 127.1 L153.6 126.3 L152.4 126.1 L151.0 126.6 L145.4 131.1 L145.0 132.3 L145.0 141.5 L141.6 146.0 L141.3 147.5 L144.7 154.2 L151.6 157.1Z M186.8 156.0 L186.1 157.3 L186.1 162.4 L186.6 163.4 L188.3 164.4 L194.1 163.9 L195.0 163.4 L195.3 162.6 L195.3 157.3 L194.8 156.1 L192.7 154.7Z M149.2 158.5 L148.5 159.8 L148.5 163.7 L149.2 164.8 L157.5 165.0 L158.8 164.4 L159.0 159.6 L158.4 158.5 L157.5 158.3Z M199.6 160.5 L193.9 169.2 L192.6 177.5 L194.7 182.2 L192.2 182.2 L191.2 183.2 L191.1 188.2 L192.2 189.3 L196.9 189.3 L197.7 188.5 L197.8 187.3 L209.8 187.3 L210.9 186.3 L214.8 178.4 L214.7 173.0 L211.9 166.3 L210.6 161.2 L209.5 159.5 L208.5 158.7 L207.3 158.5 L200.6 159.9Z M186.3 187.8 L185.2 187.2 L178.0 187.4 L177.4 188.5 L177.6 193.2 L178.7 193.9 L185.9 193.6 L186.6 192.5Z M190.2 201.9 L190.3 200.8 L189.1 194.6 L188.3 193.6 L187.0 193.5 L180.8 196.0 L180.0 196.7 L180.0 198.0 L182.5 204.2 L183.1 204.9 L184.4 205.0Z M186.0 208.7 L184.7 208.4 L179.6 209.7 L178.9 210.2 L178.6 211.4 L179.4 215.8 L179.9 216.5 L180.8 216.9 L183.4 216.6 L187.4 213.6 L186.6 209.5Z M160.6 221.3 L167.3 217.3 L167.9 216.3 L167.6 215.2 L163.7 210.1 L162.9 209.6 L160.9 209.7 L153.3 212.2 L152.3 213.3 L152.3 218.8 L152.8 219.7 L158.5 221.3Z" fill="#a3ff73" fill-rule="evenodd"/>
<path d="M70.4 201.2 L65.6 194.7 L65.0 193.2 L64.9 185.8 L65.4 184.3 L66.4 183.0 L74.0 179.8 L76.0 179.8 L77.4 180.4 L83.8 188.4 L84.1 190.2 L83.5 194.3 L87.2 185.9 L95.7 180.8 L95.4 176.1 L92.0 174.7 L90.9 173.8 L86.4 166.4 L86.1 164.8 L86.4 163.2 L87.3 161.9 L88.5 161.1 L87.3 160.3 L86.4 159.0 L86.3 156.2 L89.4 151.6 L90.8 150.4 L90.8 148.9 L92.5 143.8 L95.0 126.5 L97.7 118.3 L101.4 109.5 L105.4 102.8 L110.8 98.4 L109.4 95.5 L109.9 92.8 L111.3 91.5 L112.7 90.9 L114.7 91.1 L116.3 92.2 L118.0 90.2 L119.5 89.7 L120.8 89.7 L122.8 87.8 L124.4 87.2 L122.4 75.2 L122.8 73.3 L124.0 71.7 L125.4 71.1 L127.4 71.0 L128.8 71.7 L129.8 72.8 L130.4 74.3 L132.3 85.9 L136.7 85.4 L140.7 86.4 L142.7 85.9 L144.9 86.6 L146.5 88.7 L147.7 94.5 L155.1 101.7 L160.9 105.2 L166.3 109.2 L170.9 113.7 L172.1 113.1 L174.2 109.0 L175.9 107.5 L178.2 107.2 L183.7 108.5 L184.3 103.0 L181.7 97.0 L176.2 90.4 L170.5 86.7 L161.8 88.4 L159.9 88.1 L158.6 87.2 L157.7 85.9 L157.4 81.8 L148.0 78.3 L143.8 73.2 L139.9 65.7 L134.4 57.3 L128.8 47.1 L123.5 38.5 L115.2 34.2 L92.2 30.7 L75.0 37.0 L67.1 41.0 L61.2 47.8 L59.4 52.4 L59.5 53.4 L60.3 54.2 L65.6 55.5 L65.6 61.5 L62.9 68.9 L59.1 81.9 L56.3 89.5 L55.4 93.7 L44.0 101.6 L38.3 103.3 L34.0 100.7 L33.1 100.6 L29.7 102.7 L29.1 103.6 L27.2 112.1 L26.3 119.5 L21.7 131.6 L21.9 132.9 L27.7 137.8 L28.7 138.2 L38.1 136.3 L44.0 137.3 L48.2 133.4 L54.8 131.7 L61.6 134.3 L67.1 139.8 L69.5 141.0 L72.1 151.5 L73.1 160.4 L70.3 167.7 L66.7 182.3 L59.6 188.4 L54.3 192.0 L48.9 192.8 L48.2 193.3 L46.0 201.0 L41.5 205.7 L39.5 210.7 L39.5 211.7 L43.2 215.6 L43.7 218.4 L48.1 218.4 L55.1 215.4 L58.6 210.8 L64.2 205.3 L69.9 202.4 L72.3 201.9Z M117.3 131.2 L116.3 130.0 L116.8 128.3 L115.5 127.8 L111.8 131.5 L112.3 133.0 L116.9 132.1Z M128.8 136.5 L127.8 136.3 L127.8 140.8 L128.8 140.8Z M130.7 160.0 L131.2 162.0 L135.6 162.0 L135.1 160.0Z M93.6 162.7 L94.8 164.8 L94.4 158.4 L93.1 160.2 L91.7 161.1Z M152.5 180.0 L151.0 180.2 L144.4 179.1 L138.7 182.0 L135.3 185.3 L135.3 190.8 L136.0 194.0 L137.8 194.4 L141.2 191.9 L147.2 186.2 L142.5 186.2 L142.5 181.2 L147.5 181.2 L147.5 186.0 L152.8 182.8 L156.2 180.3 L156.5 177.1Z M145.3 197.6 L145.3 199.6 L146.0 199.6 L146.0 197.6Z M104.8 223.4 L104.8 220.1 L104.1 220.1 L104.1 223.4Z M130.5 225.8 L129.3 224.7 L128.6 222.9 L129.7 215.2 L128.7 212.1 L126.3 217.5 L123.7 225.2 L122.9 226.5 L120.8 227.5 L114.2 227.6 L110.9 228.3 L110.6 229.4 L112.0 232.3 L116.5 235.8 L121.5 235.8 L123.5 236.6 L124.4 234.8 L126.1 233.2Z M94.9 228.4 L94.9 227.6 L94.1 227.6 L94.1 228.7Z M103.3 236.0 L100.4 235.4 L100.4 237.4 L100.9 237.8 L102.8 237.8Z M94.4 247.1 L91.7 252.4 L92.0 253.3 L102.9 242.4 L101.4 241.1 L94.4 245.6Z M130.1 252.6 L124.6 253.9 L121.1 255.6 L120.8 257.5 L120.0 258.8 L116.1 260.7 L113.0 263.8 L113.2 266.1 L118.8 260.4 L125.1 255.4Z M211.6 96.4 L211.6 97.1 L213.6 97.1 L213.6 96.4Z M226.2 107.9 L221.6 108.6 L222.2 120.2 L224.8 121.7 L227.2 119.3Z M196.6 122.1 L199.8 122.1 L199.8 120.1 L196.6 120.1Z M200.3 138.9 L201.1 138.5 L201.9 138.6 L202.8 139.9 L201.1 145.5 L203.4 145.0 L202.4 135.1 L199.1 135.1 L199.1 139.8 L199.8 139.8Z M224.8 140.8 L220.3 140.8 L220.3 141.5 L224.8 141.5Z M150.9 144.4 L148.5 147.7 L149.2 149.2 L152.5 150.5 L154.8 149.6 L154.8 143.0 L152.6 136.5 L151.5 134.7 L151.5 142.7Z M192.3 161.1 L191.4 158.0 L189.3 158.6 L189.6 161.3Z M156.0 161.3 L151.5 161.3 L151.5 162.0 L156.0 162.0Z M208.4 176.1 L208.7 173.9 L207.0 167.2 L205.4 165.6 L203.9 165.9 L200.3 171.2 L199.3 176.7 L201.3 181.0 L206.3 181.0Z M194.8 186.4 L194.8 185.2 L194.1 185.2 L194.1 186.4Z M183.6 190.9 L183.6 190.2 L180.4 190.2 L180.4 190.9Z M184.6 201.6 L187.1 200.3 L186.5 197.0 L183.3 198.2Z M184.5 213.5 L184.0 211.7 L181.8 212.2 L182.1 213.7Z" fill="#4ce600" fill-rule="evenodd"/>
<path d="M151.3 84.9 L151.4 85.1 L151.4 84.9Z M164.9 100.6 L170.1 104.5 L173.4 102.0 L176.9 101.1 L176.5 100.2 L172.1 94.9 L169.3 93.0 L162.4 94.4 L159.4 94.2 L155.8 92.7 L154.3 91.5 L152.8 89.5 L153.1 91.2 L158.9 96.9Z M59.4 195.4 L59.0 193.4 L58.9 188.9 L54.3 192.0 L48.3 193.2 L46.0 201.0 L41.5 205.8 L39.5 210.7 L39.7 212.0 L40.0 212.4 L46.9 212.4 L51.3 210.5 L54.3 206.5 L59.3 201.6 L61.8 199.8Z M68.3 175.6 L74.3 173.7 L78.2 174.1 L81.6 176.0 L85.1 180.0 L87.3 178.7 L85.3 176.3 L81.5 170.1 L80.5 167.6 L80.2 163.8 L80.8 161.1 L80.1 157.3 L80.5 154.6 L81.6 152.1 L85.0 147.6 L86.6 142.4 L89.1 125.1 L91.9 116.7 L96.5 106.0 L100.8 98.9 L103.5 96.4 L103.4 93.4 L104.3 90.6 L106.6 87.5 L109.1 85.9 L111.9 85.0 L115.0 85.0 L117.8 83.9 L116.4 74.6 L117.0 71.7 L118.3 69.1 L120.4 67.0 L123.9 65.3 L127.8 65.0 L130.6 65.8 L133.1 67.4 L135.4 70.5 L136.3 73.3 L137.3 79.4 L140.5 80.1 L142.3 79.9 L141.3 77.7 L140.9 74.8 L141.1 72.8 L142.2 70.1 L139.9 65.7 L134.4 57.3 L128.8 47.1 L123.5 38.5 L115.2 34.2 L92.2 30.7 L75.0 37.0 L67.1 41.0 L61.2 47.8 L59.4 52.4 L59.5 53.4 L60.3 54.2 L65.6 55.5 L65.6 61.5 L62.9 68.9 L59.1 81.9 L56.3 89.5 L55.4 93.7 L44.0 101.6 L38.3 103.3 L34.0 100.7 L33.1 100.6 L29.8 102.6 L29.2 103.4 L27.2 112.1 L26.3 119.5 L21.7 131.5 L21.8 132.7 L27.7 137.8 L28.7 138.2 L38.1 136.3 L44.0 137.3 L48.2 133.4 L54.8 131.7 L61.6 134.3 L67.1 139.8 L69.5 141.0 L72.1 151.5 L73.1 160.4 L70.3 167.7Z" fill="#267300" fill-rule="evenodd"/>
<path d="M115.1 80.4 L107.6 80.4 L107.6 86.9 L115.1 86.9Z M223.3 92.4 L223.3 97.4 L227.5 97.4 L227.5 92.4Z M62.7 102.4 L63.9 109.9 L71.4 108.6 L70.2 101.9Z M46.4 104.4 L39.0 104.4 L39.0 107.9 L46.4 107.9Z M71.4 166.8 L71.4 170.3 L75.4 170.3 L75.4 166.8Z M57.7 196.1 L58.9 204.9 L63.4 202.4 L61.4 194.9Z" fill="#e1e1e1" fill-rule="evenodd"/>
<polygon points="148.0,146.0 155.5,146.0 155.5,153.5 148.0,153.5" fill="#267300"/>
<polygon points="140.5,178.5 147.0,178.5 147.0,185.0 140.5,185.0" fill="#267300"/>
<polygon points="123.0,216.0 133.0,216.0 133.0,224.0 123.0,224.0" fill="#267300"/>
</g>
<polygon points="23.1,132.0 27.8,119.9 28.7,112.4 30.6,103.9 33.4,102.1 38.1,104.9 44.6,103.0 50.2,99.3 56.8,94.6 57.7,89.9 60.5,82.4 64.3,69.3 67.1,61.8 67.1,54.3 60.9,52.8 62.4,48.7 68.0,42.2 75.5,38.4 84.0,35.2 92.4,32.2 99.9,33.4 107.3,34.7 114.8,35.6 122.3,39.4 127.5,47.8 133.1,58.1 138.7,66.5 142.5,74.0 147.1,79.6 157.4,83.4 166.8,84.3 174.3,86.2 181.8,89.9 186.5,95.5 190.2,104.9 194.9,105.8 202.4,103.0 209.9,97.4 217.3,91.8 224.8,87.1 231.4,84.3 232.3,89.9 231.4,99.3 229.5,108.6 227.6,118.0 226.7,129.2 225.5,141.5 218.0,142.5 212.4,144.3 206.8,150.0 204.9,152.8 208.6,159.3 210.5,166.8 213.3,173.4 213.3,179.9 210.5,184.6 209.6,190.2 204.9,186.5 201.1,188.3 199.3,194.9 194.6,199.6 188.0,204.2 185.2,208.0 186.2,212.7 182.4,215.5 174.0,215.5 170.2,212.7 166.5,219.2 163.7,226.7 158.1,232.3 152.4,236.2 146.8,243.6 142.1,250.2 131.8,257.7 124.3,262.4 116.8,268.0 110.2,273.6 108.5,270.0 110.2,262.4 113.1,256.8 115.9,252.1 116.8,245.5 114.0,240.8 107.4,239.0 100.0,243.6 96.0,250.0 92.4,257.0 88.6,256.1 83.0,251.4 77.4,246.7 74.6,241.1 69.0,236.4 65.2,229.9 62.4,222.4 58.7,216.8 54.9,218.6 50.2,222.4 45.6,220.5 44.6,214.9 40.9,211.1 42.8,206.5 47.4,201.8 49.3,194.3 54.9,193.4 60.5,189.6 68.0,183.1 69.9,175.6 71.8,168.1 74.6,160.6 73.6,151.2 70.8,140.0 68.0,138.6 62.4,133.0 54.9,130.1 47.4,132.0 43.7,135.8 38.1,134.8 28.7,136.7" fill="none" stroke="#555" stroke-width="0.7" stroke-linejoin="round"/>
<rect x="14.8" y="14.8" width="224.1" height="285.4" fill="none" stroke="#000" stroke-width="1.5"/>
<path d="M55.0 14.8 v-4 M105.8 14.8 v-4 M158.0 14.8 v-4 M210.3 14.8 v-4 M33.8 300.2 v4.3 M98.7 300.2 v4.3 M163.8 300.2 v4.3 M230.9 300.2 v4.3 M14.8 21.0 h-4 M14.8 100.5 h-4 M14.8 182.0 h-4 M14.8 266.9 h-4 M238.9 53.5 h4 M238.9 139.0 h4 M238.9 227.5 h4" stroke="#000" stroke-width="1.3" fill="none"/>
<g class="ax">
<text x="55.3" y="9.9" text-anchor="middle" textLength="25.6" lengthAdjust="spacingAndGlyphs">120°E</text>
<text x="106.1" y="9.9" text-anchor="middle" textLength="25.6" lengthAdjust="spacingAndGlyphs">125°E</text>
<text x="158.3" y="9.9" text-anchor="middle" textLength="25.6" lengthAdjust="spacingAndGlyphs">130°E</text>
<text x="210.60000000000002" y="9.9" text-anchor="middle" textLength="25.6" lengthAdjust="spacingAndGlyphs">135°E</text>
<text x="34.099999999999994" y="313.6" text-anchor="middle" textLength="25.6" lengthAdjust="spacingAndGlyphs">115°E</text>
<text x="99.0" y="313.6" text-anchor="middle" textLength="25.6" lengthAdjust="spacingAndGlyphs">120°E</text>
<text x="164.10000000000002" y="313.6" text-anchor="middle" textLength="25.6" lengthAdjust="spacingAndGlyphs">125°E</text>
<text x="231.20000000000002" y="313.6" text-anchor="middle" textLength="25.6" lengthAdjust="spacingAndGlyphs">130°E</text>
<text transform="translate(8.9,21.0) rotate(-90)" text-anchor="middle" font-size="9.6" textLength="21" lengthAdjust="spacingAndGlyphs" style="font-size:9.6px">55°N</text>
<text transform="translate(8.9,100.5) rotate(-90)" text-anchor="middle" font-size="9.6" textLength="21" lengthAdjust="spacingAndGlyphs" style="font-size:9.6px">50°N</text>
<text transform="translate(8.9,182.0) rotate(-90)" text-anchor="middle" font-size="9.6" textLength="21" lengthAdjust="spacingAndGlyphs" style="font-size:9.6px">45°N</text>
<text transform="translate(8.9,266.9) rotate(-90)" text-anchor="middle" font-size="9.6" textLength="21" lengthAdjust="spacingAndGlyphs" style="font-size:9.6px">40°N</text>
<text transform="translate(250.6,53.5) rotate(-90)" text-anchor="middle" textLength="21" lengthAdjust="spacingAndGlyphs" style="font-size:9.6px">50°N</text>
<text transform="translate(250.6,139.0) rotate(-90)" text-anchor="middle" textLength="21" lengthAdjust="spacingAndGlyphs" style="font-size:9.6px">45°N</text>
<text transform="translate(250.6,227.5) rotate(-90)" text-anchor="middle" textLength="21" lengthAdjust="spacingAndGlyphs" style="font-size:9.6px">40°N</text>
</g>
<text class="bs" x="29" y="34.2" font-size="16.5">I</text>
<text class="bs" x="17.8" y="261" font-size="14.5">FP</text>
<rect x="17" y="272.5" width="21.2" height="10.2" fill="#267300"/>
<rect x="17" y="286.8" width="21.2" height="10.2" fill="#4ce600"/>
<rect x="94.8" y="272.5" width="21.2" height="10.2" fill="#a3ff73"/>
<rect x="94.8" y="286.8" width="21.2" height="10.2" fill="#e1e1e1"/>
<text class="bs" x="42.4" y="283.2" font-size="14.5">P&lt;0.001</text>
<text class="bs" x="42.4" y="297.4" font-size="14.5">p&lt;0.01</text>
<text class="bs" x="120" y="283.2" font-size="14.5">p&lt;0.05</text>
<text class="bs" x="120" y="297.4" font-size="14.5">P &gt; 0.05</text>
<path d="M182.4 287.6 v6.8 h30 v-6.8 M197.4 290.8 v3.6" stroke="#000" stroke-width="1.3" fill="none"/>
<text class="bs" x="180.4" y="282.6" font-size="7.6" textLength="55" lengthAdjust="spacingAndGlyphs">0 100200 km</text>
</g>
<rect x="1036.8" y="15.0" width="188.79999999999995" height="282.2" fill="#c0c0c0"/>
<polygon points="1036.8,110.1 1099.7,165.7 1162.7,153.6 1225.6,162.9 1225.6,297.2 1036.8,297.2" fill="#aaffb4"/>
<polygon points="1036.8,114.1 1099.7,184.6 1162.7,160.6 1225.6,173.3 1225.6,297.2 1036.8,297.2" fill="#ff8000"/>
<polygon points="1036.8,127.9 1099.7,263.6 1162.7,189.7 1225.6,184.6 1225.6,297.2 1036.8,297.2" fill="#0000ff"/>
<polygon points="1036.8,221.6 1099.7,292.7 1162.7,267.6 1225.6,282.5 1225.6,297.2 1036.8,297.2" fill="#ff0000"/>
<path d="M1036.8 297.2 V15.0 H1225.6 V297.2 Z" fill="none" stroke="#1a1a1a" stroke-width="1.2"/>
<path d="M1225.6 297.2 h5.4 M1225.6 240.8 h5.4 M1225.6 184.3 h5.4 M1225.6 127.9 h5.4 M1225.6 71.4 h5.4 M1225.6 15.0 h5.4 M1036.8 297.2 v5.6 M1099.7 297.2 v5.6 M1162.7 297.2 v5.6 M1225.6 297.2 v5.6" stroke="#1a1a1a" stroke-width="1.2" fill="none"/>
<text class="sb" x="1235.4" y="300.3" font-size="11">0</text>
<text class="sb" x="1235.4" y="243.9" font-size="11">20</text>
<text class="sb" x="1235.4" y="187.4" font-size="11">40</text>
<text class="sb" x="1235.4" y="131.0" font-size="11">60</text>
<text class="sb" x="1235.4" y="74.5" font-size="11">80</text>
<text class="sb" x="1235.4" y="18.1" font-size="11">100</text>
<text class="bs" x="1036.8" y="316.0" font-size="12" text-anchor="middle">WY</text>
<text class="bs" x="1099.7" y="316.0" font-size="12" text-anchor="middle">CS</text>
<text class="bs" x="1162.7" y="316.0" font-size="12" text-anchor="middle">SR</text>
<text class="bs" x="1225.6" y="316.0" font-size="12" text-anchor="middle">FP</text>
<text class="bs" transform="translate(1264.5,160.1) rotate(-90)" font-size="14.7" text-anchor="middle">Percentage<tspan font-weight="normal" dx="6">(</tspan><tspan dx="3.5">%</tspan><tspan font-weight="normal" dx="3.5">)</tspan></text>
<text class="bs" x="1052" y="36.6" font-size="16.5">E</text>
<rect x="1159.8" y="15.6" width="65.2" height="89" fill="#fff"/>
<rect x="1162.2" y="18.3" width="30.8" height="15.2" fill="#ff0000"/>
<text class="sn" x="1197.4" y="31.1" font-size="13.6">H-H</text>
<rect x="1162.2" y="35.5" width="30.8" height="15.2" fill="#0000ff"/>
<text class="sn" x="1197.4" y="48.3" font-size="13.6">L-L</text>
<rect x="1162.2" y="52.7" width="30.8" height="15.2" fill="#ff8000"/>
<text class="sn" x="1197.4" y="65.5" font-size="13.6">H-L</text>
<rect x="1162.2" y="69.9" width="30.8" height="15.2" fill="#aaffb4"/>
<text class="sn" x="1197.4" y="82.7" font-size="13.6">L-H</text>
<rect x="1162.2" y="87.1" width="30.8" height="15.2" fill="#c0c0c0"/>
<text class="sn" x="1197.4" y="99.9" font-size="13.6">N-S</text>
<rect x="1036.8" y="335.5" width="188.79999999999995" height="282.9" fill="#c0c0c0"/>
<polygon points="1036.8,429.7 1099.7,486.0 1162.7,473.8 1225.6,484.0 1225.6,618.4 1036.8,618.4" fill="#66ff66"/>
<polygon points="1036.8,482.0 1099.7,533.2 1162.7,521.1 1225.6,527.0 1225.6,618.4 1036.8,618.4" fill="#00cd00"/>
<polygon points="1036.8,553.6 1099.7,559.8 1162.7,566.3 1225.6,556.2 1225.6,618.4 1036.8,618.4" fill="#006400"/>
<path d="M1036.8 618.4 V335.5 H1225.6 V618.4 Z" fill="none" stroke="#1a1a1a" stroke-width="1.2"/>
<path d="M1225.6 618.4 h5.4 M1225.6 561.8 h5.4 M1225.6 505.2 h5.4 M1225.6 448.7 h5.4 M1225.6 392.1 h5.4 M1225.6 335.5 h5.4 M1036.8 618.4 v5.6 M1099.7 618.4 v5.6 M1162.7 618.4 v5.6 M1225.6 618.4 v5.6" stroke="#1a1a1a" stroke-width="1.2" fill="none"/>
<text class="sb" x="1235.4" y="621.5" font-size="11">0</text>
<text class="sb" x="1235.4" y="564.9" font-size="11">20</text>
<text class="sb" x="1235.4" y="508.3" font-size="11">40</text>
<text class="sb" x="1235.4" y="451.8" font-size="11">60</text>
<text class="sb" x="1235.4" y="395.2" font-size="11">80</text>
<text class="sb" x="1235.4" y="338.6" font-size="11">100</text>
<text class="bs" x="1036.8" y="637.2" font-size="12" text-anchor="middle">WY</text>
<text class="bs" x="1099.7" y="637.2" font-size="12" text-anchor="middle">CS</text>
<text class="bs" x="1162.7" y="637.2" font-size="12" text-anchor="middle">SR</text>
<text class="bs" x="1225.6" y="637.2" font-size="12" text-anchor="middle">FP</text>
<text class="bs" transform="translate(1264.5,480.95) rotate(-90)" font-size="14.7" text-anchor="middle">Percentage<tspan font-weight="normal" dx="6">(</tspan><tspan dx="3.5">%</tspan><tspan font-weight="normal" dx="3.5">)</tspan></text>
<text class="bs" x="1048" y="357.1" font-size="16.5">J</text>
<rect x="1134" y="336.1" width="91" height="66.4" fill="#fff"/>
<rect x="1136.4" y="338.3" width="28.8" height="14.4" fill="#006400"/>
<text class="sr" x="1173" y="350.5" font-size="14.6" textLength="49" lengthAdjust="spacingAndGlyphs">P&lt;0. 001</text>
<rect x="1136.4" y="354.2" width="28.8" height="14.4" fill="#00cd00"/>
<text class="sr" x="1173" y="366.4" font-size="14.6" textLength="42" lengthAdjust="spacingAndGlyphs">P&lt;0. 01</text>
<rect x="1136.4" y="370.2" width="28.8" height="14.4" fill="#66ff66"/>
<text class="sr" x="1173" y="382.4" font-size="14.6" textLength="43" lengthAdjust="spacingAndGlyphs">P&lt;0. 05</text>
<rect x="1136.4" y="386.1" width="28.8" height="14.4" fill="#c0c0c0"/>
<text class="sr" x="1173" y="398.3" font-size="14.6" textLength="50" lengthAdjust="spacingAndGlyphs">P ≥0. 05</text>
</svg></body></html>
